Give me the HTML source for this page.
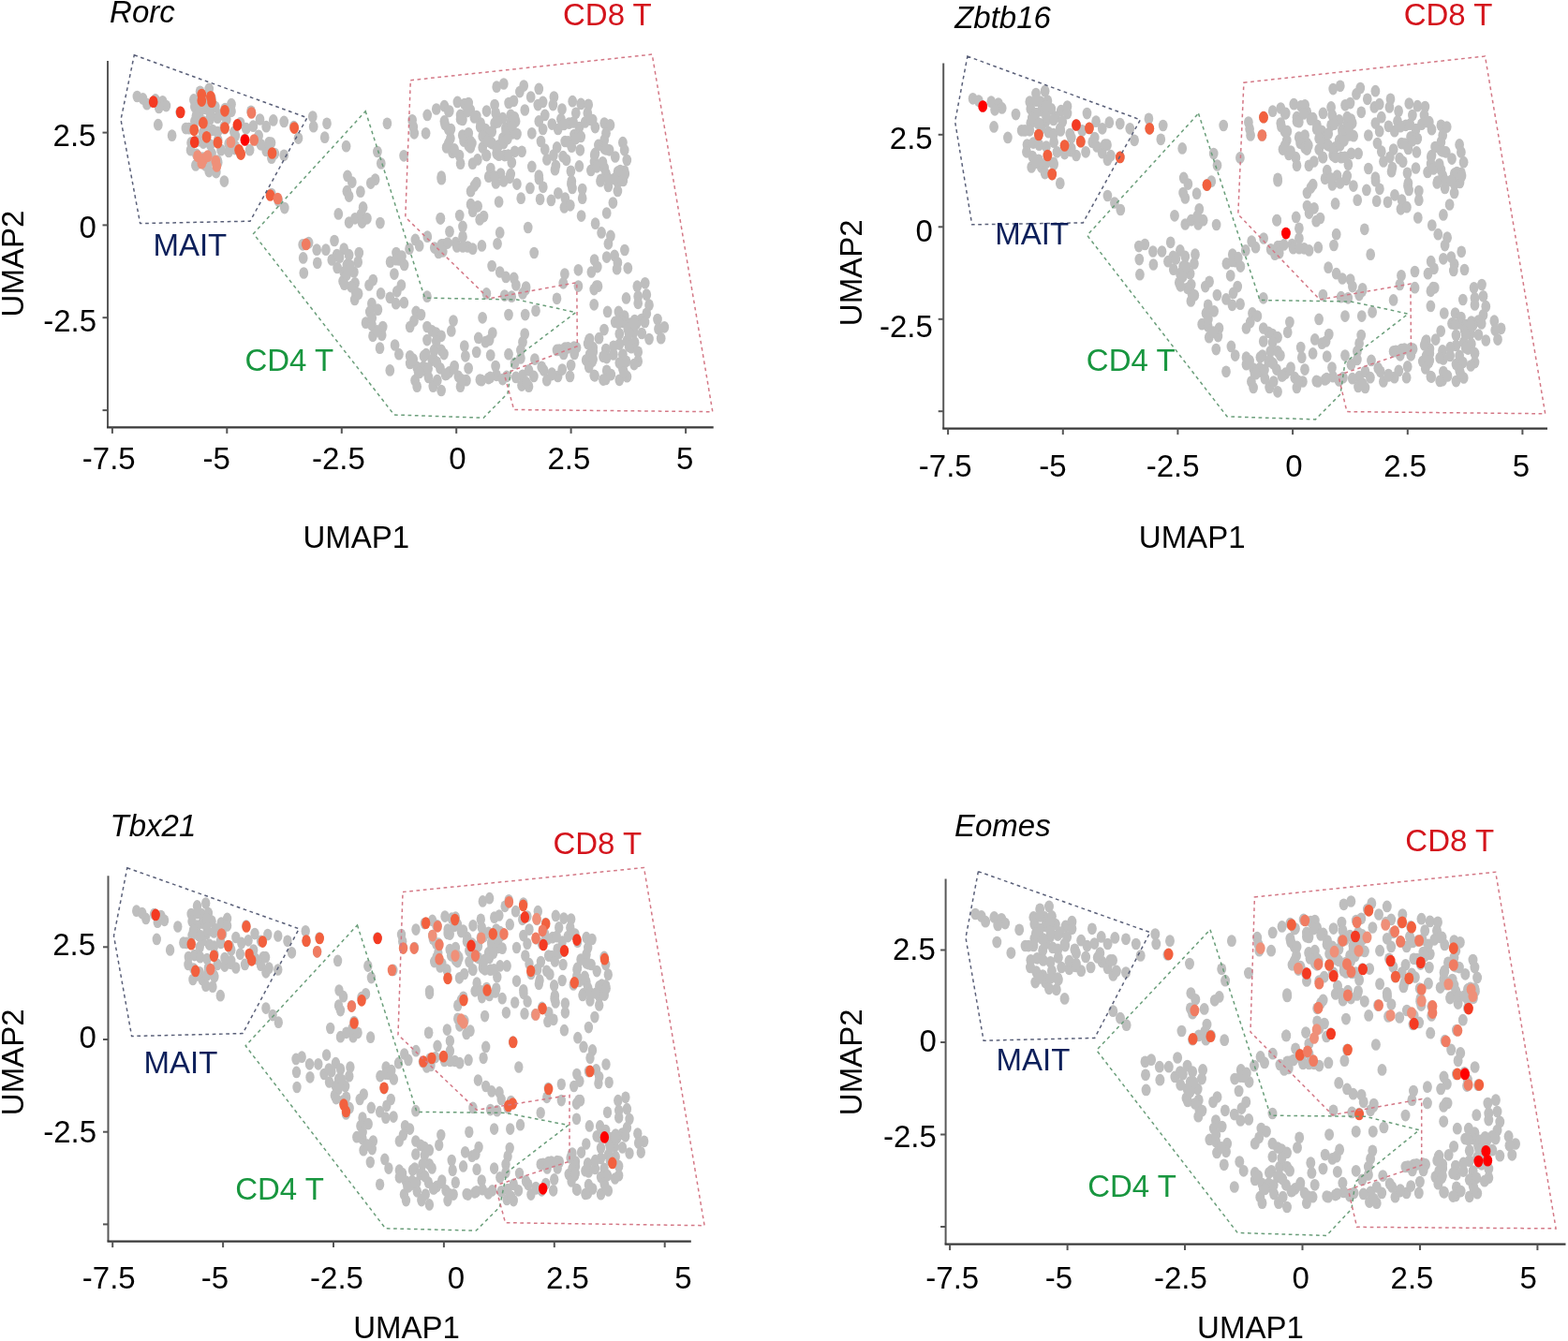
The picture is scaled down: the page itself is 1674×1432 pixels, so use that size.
<!DOCTYPE html><html><head><meta charset="utf-8"><style>
html,body{margin:0;padding:0;background:#fff}
svg{display:block}
text{font-family:"Liberation Sans",Arial,Helvetica,sans-serif}
</style></head><body>
<svg width="1674" height="1432" viewBox="0 0 1674 1432">
<g fill="#bebebe"><ellipse cx="146.4" cy="103.0" rx="4.85" ry="6.35"/><ellipse cx="165.9" cy="106.4" rx="4.85" ry="6.35"/><ellipse cx="173.6" cy="108.3" rx="4.85" ry="6.35"/><ellipse cx="177.4" cy="113.1" rx="4.85" ry="6.35"/><ellipse cx="169.7" cy="115.0" rx="4.85" ry="6.35"/><ellipse cx="192.2" cy="119.8" rx="4.85" ry="6.35"/><ellipse cx="168.8" cy="133.2" rx="4.85" ry="6.35"/><ellipse cx="183.6" cy="144.7" rx="4.85" ry="6.35"/><ellipse cx="223.2" cy="94.9" rx="4.85" ry="6.35"/><ellipse cx="213.6" cy="97.8" rx="4.85" ry="6.35"/><ellipse cx="206.9" cy="106.4" rx="4.85" ry="6.35"/><ellipse cx="218.4" cy="106.4" rx="4.85" ry="6.35"/><ellipse cx="226.0" cy="105.4" rx="4.85" ry="6.35"/><ellipse cx="207.9" cy="114.1" rx="4.85" ry="6.35"/><ellipse cx="219.3" cy="116.0" rx="4.85" ry="6.35"/><ellipse cx="229.8" cy="114.1" rx="4.85" ry="6.35"/><ellipse cx="240.3" cy="116.0" rx="4.85" ry="6.35"/><ellipse cx="247.0" cy="111.2" rx="4.85" ry="6.35"/><ellipse cx="247.0" cy="118.8" rx="4.85" ry="6.35"/><ellipse cx="207.9" cy="129.4" rx="4.85" ry="6.35"/><ellipse cx="215.5" cy="129.4" rx="4.85" ry="6.35"/><ellipse cx="224.1" cy="127.5" rx="4.85" ry="6.35"/><ellipse cx="198.4" cy="137.1" rx="4.85" ry="6.35"/><ellipse cx="206.9" cy="137.1" rx="4.85" ry="6.35"/><ellipse cx="227.0" cy="139.0" rx="4.85" ry="6.35"/><ellipse cx="204.1" cy="152.4" rx="4.85" ry="6.35"/><ellipse cx="210.8" cy="150.5" rx="4.85" ry="6.35"/><ellipse cx="232.7" cy="149.5" rx="4.85" ry="6.35"/><ellipse cx="239.4" cy="135.2" rx="4.85" ry="6.35"/><ellipse cx="268.0" cy="118.8" rx="4.85" ry="6.35"/><ellipse cx="277.5" cy="127.5" rx="4.85" ry="6.35"/><ellipse cx="284.2" cy="135.2" rx="4.85" ry="6.35"/><ellipse cx="256.6" cy="163.9" rx="4.85" ry="6.35"/><ellipse cx="244.2" cy="162.0" rx="4.85" ry="6.35"/><ellipse cx="209.8" cy="164.9" rx="4.85" ry="6.35"/><ellipse cx="208.9" cy="176.4" rx="4.85" ry="6.35"/><ellipse cx="219.3" cy="176.4" rx="4.85" ry="6.35"/><ellipse cx="232.7" cy="173.5" rx="4.85" ry="6.35"/><ellipse cx="239.4" cy="193.6" rx="4.85" ry="6.35"/><ellipse cx="278.5" cy="154.3" rx="4.85" ry="6.35"/><ellipse cx="284.2" cy="161.0" rx="4.85" ry="6.35"/><ellipse cx="249.9" cy="140.9" rx="4.85" ry="6.35"/><ellipse cx="156.9" cy="111.2" rx="4.85" ry="6.35"/><ellipse cx="216.5" cy="141.9" rx="4.85" ry="6.35"/><ellipse cx="226.0" cy="163.9" rx="4.85" ry="6.35"/><ellipse cx="244.2" cy="153.4" rx="4.85" ry="6.35"/><ellipse cx="256.6" cy="131.3" rx="4.85" ry="6.35"/><ellipse cx="261.3" cy="149.1" rx="4.85" ry="6.35"/><ellipse cx="270.4" cy="134.7" rx="4.85" ry="6.35"/><ellipse cx="230.8" cy="184.1" rx="4.85" ry="6.35"/><ellipse cx="291.8" cy="128.4" rx="4.85" ry="6.35"/><ellipse cx="287.0" cy="152.4" rx="4.85" ry="6.35"/><ellipse cx="289.9" cy="168.7" rx="4.85" ry="6.35"/><ellipse cx="303.2" cy="129.9" rx="4.85" ry="6.35"/><ellipse cx="313.7" cy="135.2" rx="4.85" ry="6.35"/><ellipse cx="318.5" cy="147.6" rx="4.85" ry="6.35"/><ellipse cx="333.8" cy="124.6" rx="4.85" ry="6.35"/><ellipse cx="349.0" cy="131.8" rx="4.85" ry="6.35"/><ellipse cx="346.7" cy="146.7" rx="4.85" ry="6.35"/><ellipse cx="369.6" cy="156.2" rx="4.85" ry="6.35"/><ellipse cx="413.4" cy="131.8" rx="4.85" ry="6.35"/><ellipse cx="402.9" cy="162.0" rx="4.85" ry="6.35"/><ellipse cx="406.8" cy="174.5" rx="4.85" ry="6.35"/><ellipse cx="431.1" cy="166.3" rx="4.85" ry="6.35"/><ellipse cx="371.0" cy="187.9" rx="4.85" ry="6.35"/><ellipse cx="375.8" cy="194.6" rx="4.85" ry="6.35"/><ellipse cx="400.6" cy="191.7" rx="4.85" ry="6.35"/><ellipse cx="334.7" cy="135.2" rx="4.85" ry="6.35"/><ellipse cx="303.2" cy="165.8" rx="4.85" ry="6.35"/><ellipse cx="395.8" cy="195.6" rx="4.85" ry="6.35"/><ellipse cx="440.1" cy="128.3" rx="4.85" ry="6.35"/><ellipse cx="442.2" cy="142.3" rx="4.85" ry="6.35"/><ellipse cx="465.8" cy="116.5" rx="4.85" ry="6.35"/><ellipse cx="474.4" cy="113.2" rx="4.85" ry="6.35"/><ellipse cx="479.8" cy="118.6" rx="4.85" ry="6.35"/><ellipse cx="474.4" cy="129.4" rx="4.85" ry="6.35"/><ellipse cx="478.7" cy="138.0" rx="4.85" ry="6.35"/><ellipse cx="480.9" cy="147.7" rx="4.85" ry="6.35"/><ellipse cx="476.6" cy="157.4" rx="4.85" ry="6.35"/><ellipse cx="483.0" cy="162.8" rx="4.85" ry="6.35"/><ellipse cx="490.5" cy="166.1" rx="4.85" ry="6.35"/><ellipse cx="491.6" cy="174.7" rx="4.85" ry="6.35"/><ellipse cx="488.4" cy="108.9" rx="4.85" ry="6.35"/><ellipse cx="495.9" cy="111.1" rx="4.85" ry="6.35"/><ellipse cx="500.2" cy="110.0" rx="4.85" ry="6.35"/><ellipse cx="491.6" cy="122.9" rx="4.85" ry="6.35"/><ellipse cx="491.6" cy="127.2" rx="4.85" ry="6.35"/><ellipse cx="502.3" cy="117.5" rx="4.85" ry="6.35"/><ellipse cx="508.8" cy="124.0" rx="4.85" ry="6.35"/><ellipse cx="513.1" cy="131.6" rx="4.85" ry="6.35"/><ellipse cx="518.4" cy="138.0" rx="4.85" ry="6.35"/><ellipse cx="521.7" cy="144.5" rx="4.85" ry="6.35"/><ellipse cx="523.8" cy="152.1" rx="4.85" ry="6.35"/><ellipse cx="493.8" cy="144.5" rx="4.85" ry="6.35"/><ellipse cx="500.2" cy="142.3" rx="4.85" ry="6.35"/><ellipse cx="502.3" cy="151.0" rx="4.85" ry="6.35"/><ellipse cx="502.3" cy="157.4" rx="4.85" ry="6.35"/><ellipse cx="515.2" cy="157.4" rx="4.85" ry="6.35"/><ellipse cx="519.5" cy="166.1" rx="4.85" ry="6.35"/><ellipse cx="504.5" cy="174.7" rx="4.85" ry="6.35"/><ellipse cx="509.9" cy="170.4" rx="4.85" ry="6.35"/><ellipse cx="530.2" cy="92.7" rx="4.85" ry="6.35"/><ellipse cx="537.8" cy="89.5" rx="4.85" ry="6.35"/><ellipse cx="519.5" cy="118.6" rx="4.85" ry="6.35"/><ellipse cx="528.1" cy="112.1" rx="4.85" ry="6.35"/><ellipse cx="529.2" cy="120.8" rx="4.85" ry="6.35"/><ellipse cx="528.1" cy="131.6" rx="4.85" ry="6.35"/><ellipse cx="536.7" cy="126.2" rx="4.85" ry="6.35"/><ellipse cx="539.9" cy="136.9" rx="4.85" ry="6.35"/><ellipse cx="536.7" cy="147.7" rx="4.85" ry="6.35"/><ellipse cx="532.4" cy="155.3" rx="4.85" ry="6.35"/><ellipse cx="530.2" cy="163.9" rx="4.85" ry="6.35"/><ellipse cx="538.8" cy="166.1" rx="4.85" ry="6.35"/><ellipse cx="543.1" cy="110.0" rx="4.85" ry="6.35"/><ellipse cx="548.5" cy="107.8" rx="4.85" ry="6.35"/><ellipse cx="554.9" cy="98.1" rx="4.85" ry="6.35"/><ellipse cx="559.2" cy="91.6" rx="4.85" ry="6.35"/><ellipse cx="545.3" cy="122.9" rx="4.85" ry="6.35"/><ellipse cx="550.6" cy="129.4" rx="4.85" ry="6.35"/><ellipse cx="547.4" cy="142.3" rx="4.85" ry="6.35"/><ellipse cx="549.6" cy="161.8" rx="4.85" ry="6.35"/><ellipse cx="557.1" cy="161.8" rx="4.85" ry="6.35"/><ellipse cx="546.3" cy="173.6" rx="4.85" ry="6.35"/><ellipse cx="560.3" cy="117.5" rx="4.85" ry="6.35"/><ellipse cx="567.8" cy="142.3" rx="4.85" ry="6.35"/><ellipse cx="567.8" cy="177.9" rx="4.85" ry="6.35"/><ellipse cx="566.7" cy="103.5" rx="4.85" ry="6.35"/><ellipse cx="575.3" cy="94.9" rx="4.85" ry="6.35"/><ellipse cx="574.3" cy="112.1" rx="4.85" ry="6.35"/><ellipse cx="579.6" cy="108.9" rx="4.85" ry="6.35"/><ellipse cx="581.8" cy="122.9" rx="4.85" ry="6.35"/><ellipse cx="575.3" cy="129.4" rx="4.85" ry="6.35"/><ellipse cx="579.6" cy="138.0" rx="4.85" ry="6.35"/><ellipse cx="577.5" cy="151.0" rx="4.85" ry="6.35"/><ellipse cx="581.8" cy="159.6" rx="4.85" ry="6.35"/><ellipse cx="583.9" cy="170.4" rx="4.85" ry="6.35"/><ellipse cx="591.4" cy="103.5" rx="4.85" ry="6.35"/><ellipse cx="590.4" cy="112.1" rx="4.85" ry="6.35"/><ellipse cx="600.0" cy="116.5" rx="4.85" ry="6.35"/><ellipse cx="598.9" cy="127.2" rx="4.85" ry="6.35"/><ellipse cx="595.7" cy="138.0" rx="4.85" ry="6.35"/><ellipse cx="589.3" cy="132.6" rx="4.85" ry="6.35"/><ellipse cx="594.6" cy="157.4" rx="4.85" ry="6.35"/><ellipse cx="603.2" cy="151.0" rx="4.85" ry="6.35"/><ellipse cx="601.1" cy="167.2" rx="4.85" ry="6.35"/><ellipse cx="592.5" cy="181.2" rx="4.85" ry="6.35"/><ellipse cx="471.2" cy="188.7" rx="4.85" ry="6.35"/><ellipse cx="523.8" cy="180.1" rx="4.85" ry="6.35"/><ellipse cx="521.7" cy="188.7" rx="4.85" ry="6.35"/><ellipse cx="534.5" cy="185.5" rx="4.85" ry="6.35"/><ellipse cx="544.2" cy="189.8" rx="4.85" ry="6.35"/><ellipse cx="575.3" cy="187.7" rx="4.85" ry="6.35"/><ellipse cx="508.8" cy="195.2" rx="4.85" ry="6.35"/><ellipse cx="456.2" cy="122.9" rx="4.85" ry="6.35"/><ellipse cx="454.6" cy="142.3" rx="4.85" ry="6.35"/><ellipse cx="611.2" cy="108.2" rx="4.85" ry="6.35"/><ellipse cx="620.2" cy="110.9" rx="4.85" ry="6.35"/><ellipse cx="628.2" cy="111.8" rx="4.85" ry="6.35"/><ellipse cx="614.8" cy="120.8" rx="4.85" ry="6.35"/><ellipse cx="627.3" cy="120.8" rx="4.85" ry="6.35"/><ellipse cx="632.7" cy="128.0" rx="4.85" ry="6.35"/><ellipse cx="635.4" cy="136.1" rx="4.85" ry="6.35"/><ellipse cx="645.2" cy="131.6" rx="4.85" ry="6.35"/><ellipse cx="651.5" cy="133.4" rx="4.85" ry="6.35"/><ellipse cx="647.0" cy="142.3" rx="4.85" ry="6.35"/><ellipse cx="645.2" cy="149.5" rx="4.85" ry="6.35"/><ellipse cx="607.6" cy="131.6" rx="4.85" ry="6.35"/><ellipse cx="618.4" cy="136.1" rx="4.85" ry="6.35"/><ellipse cx="613.0" cy="144.1" rx="4.85" ry="6.35"/><ellipse cx="620.2" cy="145.9" rx="4.85" ry="6.35"/><ellipse cx="606.7" cy="151.3" rx="4.85" ry="6.35"/><ellipse cx="610.3" cy="156.7" rx="4.85" ry="6.35"/><ellipse cx="619.3" cy="160.3" rx="4.85" ry="6.35"/><ellipse cx="638.9" cy="154.9" rx="4.85" ry="6.35"/><ellipse cx="635.4" cy="163.9" rx="4.85" ry="6.35"/><ellipse cx="634.5" cy="172.9" rx="4.85" ry="6.35"/><ellipse cx="645.2" cy="158.5" rx="4.85" ry="6.35"/><ellipse cx="650.6" cy="160.3" rx="4.85" ry="6.35"/><ellipse cx="656.8" cy="167.5" rx="4.85" ry="6.35"/><ellipse cx="664.9" cy="152.2" rx="4.85" ry="6.35"/><ellipse cx="666.7" cy="160.3" rx="4.85" ry="6.35"/><ellipse cx="669.3" cy="171.1" rx="4.85" ry="6.35"/><ellipse cx="630.9" cy="181.9" rx="4.85" ry="6.35"/><ellipse cx="645.2" cy="179.2" rx="4.85" ry="6.35"/><ellipse cx="618.4" cy="177.4" rx="4.85" ry="6.35"/><ellipse cx="609.4" cy="182.8" rx="4.85" ry="6.35"/><ellipse cx="610.3" cy="193.6" rx="4.85" ry="6.35"/><ellipse cx="641.6" cy="191.8" rx="4.85" ry="6.35"/><ellipse cx="647.0" cy="185.5" rx="4.85" ry="6.35"/><ellipse cx="659.5" cy="183.7" rx="4.85" ry="6.35"/><ellipse cx="666.7" cy="182.8" rx="4.85" ry="6.35"/><ellipse cx="659.5" cy="194.5" rx="4.85" ry="6.35"/><ellipse cx="289.8" cy="207.0" rx="4.85" ry="6.35"/><ellipse cx="297.3" cy="214.6" rx="4.85" ry="6.35"/><ellipse cx="303.8" cy="222.1" rx="4.85" ry="6.35"/><ellipse cx="370.4" cy="204.2" rx="4.85" ry="6.35"/><ellipse cx="372.6" cy="209.6" rx="4.85" ry="6.35"/><ellipse cx="384.9" cy="204.7" rx="4.85" ry="6.35"/><ellipse cx="361.3" cy="228.4" rx="4.85" ry="6.35"/><ellipse cx="372.6" cy="237.6" rx="4.85" ry="6.35"/><ellipse cx="379.0" cy="233.3" rx="4.85" ry="6.35"/><ellipse cx="386.5" cy="237.6" rx="4.85" ry="6.35"/><ellipse cx="387.6" cy="221.4" rx="4.85" ry="6.35"/><ellipse cx="385.5" cy="229.0" rx="4.85" ry="6.35"/><ellipse cx="391.9" cy="233.3" rx="4.85" ry="6.35"/><ellipse cx="405.9" cy="238.1" rx="4.85" ry="6.35"/><ellipse cx="470.2" cy="233.3" rx="4.85" ry="6.35"/><ellipse cx="471.3" cy="191.2" rx="4.85" ry="6.35"/><ellipse cx="329.6" cy="259.2" rx="4.85" ry="6.35"/><ellipse cx="323.2" cy="261.3" rx="4.85" ry="6.35"/><ellipse cx="338.2" cy="266.7" rx="4.85" ry="6.35"/><ellipse cx="347.9" cy="266.7" rx="4.85" ry="6.35"/><ellipse cx="357.0" cy="257.0" rx="4.85" ry="6.35"/><ellipse cx="323.7" cy="275.4" rx="4.85" ry="6.35"/><ellipse cx="338.8" cy="280.8" rx="4.85" ry="6.35"/><ellipse cx="324.3" cy="291.5" rx="4.85" ry="6.35"/><ellipse cx="354.3" cy="277.5" rx="4.85" ry="6.35"/><ellipse cx="359.7" cy="272.1" rx="4.85" ry="6.35"/><ellipse cx="367.2" cy="265.7" rx="4.85" ry="6.35"/><ellipse cx="383.3" cy="270.0" rx="4.85" ry="6.35"/><ellipse cx="370.4" cy="282.9" rx="4.85" ry="6.35"/><ellipse cx="382.2" cy="279.7" rx="4.85" ry="6.35"/><ellipse cx="367.2" cy="290.5" rx="4.85" ry="6.35"/><ellipse cx="377.9" cy="290.5" rx="4.85" ry="6.35"/><ellipse cx="366.1" cy="300.2" rx="4.85" ry="6.35"/><ellipse cx="379.0" cy="302.3" rx="4.85" ry="6.35"/><ellipse cx="398.3" cy="299.1" rx="4.85" ry="6.35"/><ellipse cx="394.0" cy="304.5" rx="4.85" ry="6.35"/><ellipse cx="423.0" cy="270.0" rx="4.85" ry="6.35"/><ellipse cx="416.6" cy="279.7" rx="4.85" ry="6.35"/><ellipse cx="426.2" cy="277.5" rx="4.85" ry="6.35"/><ellipse cx="431.6" cy="282.9" rx="4.85" ry="6.35"/><ellipse cx="420.9" cy="292.6" rx="4.85" ry="6.35"/><ellipse cx="428.4" cy="304.5" rx="4.85" ry="6.35"/><ellipse cx="437.0" cy="265.7" rx="4.85" ry="6.35"/><ellipse cx="443.4" cy="255.9" rx="4.85" ry="6.35"/><ellipse cx="447.7" cy="262.4" rx="4.85" ry="6.35"/><ellipse cx="456.3" cy="252.7" rx="4.85" ry="6.35"/><ellipse cx="463.8" cy="264.6" rx="4.85" ry="6.35"/><ellipse cx="471.3" cy="261.3" rx="4.85" ry="6.35"/><ellipse cx="502.6" cy="204.2" rx="4.85" ry="6.35"/><ellipse cx="529.4" cy="195.5" rx="4.85" ry="6.35"/><ellipse cx="551.9" cy="196.6" rx="4.85" ry="6.35"/><ellipse cx="565.9" cy="200.9" rx="4.85" ry="6.35"/><ellipse cx="556.2" cy="211.7" rx="4.85" ry="6.35"/><ellipse cx="532.6" cy="215.5" rx="4.85" ry="6.35"/><ellipse cx="575.5" cy="191.2" rx="4.85" ry="6.35"/><ellipse cx="579.8" cy="199.8" rx="4.85" ry="6.35"/><ellipse cx="576.6" cy="212.8" rx="4.85" ry="6.35"/><ellipse cx="588.4" cy="213.9" rx="4.85" ry="6.35"/><ellipse cx="595.9" cy="206.3" rx="4.85" ry="6.35"/><ellipse cx="603.4" cy="211.7" rx="4.85" ry="6.35"/><ellipse cx="602.4" cy="221.4" rx="4.85" ry="6.35"/><ellipse cx="608.8" cy="219.3" rx="4.85" ry="6.35"/><ellipse cx="609.9" cy="196.6" rx="4.85" ry="6.35"/><ellipse cx="611.0" cy="200.9" rx="4.85" ry="6.35"/><ellipse cx="621.7" cy="202.0" rx="4.85" ry="6.35"/><ellipse cx="621.7" cy="211.7" rx="4.85" ry="6.35"/><ellipse cx="641.0" cy="193.4" rx="4.85" ry="6.35"/><ellipse cx="620.6" cy="230.6" rx="4.85" ry="6.35"/><ellipse cx="635.6" cy="238.7" rx="4.85" ry="6.35"/><ellipse cx="642.1" cy="248.4" rx="4.85" ry="6.35"/><ellipse cx="470.4" cy="233.3" rx="4.85" ry="6.35"/><ellipse cx="490.7" cy="230.1" rx="4.85" ry="6.35"/><ellipse cx="502.6" cy="218.2" rx="4.85" ry="6.35"/><ellipse cx="510.1" cy="220.3" rx="4.85" ry="6.35"/><ellipse cx="504.7" cy="225.7" rx="4.85" ry="6.35"/><ellipse cx="516.5" cy="231.1" rx="4.85" ry="6.35"/><ellipse cx="512.2" cy="234.4" rx="4.85" ry="6.35"/><ellipse cx="494.0" cy="241.9" rx="4.85" ry="6.35"/><ellipse cx="494.0" cy="252.7" rx="4.85" ry="6.35"/><ellipse cx="486.5" cy="259.2" rx="4.85" ry="6.35"/><ellipse cx="473.6" cy="261.3" rx="4.85" ry="6.35"/><ellipse cx="468.2" cy="270.0" rx="4.85" ry="6.35"/><ellipse cx="499.3" cy="263.5" rx="4.85" ry="6.35"/><ellipse cx="504.7" cy="265.7" rx="4.85" ry="6.35"/><ellipse cx="514.4" cy="262.4" rx="4.85" ry="6.35"/><ellipse cx="533.7" cy="248.4" rx="4.85" ry="6.35"/><ellipse cx="531.0" cy="260.3" rx="4.85" ry="6.35"/><ellipse cx="563.7" cy="243.0" rx="4.85" ry="6.35"/><ellipse cx="570.2" cy="270.0" rx="4.85" ry="6.35"/><ellipse cx="525.1" cy="284.0" rx="4.85" ry="6.35"/><ellipse cx="533.7" cy="290.5" rx="4.85" ry="6.35"/><ellipse cx="540.1" cy="295.9" rx="4.85" ry="6.35"/><ellipse cx="548.7" cy="296.9" rx="4.85" ry="6.35"/><ellipse cx="550.9" cy="304.5" rx="4.85" ry="6.35"/><ellipse cx="561.6" cy="306.6" rx="4.85" ry="6.35"/><ellipse cx="602.9" cy="292.6" rx="4.85" ry="6.35"/><ellipse cx="601.3" cy="302.3" rx="4.85" ry="6.35"/><ellipse cx="617.4" cy="288.3" rx="4.85" ry="6.35"/><ellipse cx="634.6" cy="277.5" rx="4.85" ry="6.35"/><ellipse cx="637.8" cy="285.1" rx="4.85" ry="6.35"/><ellipse cx="631.4" cy="290.5" rx="4.85" ry="6.35"/><ellipse cx="636.7" cy="305.6" rx="4.85" ry="6.35"/><ellipse cx="617.4" cy="305.6" rx="4.85" ry="6.35"/><ellipse cx="480.0" cy="247.3" rx="4.85" ry="6.35"/><ellipse cx="649.4" cy="198.9" rx="4.85" ry="6.35"/><ellipse cx="665.3" cy="193.0" rx="4.85" ry="6.35"/><ellipse cx="659.4" cy="204.0" rx="4.85" ry="6.35"/><ellipse cx="654.4" cy="216.6" rx="4.85" ry="6.35"/><ellipse cx="647.7" cy="227.5" rx="4.85" ry="6.35"/><ellipse cx="651.9" cy="251.9" rx="4.85" ry="6.35"/><ellipse cx="649.4" cy="260.3" rx="4.85" ry="6.35"/><ellipse cx="666.9" cy="267.0" rx="4.85" ry="6.35"/><ellipse cx="647.7" cy="274.6" rx="4.85" ry="6.35"/><ellipse cx="656.1" cy="272.9" rx="4.85" ry="6.35"/><ellipse cx="659.4" cy="280.5" rx="4.85" ry="6.35"/><ellipse cx="658.6" cy="287.2" rx="4.85" ry="6.35"/><ellipse cx="670.3" cy="286.3" rx="4.85" ry="6.35"/><ellipse cx="688.7" cy="302.3" rx="4.85" ry="6.35"/><ellipse cx="680.3" cy="305.7" rx="4.85" ry="6.35"/><ellipse cx="638.5" cy="305.7" rx="4.85" ry="6.35"/><ellipse cx="379.8" cy="312.4" rx="4.85" ry="6.35"/><ellipse cx="378.7" cy="319.9" rx="4.85" ry="6.35"/><ellipse cx="406.6" cy="313.4" rx="4.85" ry="6.35"/><ellipse cx="416.3" cy="317.8" rx="4.85" ry="6.35"/><ellipse cx="422.7" cy="324.2" rx="4.85" ry="6.35"/><ellipse cx="431.3" cy="323.2" rx="4.85" ry="6.35"/><ellipse cx="423.8" cy="311.3" rx="4.85" ry="6.35"/><ellipse cx="396.9" cy="324.2" rx="4.85" ry="6.35"/><ellipse cx="394.8" cy="332.9" rx="4.85" ry="6.35"/><ellipse cx="403.4" cy="330.7" rx="4.85" ry="6.35"/><ellipse cx="390.5" cy="344.7" rx="4.85" ry="6.35"/><ellipse cx="396.9" cy="346.9" rx="4.85" ry="6.35"/><ellipse cx="398.0" cy="358.8" rx="4.85" ry="6.35"/><ellipse cx="408.7" cy="349.0" rx="4.85" ry="6.35"/><ellipse cx="407.7" cy="357.7" rx="4.85" ry="6.35"/><ellipse cx="405.5" cy="371.7" rx="4.85" ry="6.35"/><ellipse cx="421.6" cy="368.5" rx="4.85" ry="6.35"/><ellipse cx="425.9" cy="378.2" rx="4.85" ry="6.35"/><ellipse cx="416.3" cy="395.4" rx="4.85" ry="6.35"/><ellipse cx="444.2" cy="332.9" rx="4.85" ry="6.35"/><ellipse cx="449.5" cy="336.1" rx="4.85" ry="6.35"/><ellipse cx="442.0" cy="342.6" rx="4.85" ry="6.35"/><ellipse cx="437.7" cy="349.0" rx="4.85" ry="6.35"/><ellipse cx="456.0" cy="316.7" rx="4.85" ry="6.35"/><ellipse cx="456.0" cy="349.0" rx="4.85" ry="6.35"/><ellipse cx="461.3" cy="353.4" rx="4.85" ry="6.35"/><ellipse cx="456.0" cy="363.1" rx="4.85" ry="6.35"/><ellipse cx="465.6" cy="355.5" rx="4.85" ry="6.35"/><ellipse cx="437.7" cy="380.3" rx="4.85" ry="6.35"/><ellipse cx="437.7" cy="387.9" rx="4.85" ry="6.35"/><ellipse cx="445.2" cy="392.2" rx="4.85" ry="6.35"/><ellipse cx="453.8" cy="395.4" rx="4.85" ry="6.35"/><ellipse cx="454.9" cy="378.2" rx="4.85" ry="6.35"/><ellipse cx="463.5" cy="373.9" rx="4.85" ry="6.35"/><ellipse cx="461.3" cy="384.6" rx="4.85" ry="6.35"/><ellipse cx="443.1" cy="406.2" rx="4.85" ry="6.35"/><ellipse cx="445.2" cy="412.7" rx="4.85" ry="6.35"/><ellipse cx="462.4" cy="412.7" rx="4.85" ry="6.35"/><ellipse cx="519.4" cy="313.4" rx="4.85" ry="6.35"/><ellipse cx="538.7" cy="315.6" rx="4.85" ry="6.35"/><ellipse cx="546.2" cy="316.7" rx="4.85" ry="6.35"/><ellipse cx="561.3" cy="309.1" rx="4.85" ry="6.35"/><ellipse cx="558.0" cy="313.4" rx="4.85" ry="6.35"/><ellipse cx="594.5" cy="318.8" rx="4.85" ry="6.35"/><ellipse cx="634.2" cy="309.1" rx="4.85" ry="6.35"/><ellipse cx="634.2" cy="325.3" rx="4.85" ry="6.35"/><ellipse cx="515.1" cy="339.3" rx="4.85" ry="6.35"/><ellipse cx="543.0" cy="336.1" rx="4.85" ry="6.35"/><ellipse cx="560.7" cy="336.1" rx="4.85" ry="6.35"/><ellipse cx="572.0" cy="331.8" rx="4.85" ry="6.35"/><ellipse cx="484.0" cy="342.6" rx="4.85" ry="6.35"/><ellipse cx="481.8" cy="353.4" rx="4.85" ry="6.35"/><ellipse cx="471.1" cy="358.8" rx="4.85" ry="6.35"/><ellipse cx="471.1" cy="373.9" rx="4.85" ry="6.35"/><ellipse cx="510.8" cy="360.9" rx="4.85" ry="6.35"/><ellipse cx="518.3" cy="365.2" rx="4.85" ry="6.35"/><ellipse cx="525.8" cy="355.5" rx="4.85" ry="6.35"/><ellipse cx="522.6" cy="363.1" rx="4.85" ry="6.35"/><ellipse cx="495.8" cy="369.5" rx="4.85" ry="6.35"/><ellipse cx="496.9" cy="380.3" rx="4.85" ry="6.35"/><ellipse cx="508.7" cy="376.0" rx="4.85" ry="6.35"/><ellipse cx="523.7" cy="379.3" rx="4.85" ry="6.35"/><ellipse cx="560.2" cy="356.6" rx="4.85" ry="6.35"/><ellipse cx="558.0" cy="365.2" rx="4.85" ry="6.35"/><ellipse cx="555.9" cy="373.9" rx="4.85" ry="6.35"/><ellipse cx="543.0" cy="378.2" rx="4.85" ry="6.35"/><ellipse cx="555.9" cy="382.5" rx="4.85" ry="6.35"/><ellipse cx="549.5" cy="387.9" rx="4.85" ry="6.35"/><ellipse cx="570.9" cy="383.6" rx="4.85" ry="6.35"/><ellipse cx="529.1" cy="391.1" rx="4.85" ry="6.35"/><ellipse cx="530.1" cy="400.8" rx="4.85" ry="6.35"/><ellipse cx="514.0" cy="406.2" rx="4.85" ry="6.35"/><ellipse cx="521.6" cy="404.1" rx="4.85" ry="6.35"/><ellipse cx="485.1" cy="391.1" rx="4.85" ry="6.35"/><ellipse cx="500.1" cy="393.3" rx="4.85" ry="6.35"/><ellipse cx="489.4" cy="401.9" rx="4.85" ry="6.35"/><ellipse cx="497.9" cy="406.2" rx="4.85" ry="6.35"/><ellipse cx="491.5" cy="412.7" rx="4.85" ry="6.35"/><ellipse cx="476.5" cy="399.7" rx="4.85" ry="6.35"/><ellipse cx="470.0" cy="393.3" rx="4.85" ry="6.35"/><ellipse cx="462.5" cy="411.6" rx="4.85" ry="6.35"/><ellipse cx="471.1" cy="417.0" rx="4.85" ry="6.35"/><ellipse cx="466.8" cy="406.2" rx="4.85" ry="6.35"/><ellipse cx="540.9" cy="401.9" rx="4.85" ry="6.35"/><ellipse cx="536.6" cy="405.1" rx="4.85" ry="6.35"/><ellipse cx="558.0" cy="400.8" rx="4.85" ry="6.35"/><ellipse cx="564.5" cy="395.4" rx="4.85" ry="6.35"/><ellipse cx="569.9" cy="401.9" rx="4.85" ry="6.35"/><ellipse cx="557.0" cy="411.6" rx="4.85" ry="6.35"/><ellipse cx="564.5" cy="412.7" rx="4.85" ry="6.35"/><ellipse cx="580.6" cy="395.4" rx="4.85" ry="6.35"/><ellipse cx="583.8" cy="406.2" rx="4.85" ry="6.35"/><ellipse cx="589.2" cy="398.7" rx="4.85" ry="6.35"/><ellipse cx="595.6" cy="401.9" rx="4.85" ry="6.35"/><ellipse cx="594.5" cy="373.9" rx="4.85" ry="6.35"/><ellipse cx="603.1" cy="371.7" rx="4.85" ry="6.35"/><ellipse cx="612.8" cy="370.6" rx="4.85" ry="6.35"/><ellipse cx="609.6" cy="390.0" rx="4.85" ry="6.35"/><ellipse cx="608.5" cy="401.9" rx="4.85" ry="6.35"/><ellipse cx="628.9" cy="363.1" rx="4.85" ry="6.35"/><ellipse cx="625.7" cy="384.6" rx="4.85" ry="6.35"/><ellipse cx="633.2" cy="376.0" rx="4.85" ry="6.35"/><ellipse cx="634.2" cy="400.8" rx="4.85" ry="6.35"/><ellipse cx="668.5" cy="318.4" rx="4.85" ry="6.35"/><ellipse cx="681.2" cy="316.6" rx="4.85" ry="6.35"/><ellipse cx="681.2" cy="323.8" rx="4.85" ry="6.35"/><ellipse cx="690.3" cy="314.7" rx="4.85" ry="6.35"/><ellipse cx="693.0" cy="325.7" rx="4.85" ry="6.35"/><ellipse cx="690.3" cy="334.8" rx="4.85" ry="6.35"/><ellipse cx="684.8" cy="341.1" rx="4.85" ry="6.35"/><ellipse cx="677.6" cy="342.1" rx="4.85" ry="6.35"/><ellipse cx="648.6" cy="332.9" rx="4.85" ry="6.35"/><ellipse cx="660.4" cy="332.9" rx="4.85" ry="6.35"/><ellipse cx="666.7" cy="337.5" rx="4.85" ry="6.35"/><ellipse cx="656.7" cy="343.9" rx="4.85" ry="6.35"/><ellipse cx="664.9" cy="343.9" rx="4.85" ry="6.35"/><ellipse cx="672.1" cy="345.7" rx="4.85" ry="6.35"/><ellipse cx="679.4" cy="345.7" rx="4.85" ry="6.35"/><ellipse cx="688.5" cy="343.9" rx="4.85" ry="6.35"/><ellipse cx="670.3" cy="351.2" rx="4.85" ry="6.35"/><ellipse cx="661.3" cy="356.6" rx="4.85" ry="6.35"/><ellipse cx="676.7" cy="354.8" rx="4.85" ry="6.35"/><ellipse cx="702.0" cy="341.1" rx="4.85" ry="6.35"/><ellipse cx="709.3" cy="349.3" rx="4.85" ry="6.35"/><ellipse cx="703.0" cy="351.2" rx="4.85" ry="6.35"/><ellipse cx="705.7" cy="361.2" rx="4.85" ry="6.35"/><ellipse cx="693.0" cy="362.1" rx="4.85" ry="6.35"/><ellipse cx="645.0" cy="352.1" rx="4.85" ry="6.35"/><ellipse cx="639.5" cy="361.2" rx="4.85" ry="6.35"/><ellipse cx="629.6" cy="362.1" rx="4.85" ry="6.35"/><ellipse cx="633.2" cy="371.2" rx="4.85" ry="6.35"/><ellipse cx="629.6" cy="378.5" rx="4.85" ry="6.35"/><ellipse cx="632.3" cy="385.8" rx="4.85" ry="6.35"/><ellipse cx="628.7" cy="392.1" rx="4.85" ry="6.35"/><ellipse cx="646.8" cy="373.0" rx="4.85" ry="6.35"/><ellipse cx="647.7" cy="382.1" rx="4.85" ry="6.35"/><ellipse cx="654.9" cy="378.5" rx="4.85" ry="6.35"/><ellipse cx="661.3" cy="367.6" rx="4.85" ry="6.35"/><ellipse cx="669.4" cy="363.9" rx="4.85" ry="6.35"/><ellipse cx="677.6" cy="365.7" rx="4.85" ry="6.35"/><ellipse cx="674.0" cy="371.2" rx="4.85" ry="6.35"/><ellipse cx="681.2" cy="375.8" rx="4.85" ry="6.35"/><ellipse cx="664.9" cy="378.5" rx="4.85" ry="6.35"/><ellipse cx="681.2" cy="385.8" rx="4.85" ry="6.35"/><ellipse cx="661.3" cy="387.6" rx="4.85" ry="6.35"/><ellipse cx="668.5" cy="385.8" rx="4.85" ry="6.35"/><ellipse cx="664.9" cy="394.0" rx="4.85" ry="6.35"/><ellipse cx="647.7" cy="395.8" rx="4.85" ry="6.35"/><ellipse cx="646.8" cy="404.9" rx="4.85" ry="6.35"/><ellipse cx="661.3" cy="405.8" rx="4.85" ry="6.35"/><ellipse cx="669.4" cy="402.2" rx="4.85" ry="6.35"/><ellipse cx="635.0" cy="401.3" rx="4.85" ry="6.35"/><ellipse cx="152.6" cy="105.4" rx="4.85" ry="6.35"/><ellipse cx="213.6" cy="105.4" rx="4.85" ry="6.35"/><ellipse cx="224.1" cy="111.2" rx="4.85" ry="6.35"/><ellipse cx="213.6" cy="118.8" rx="4.85" ry="6.35"/><ellipse cx="234.6" cy="122.7" rx="4.85" ry="6.35"/><ellipse cx="219.3" cy="135.2" rx="4.85" ry="6.35"/><ellipse cx="216.5" cy="168.7" rx="4.85" ry="6.35"/><ellipse cx="223.2" cy="183.1" rx="4.85" ry="6.35"/><ellipse cx="250.8" cy="159.1" rx="4.85" ry="6.35"/><ellipse cx="273.7" cy="149.5" rx="4.85" ry="6.35"/><ellipse cx="478.9" cy="119.1" rx="4.85" ry="6.35"/><ellipse cx="475.1" cy="133.0" rx="4.85" ry="6.35"/><ellipse cx="481.4" cy="138.0" rx="4.85" ry="6.35"/><ellipse cx="478.9" cy="153.1" rx="4.85" ry="6.35"/><ellipse cx="485.1" cy="159.4" rx="4.85" ry="6.35"/><ellipse cx="495.1" cy="150.6" rx="4.85" ry="6.35"/><ellipse cx="500.2" cy="155.6" rx="4.85" ry="6.35"/><ellipse cx="503.9" cy="153.1" rx="4.85" ry="6.35"/><ellipse cx="493.9" cy="128.0" rx="4.85" ry="6.35"/><ellipse cx="498.9" cy="119.1" rx="4.85" ry="6.35"/><ellipse cx="506.4" cy="125.4" rx="4.85" ry="6.35"/><ellipse cx="512.7" cy="135.5" rx="4.85" ry="6.35"/><ellipse cx="515.2" cy="145.6" rx="4.85" ry="6.35"/><ellipse cx="520.2" cy="150.6" rx="4.85" ry="6.35"/><ellipse cx="525.2" cy="153.1" rx="4.85" ry="6.35"/><ellipse cx="530.2" cy="158.2" rx="4.85" ry="6.35"/><ellipse cx="537.7" cy="153.1" rx="4.85" ry="6.35"/><ellipse cx="540.2" cy="140.5" rx="4.85" ry="6.35"/><ellipse cx="531.5" cy="130.5" rx="4.85" ry="6.35"/><ellipse cx="545.2" cy="130.5" rx="4.85" ry="6.35"/><ellipse cx="525.2" cy="140.5" rx="4.85" ry="6.35"/><ellipse cx="518.9" cy="165.7" rx="4.85" ry="6.35"/><ellipse cx="532.7" cy="165.7" rx="4.85" ry="6.35"/><ellipse cx="542.7" cy="165.7" rx="4.85" ry="6.35"/><ellipse cx="527.7" cy="188.4" rx="4.85" ry="6.35"/><ellipse cx="537.7" cy="193.4" rx="4.85" ry="6.35"/><ellipse cx="545.2" cy="185.9" rx="4.85" ry="6.35"/><ellipse cx="506.4" cy="198.4" rx="4.85" ry="6.35"/><ellipse cx="441.3" cy="135.5" rx="4.85" ry="6.35"/><ellipse cx="549.5" cy="125.4" rx="4.85" ry="6.35"/><ellipse cx="547.0" cy="135.5" rx="4.85" ry="6.35"/><ellipse cx="542.0" cy="148.1" rx="4.85" ry="6.35"/><ellipse cx="552.0" cy="143.1" rx="4.85" ry="6.35"/><ellipse cx="602.1" cy="133.0" rx="4.85" ry="6.35"/><ellipse cx="612.1" cy="130.5" rx="4.85" ry="6.35"/><ellipse cx="624.7" cy="130.5" rx="4.85" ry="6.35"/><ellipse cx="630.9" cy="128.0" rx="4.85" ry="6.35"/><ellipse cx="614.6" cy="148.1" rx="4.85" ry="6.35"/><ellipse cx="634.7" cy="165.7" rx="4.85" ry="6.35"/><ellipse cx="637.2" cy="178.3" rx="4.85" ry="6.35"/><ellipse cx="643.4" cy="173.3" rx="4.85" ry="6.35"/><ellipse cx="647.2" cy="159.4" rx="4.85" ry="6.35"/><ellipse cx="649.7" cy="190.9" rx="4.85" ry="6.35"/><ellipse cx="656.0" cy="190.9" rx="4.85" ry="6.35"/><ellipse cx="662.2" cy="182.1" rx="4.85" ry="6.35"/><ellipse cx="667.2" cy="185.9" rx="4.85" ry="6.35"/><ellipse cx="590.9" cy="165.7" rx="4.85" ry="6.35"/><ellipse cx="604.6" cy="170.8" rx="4.85" ry="6.35"/><ellipse cx="593.4" cy="177.0" rx="4.85" ry="6.35"/><ellipse cx="362.6" cy="274.7" rx="4.85" ry="6.35"/><ellipse cx="372.6" cy="272.2" rx="4.85" ry="6.35"/><ellipse cx="373.9" cy="283.5" rx="4.85" ry="6.35"/><ellipse cx="370.1" cy="293.6" rx="4.85" ry="6.35"/><ellipse cx="375.1" cy="306.2" rx="4.85" ry="6.35"/><ellipse cx="382.6" cy="313.7" rx="4.85" ry="6.35"/><ellipse cx="367.6" cy="303.7" rx="4.85" ry="6.35"/><ellipse cx="360.1" cy="286.0" rx="4.85" ry="6.35"/><ellipse cx="422.7" cy="277.2" rx="4.85" ry="6.35"/><ellipse cx="429.0" cy="273.5" rx="4.85" ry="6.35"/><ellipse cx="477.8" cy="259.6" rx="4.85" ry="6.35"/><ellipse cx="487.8" cy="263.4" rx="4.85" ry="6.35"/><ellipse cx="472.8" cy="268.4" rx="4.85" ry="6.35"/><ellipse cx="494.1" cy="263.4" rx="4.85" ry="6.35"/><ellipse cx="441.1" cy="383.6" rx="4.85" ry="6.35"/><ellipse cx="452.0" cy="391.8" rx="4.85" ry="6.35"/><ellipse cx="463.0" cy="383.6" rx="4.85" ry="6.35"/><ellipse cx="446.6" cy="397.4" rx="4.85" ry="6.35"/><ellipse cx="457.5" cy="402.9" rx="4.85" ry="6.35"/><ellipse cx="474.0" cy="378.1" rx="4.85" ry="6.35"/><ellipse cx="465.8" cy="364.3" rx="4.85" ry="6.35"/><ellipse cx="479.5" cy="397.4" rx="4.85" ry="6.35"/><ellipse cx="493.2" cy="405.6" rx="4.85" ry="6.35"/><ellipse cx="550.8" cy="402.9" rx="4.85" ry="6.35"/><ellipse cx="561.8" cy="408.4" rx="4.85" ry="6.35"/><ellipse cx="578.2" cy="391.8" rx="4.85" ry="6.35"/><ellipse cx="589.2" cy="400.1" rx="4.85" ry="6.35"/><ellipse cx="600.2" cy="394.6" rx="4.85" ry="6.35"/><ellipse cx="602.9" cy="372.6" rx="4.85" ry="6.35"/><ellipse cx="627.6" cy="367.0" rx="4.85" ry="6.35"/><ellipse cx="633.1" cy="383.6" rx="4.85" ry="6.35"/><ellipse cx="644.0" cy="380.8" rx="4.85" ry="6.35"/><ellipse cx="655.0" cy="369.8" rx="4.85" ry="6.35"/><ellipse cx="671.5" cy="369.8" rx="4.85" ry="6.35"/><ellipse cx="677.0" cy="389.1" rx="4.85" ry="6.35"/><ellipse cx="666.0" cy="397.4" rx="4.85" ry="6.35"/><ellipse cx="652.3" cy="400.1" rx="4.85" ry="6.35"/><ellipse cx="644.0" cy="405.6" rx="4.85" ry="6.35"/><ellipse cx="660.5" cy="345.0" rx="4.85" ry="6.35"/><ellipse cx="677.0" cy="345.0" rx="4.85" ry="6.35"/><ellipse cx="685.2" cy="356.0" rx="4.85" ry="6.35"/><ellipse cx="671.5" cy="356.0" rx="4.85" ry="6.35"/><ellipse cx="397.2" cy="339.5" rx="4.85" ry="6.35"/><ellipse cx="402.7" cy="353.3" rx="4.85" ry="6.35"/><ellipse cx="512.4" cy="405.6" rx="4.85" ry="6.35"/><ellipse cx="523.4" cy="402.9" rx="4.85" ry="6.35"/><ellipse cx="232.3" cy="125.7" rx="4.85" ry="6.35"/><ellipse cx="241.8" cy="127.6" rx="4.85" ry="6.35"/><ellipse cx="224.6" cy="121.9" rx="4.85" ry="6.35"/><ellipse cx="209.4" cy="123.8" rx="4.85" ry="6.35"/><ellipse cx="201.7" cy="137.2" rx="4.85" ry="6.35"/><ellipse cx="232.3" cy="141.0" rx="4.85" ry="6.35"/><ellipse cx="217.0" cy="152.6" rx="4.85" ry="6.35"/><ellipse cx="224.6" cy="154.5" rx="4.85" ry="6.35"/><ellipse cx="203.6" cy="160.2" rx="4.85" ry="6.35"/><ellipse cx="213.2" cy="171.7" rx="4.85" ry="6.35"/><ellipse cx="224.6" cy="171.7" rx="4.85" ry="6.35"/><ellipse cx="236.1" cy="160.2" rx="4.85" ry="6.35"/><ellipse cx="251.3" cy="144.9" rx="4.85" ry="6.35"/><ellipse cx="262.8" cy="137.2" rx="4.85" ry="6.35"/><ellipse cx="276.1" cy="144.9" rx="4.85" ry="6.35"/><ellipse cx="289.5" cy="152.6" rx="4.85" ry="6.35"/><ellipse cx="293.3" cy="164.1" rx="4.85" ry="6.35"/><ellipse cx="266.6" cy="160.2" rx="4.85" ry="6.35"/><ellipse cx="232.3" cy="171.7" rx="4.85" ry="6.35"/><ellipse cx="251.3" cy="156.4" rx="4.85" ry="6.35"/><ellipse cx="217.0" cy="129.5" rx="4.85" ry="6.35"/><ellipse cx="239.9" cy="137.2" rx="4.85" ry="6.35"/><ellipse cx="597.1" cy="373.5" rx="4.85" ry="6.35"/><ellipse cx="606.3" cy="371.3" rx="4.85" ry="6.35"/><ellipse cx="615.5" cy="371.3" rx="4.85" ry="6.35"/><ellipse cx="601.7" cy="377.9" rx="4.85" ry="6.35"/><ellipse cx="613.2" cy="377.9" rx="4.85" ry="6.35"/><ellipse cx="441.0" cy="384.6" rx="4.85" ry="6.35"/><ellipse cx="452.5" cy="380.2" rx="4.85" ry="6.35"/><ellipse cx="457.1" cy="393.4" rx="4.85" ry="6.35"/><ellipse cx="447.9" cy="397.9" rx="4.85" ry="6.35"/><ellipse cx="466.3" cy="386.8" rx="4.85" ry="6.35"/><ellipse cx="475.5" cy="400.1" rx="4.85" ry="6.35"/><ellipse cx="484.7" cy="393.4" rx="4.85" ry="6.35"/></g><ellipse cx="163.7" cy="108.7" rx="4.85" ry="6.35" fill="#f43a22"/><ellipse cx="192.7" cy="119.9" rx="4.85" ry="6.35" fill="#f43a22"/><ellipse cx="215.3" cy="101.1" rx="4.85" ry="6.35" fill="#f2603e"/><ellipse cx="215.3" cy="107.6" rx="4.85" ry="6.35" fill="#f2603e"/><ellipse cx="224.9" cy="103.3" rx="4.85" ry="6.35" fill="#f2603e"/><ellipse cx="226.0" cy="108.7" rx="4.85" ry="6.35" fill="#f2603e"/><ellipse cx="240.0" cy="118.3" rx="4.85" ry="6.35" fill="#f2603e"/><ellipse cx="268.5" cy="120.5" rx="4.85" ry="6.35" fill="#f07c62"/><ellipse cx="216.9" cy="131.2" rx="4.85" ry="6.35" fill="#f2603e"/><ellipse cx="207.2" cy="138.8" rx="4.85" ry="6.35" fill="#f2603e"/><ellipse cx="240.0" cy="136.6" rx="4.85" ry="6.35" fill="#f2603e"/><ellipse cx="253.4" cy="133.4" rx="4.85" ry="6.35" fill="#f43a22"/><ellipse cx="220.6" cy="146.3" rx="4.85" ry="6.35" fill="#f2603e"/><ellipse cx="207.7" cy="151.7" rx="4.85" ry="6.35" fill="#f43a22"/><ellipse cx="232.5" cy="152.2" rx="4.85" ry="6.35" fill="#f2603e"/><ellipse cx="246.5" cy="151.7" rx="4.85" ry="6.35" fill="#ef9079"/><ellipse cx="271.2" cy="149.5" rx="4.85" ry="6.35" fill="#f07c62"/><ellipse cx="255.1" cy="160.3" rx="4.85" ry="6.35" fill="#f2603e"/><ellipse cx="257.2" cy="164.6" rx="4.85" ry="6.35" fill="#f2603e"/><ellipse cx="290.5" cy="163.5" rx="4.85" ry="6.35" fill="#f2603e"/><ellipse cx="314.2" cy="136.6" rx="4.85" ry="6.35" fill="#f2603e"/><ellipse cx="211.0" cy="166.7" rx="4.85" ry="6.35" fill="#ef9079"/><ellipse cx="217.4" cy="169.9" rx="4.85" ry="6.35" fill="#ef9079"/><ellipse cx="221.7" cy="166.7" rx="4.85" ry="6.35" fill="#ef9079"/><ellipse cx="230.3" cy="172.1" rx="4.85" ry="6.35" fill="#ef9079"/><ellipse cx="231.4" cy="177.5" rx="4.85" ry="6.35" fill="#ef9079"/><ellipse cx="215.3" cy="174.2" rx="4.85" ry="6.35" fill="#ef9079"/><ellipse cx="261.5" cy="149.5" rx="4.85" ry="6.35" fill="#ff0000"/><ellipse cx="288.5" cy="208.5" rx="4.85" ry="6.35" fill="#f2603e"/><ellipse cx="296.5" cy="212.0" rx="4.85" ry="6.35" fill="#f07c62"/><ellipse cx="326.8" cy="260.9" rx="4.85" ry="6.35" fill="#f07c62"/><path d="M115.0,65.1 V456.4" fill="none" stroke="#585858" stroke-width="2"/><path d="M114.0,456.4 H761.7" fill="none" stroke="#3a3a3a" stroke-width="2.2"/><path d="M109.5,141.6 H115.0" stroke="#555" stroke-width="2"/><path d="M109.5,240.4 H115.0" stroke="#555" stroke-width="2"/><path d="M109.5,339.2 H115.0" stroke="#555" stroke-width="2"/><path d="M109.5,438.1 H115.0" stroke="#555" stroke-width="2"/><path d="M119.9,456.4 V462.9" stroke="#555" stroke-width="2"/><path d="M242.3,456.4 V462.9" stroke="#555" stroke-width="2"/><path d="M364.8,456.4 V462.9" stroke="#555" stroke-width="2"/><path d="M487.2,456.4 V462.9" stroke="#555" stroke-width="2"/><path d="M609.6,456.4 V462.9" stroke="#555" stroke-width="2"/><path d="M732.1,456.4 V462.9" stroke="#555" stroke-width="2"/><path d="M143.3,58.8 L327.9,125.7 L267.0,236.2 L149.6,238.6 L129.0,127.8 Z" fill="none" stroke="#5a6079" stroke-width="1.5" stroke-dasharray="3.7 3.6"/><path d="M390.2,118.8 L453.5,318.1 L552.0,320.0 L614.7,333.6 L547.0,385.0 L542.0,420.0 L516.2,446.2 L420.8,443.0 L270.6,249.5 Z" fill="none" stroke="#6a9e7a" stroke-width="1.5" stroke-dasharray="3.7 3.6"/><path d="M438.3,85.7 L696.2,58.1 L760.8,439.7 L548.7,437.5 L538.2,399.1 L616.3,369.7 L615.8,301.7 L521.9,318.8 L432.8,231.9 Z" fill="none" stroke="#d47886" stroke-width="1.5" stroke-dasharray="3.7 3.6"/><g fill="#bebebe"><ellipse cx="1038.6" cy="105.3" rx="4.86" ry="6.35"/><ellipse cx="1058.2" cy="108.7" rx="4.86" ry="6.35"/><ellipse cx="1065.9" cy="110.6" rx="4.86" ry="6.35"/><ellipse cx="1069.7" cy="115.4" rx="4.86" ry="6.35"/><ellipse cx="1062.1" cy="117.3" rx="4.86" ry="6.35"/><ellipse cx="1084.5" cy="122.1" rx="4.86" ry="6.35"/><ellipse cx="1061.1" cy="135.4" rx="4.86" ry="6.35"/><ellipse cx="1075.9" cy="146.9" rx="4.86" ry="6.35"/><ellipse cx="1115.6" cy="97.2" rx="4.86" ry="6.35"/><ellipse cx="1106.0" cy="100.1" rx="4.86" ry="6.35"/><ellipse cx="1099.3" cy="108.7" rx="4.86" ry="6.35"/><ellipse cx="1110.8" cy="108.7" rx="4.86" ry="6.35"/><ellipse cx="1118.4" cy="107.7" rx="4.86" ry="6.35"/><ellipse cx="1100.3" cy="116.3" rx="4.86" ry="6.35"/><ellipse cx="1111.8" cy="118.2" rx="4.86" ry="6.35"/><ellipse cx="1122.3" cy="116.3" rx="4.86" ry="6.35"/><ellipse cx="1132.8" cy="118.2" rx="4.86" ry="6.35"/><ellipse cx="1139.5" cy="113.5" rx="4.86" ry="6.35"/><ellipse cx="1139.5" cy="121.1" rx="4.86" ry="6.35"/><ellipse cx="1100.3" cy="131.6" rx="4.86" ry="6.35"/><ellipse cx="1107.9" cy="131.6" rx="4.86" ry="6.35"/><ellipse cx="1116.5" cy="129.7" rx="4.86" ry="6.35"/><ellipse cx="1090.7" cy="139.3" rx="4.86" ry="6.35"/><ellipse cx="1099.3" cy="139.3" rx="4.86" ry="6.35"/><ellipse cx="1119.4" cy="141.2" rx="4.86" ry="6.35"/><ellipse cx="1096.5" cy="154.6" rx="4.86" ry="6.35"/><ellipse cx="1103.2" cy="152.6" rx="4.86" ry="6.35"/><ellipse cx="1125.1" cy="151.7" rx="4.86" ry="6.35"/><ellipse cx="1131.8" cy="137.3" rx="4.86" ry="6.35"/><ellipse cx="1160.5" cy="121.1" rx="4.86" ry="6.35"/><ellipse cx="1170.1" cy="129.7" rx="4.86" ry="6.35"/><ellipse cx="1176.8" cy="137.3" rx="4.86" ry="6.35"/><ellipse cx="1149.0" cy="166.0" rx="4.86" ry="6.35"/><ellipse cx="1136.6" cy="164.1" rx="4.86" ry="6.35"/><ellipse cx="1102.2" cy="167.0" rx="4.86" ry="6.35"/><ellipse cx="1101.2" cy="178.4" rx="4.86" ry="6.35"/><ellipse cx="1111.8" cy="178.4" rx="4.86" ry="6.35"/><ellipse cx="1125.1" cy="175.6" rx="4.86" ry="6.35"/><ellipse cx="1131.8" cy="195.7" rx="4.86" ry="6.35"/><ellipse cx="1171.0" cy="156.5" rx="4.86" ry="6.35"/><ellipse cx="1176.8" cy="163.2" rx="4.86" ry="6.35"/><ellipse cx="1142.3" cy="143.1" rx="4.86" ry="6.35"/><ellipse cx="1049.2" cy="113.5" rx="4.86" ry="6.35"/><ellipse cx="1108.9" cy="144.0" rx="4.86" ry="6.35"/><ellipse cx="1118.4" cy="166.0" rx="4.86" ry="6.35"/><ellipse cx="1136.6" cy="155.5" rx="4.86" ry="6.35"/><ellipse cx="1149.0" cy="133.5" rx="4.86" ry="6.35"/><ellipse cx="1153.8" cy="151.2" rx="4.86" ry="6.35"/><ellipse cx="1162.9" cy="136.9" rx="4.86" ry="6.35"/><ellipse cx="1123.2" cy="186.1" rx="4.86" ry="6.35"/><ellipse cx="1184.3" cy="130.7" rx="4.86" ry="6.35"/><ellipse cx="1179.6" cy="154.6" rx="4.86" ry="6.35"/><ellipse cx="1182.4" cy="170.8" rx="4.86" ry="6.35"/><ellipse cx="1195.8" cy="132.1" rx="4.86" ry="6.35"/><ellipse cx="1206.3" cy="137.3" rx="4.86" ry="6.35"/><ellipse cx="1211.1" cy="149.8" rx="4.86" ry="6.35"/><ellipse cx="1226.4" cy="126.8" rx="4.86" ry="6.35"/><ellipse cx="1241.7" cy="134.0" rx="4.86" ry="6.35"/><ellipse cx="1239.3" cy="148.8" rx="4.86" ry="6.35"/><ellipse cx="1262.2" cy="158.4" rx="4.86" ry="6.35"/><ellipse cx="1306.2" cy="134.0" rx="4.86" ry="6.35"/><ellipse cx="1295.7" cy="164.1" rx="4.86" ry="6.35"/><ellipse cx="1299.5" cy="176.5" rx="4.86" ry="6.35"/><ellipse cx="1323.9" cy="168.4" rx="4.86" ry="6.35"/><ellipse cx="1263.7" cy="189.9" rx="4.86" ry="6.35"/><ellipse cx="1268.4" cy="196.6" rx="4.86" ry="6.35"/><ellipse cx="1293.3" cy="193.7" rx="4.86" ry="6.35"/><ellipse cx="1227.3" cy="137.3" rx="4.86" ry="6.35"/><ellipse cx="1195.8" cy="167.9" rx="4.86" ry="6.35"/><ellipse cx="1288.5" cy="197.6" rx="4.86" ry="6.35"/><ellipse cx="1332.9" cy="130.5" rx="4.86" ry="6.35"/><ellipse cx="1335.1" cy="144.5" rx="4.86" ry="6.35"/><ellipse cx="1358.7" cy="118.7" rx="4.86" ry="6.35"/><ellipse cx="1367.3" cy="115.5" rx="4.86" ry="6.35"/><ellipse cx="1372.7" cy="120.9" rx="4.86" ry="6.35"/><ellipse cx="1367.3" cy="131.6" rx="4.86" ry="6.35"/><ellipse cx="1371.6" cy="140.2" rx="4.86" ry="6.35"/><ellipse cx="1373.8" cy="149.9" rx="4.86" ry="6.35"/><ellipse cx="1369.5" cy="159.6" rx="4.86" ry="6.35"/><ellipse cx="1375.9" cy="164.9" rx="4.86" ry="6.35"/><ellipse cx="1383.4" cy="168.2" rx="4.86" ry="6.35"/><ellipse cx="1384.5" cy="176.8" rx="4.86" ry="6.35"/><ellipse cx="1381.3" cy="111.2" rx="4.86" ry="6.35"/><ellipse cx="1388.8" cy="113.3" rx="4.86" ry="6.35"/><ellipse cx="1393.1" cy="112.3" rx="4.86" ry="6.35"/><ellipse cx="1384.5" cy="125.2" rx="4.86" ry="6.35"/><ellipse cx="1384.5" cy="129.5" rx="4.86" ry="6.35"/><ellipse cx="1395.3" cy="119.8" rx="4.86" ry="6.35"/><ellipse cx="1401.7" cy="126.2" rx="4.86" ry="6.35"/><ellipse cx="1406.0" cy="133.8" rx="4.86" ry="6.35"/><ellipse cx="1411.4" cy="140.2" rx="4.86" ry="6.35"/><ellipse cx="1414.6" cy="146.7" rx="4.86" ry="6.35"/><ellipse cx="1416.8" cy="154.2" rx="4.86" ry="6.35"/><ellipse cx="1386.7" cy="146.7" rx="4.86" ry="6.35"/><ellipse cx="1393.1" cy="144.5" rx="4.86" ry="6.35"/><ellipse cx="1395.3" cy="153.1" rx="4.86" ry="6.35"/><ellipse cx="1395.3" cy="159.6" rx="4.86" ry="6.35"/><ellipse cx="1408.2" cy="159.6" rx="4.86" ry="6.35"/><ellipse cx="1412.5" cy="168.2" rx="4.86" ry="6.35"/><ellipse cx="1397.4" cy="176.8" rx="4.86" ry="6.35"/><ellipse cx="1402.8" cy="172.5" rx="4.86" ry="6.35"/><ellipse cx="1423.2" cy="95.1" rx="4.86" ry="6.35"/><ellipse cx="1430.8" cy="91.8" rx="4.86" ry="6.35"/><ellipse cx="1412.5" cy="120.9" rx="4.86" ry="6.35"/><ellipse cx="1421.1" cy="114.4" rx="4.86" ry="6.35"/><ellipse cx="1422.2" cy="123.0" rx="4.86" ry="6.35"/><ellipse cx="1421.1" cy="133.8" rx="4.86" ry="6.35"/><ellipse cx="1429.7" cy="128.4" rx="4.86" ry="6.35"/><ellipse cx="1432.9" cy="139.1" rx="4.86" ry="6.35"/><ellipse cx="1429.7" cy="149.9" rx="4.86" ry="6.35"/><ellipse cx="1425.4" cy="157.4" rx="4.86" ry="6.35"/><ellipse cx="1423.2" cy="166.0" rx="4.86" ry="6.35"/><ellipse cx="1431.8" cy="168.2" rx="4.86" ry="6.35"/><ellipse cx="1436.1" cy="112.3" rx="4.86" ry="6.35"/><ellipse cx="1441.5" cy="110.1" rx="4.86" ry="6.35"/><ellipse cx="1448.0" cy="100.4" rx="4.86" ry="6.35"/><ellipse cx="1452.3" cy="94.0" rx="4.86" ry="6.35"/><ellipse cx="1438.3" cy="125.2" rx="4.86" ry="6.35"/><ellipse cx="1443.7" cy="131.6" rx="4.86" ry="6.35"/><ellipse cx="1440.4" cy="144.5" rx="4.86" ry="6.35"/><ellipse cx="1442.6" cy="163.9" rx="4.86" ry="6.35"/><ellipse cx="1450.1" cy="163.9" rx="4.86" ry="6.35"/><ellipse cx="1439.4" cy="175.7" rx="4.86" ry="6.35"/><ellipse cx="1453.3" cy="119.8" rx="4.86" ry="6.35"/><ellipse cx="1460.9" cy="144.5" rx="4.86" ry="6.35"/><ellipse cx="1460.9" cy="180.0" rx="4.86" ry="6.35"/><ellipse cx="1459.8" cy="105.8" rx="4.86" ry="6.35"/><ellipse cx="1468.4" cy="97.2" rx="4.86" ry="6.35"/><ellipse cx="1467.3" cy="114.4" rx="4.86" ry="6.35"/><ellipse cx="1472.7" cy="111.2" rx="4.86" ry="6.35"/><ellipse cx="1474.8" cy="125.2" rx="4.86" ry="6.35"/><ellipse cx="1468.4" cy="131.6" rx="4.86" ry="6.35"/><ellipse cx="1472.7" cy="140.2" rx="4.86" ry="6.35"/><ellipse cx="1470.5" cy="153.1" rx="4.86" ry="6.35"/><ellipse cx="1474.8" cy="161.7" rx="4.86" ry="6.35"/><ellipse cx="1477.0" cy="172.5" rx="4.86" ry="6.35"/><ellipse cx="1484.5" cy="105.8" rx="4.86" ry="6.35"/><ellipse cx="1483.4" cy="114.4" rx="4.86" ry="6.35"/><ellipse cx="1493.1" cy="118.7" rx="4.86" ry="6.35"/><ellipse cx="1492.0" cy="129.5" rx="4.86" ry="6.35"/><ellipse cx="1488.8" cy="140.2" rx="4.86" ry="6.35"/><ellipse cx="1482.4" cy="134.8" rx="4.86" ry="6.35"/><ellipse cx="1487.7" cy="159.6" rx="4.86" ry="6.35"/><ellipse cx="1496.3" cy="153.1" rx="4.86" ry="6.35"/><ellipse cx="1494.2" cy="169.2" rx="4.86" ry="6.35"/><ellipse cx="1485.6" cy="183.2" rx="4.86" ry="6.35"/><ellipse cx="1364.1" cy="190.8" rx="4.86" ry="6.35"/><ellipse cx="1416.8" cy="182.2" rx="4.86" ry="6.35"/><ellipse cx="1414.6" cy="190.8" rx="4.86" ry="6.35"/><ellipse cx="1427.5" cy="187.5" rx="4.86" ry="6.35"/><ellipse cx="1437.2" cy="191.8" rx="4.86" ry="6.35"/><ellipse cx="1468.4" cy="189.7" rx="4.86" ry="6.35"/><ellipse cx="1401.7" cy="197.2" rx="4.86" ry="6.35"/><ellipse cx="1349.0" cy="125.2" rx="4.86" ry="6.35"/><ellipse cx="1347.4" cy="144.5" rx="4.86" ry="6.35"/><ellipse cx="1504.3" cy="110.5" rx="4.86" ry="6.35"/><ellipse cx="1513.3" cy="113.2" rx="4.86" ry="6.35"/><ellipse cx="1521.4" cy="114.1" rx="4.86" ry="6.35"/><ellipse cx="1507.9" cy="123.0" rx="4.86" ry="6.35"/><ellipse cx="1520.5" cy="123.0" rx="4.86" ry="6.35"/><ellipse cx="1525.8" cy="130.2" rx="4.86" ry="6.35"/><ellipse cx="1528.5" cy="138.2" rx="4.86" ry="6.35"/><ellipse cx="1538.4" cy="133.8" rx="4.86" ry="6.35"/><ellipse cx="1544.7" cy="135.6" rx="4.86" ry="6.35"/><ellipse cx="1540.2" cy="144.5" rx="4.86" ry="6.35"/><ellipse cx="1538.4" cy="151.7" rx="4.86" ry="6.35"/><ellipse cx="1500.8" cy="133.8" rx="4.86" ry="6.35"/><ellipse cx="1511.5" cy="138.2" rx="4.86" ry="6.35"/><ellipse cx="1506.1" cy="146.3" rx="4.86" ry="6.35"/><ellipse cx="1513.3" cy="148.1" rx="4.86" ry="6.35"/><ellipse cx="1499.9" cy="153.5" rx="4.86" ry="6.35"/><ellipse cx="1503.4" cy="158.9" rx="4.86" ry="6.35"/><ellipse cx="1512.4" cy="162.4" rx="4.86" ry="6.35"/><ellipse cx="1532.1" cy="157.1" rx="4.86" ry="6.35"/><ellipse cx="1528.5" cy="166.0" rx="4.86" ry="6.35"/><ellipse cx="1527.6" cy="175.0" rx="4.86" ry="6.35"/><ellipse cx="1538.4" cy="160.6" rx="4.86" ry="6.35"/><ellipse cx="1543.8" cy="162.4" rx="4.86" ry="6.35"/><ellipse cx="1550.0" cy="169.6" rx="4.86" ry="6.35"/><ellipse cx="1558.1" cy="154.4" rx="4.86" ry="6.35"/><ellipse cx="1559.9" cy="162.4" rx="4.86" ry="6.35"/><ellipse cx="1562.6" cy="173.2" rx="4.86" ry="6.35"/><ellipse cx="1524.1" cy="183.9" rx="4.86" ry="6.35"/><ellipse cx="1538.4" cy="181.3" rx="4.86" ry="6.35"/><ellipse cx="1511.5" cy="179.5" rx="4.86" ry="6.35"/><ellipse cx="1502.5" cy="184.8" rx="4.86" ry="6.35"/><ellipse cx="1503.4" cy="195.6" rx="4.86" ry="6.35"/><ellipse cx="1534.8" cy="193.8" rx="4.86" ry="6.35"/><ellipse cx="1540.2" cy="187.5" rx="4.86" ry="6.35"/><ellipse cx="1552.7" cy="185.7" rx="4.86" ry="6.35"/><ellipse cx="1559.9" cy="184.8" rx="4.86" ry="6.35"/><ellipse cx="1552.7" cy="196.5" rx="4.86" ry="6.35"/><ellipse cx="1182.4" cy="209.0" rx="4.86" ry="6.35"/><ellipse cx="1189.9" cy="216.5" rx="4.86" ry="6.35"/><ellipse cx="1196.3" cy="224.0" rx="4.86" ry="6.35"/><ellipse cx="1263.1" cy="206.1" rx="4.86" ry="6.35"/><ellipse cx="1265.3" cy="211.5" rx="4.86" ry="6.35"/><ellipse cx="1277.6" cy="206.7" rx="4.86" ry="6.35"/><ellipse cx="1254.0" cy="230.3" rx="4.86" ry="6.35"/><ellipse cx="1265.3" cy="239.5" rx="4.86" ry="6.35"/><ellipse cx="1271.7" cy="235.2" rx="4.86" ry="6.35"/><ellipse cx="1279.2" cy="239.5" rx="4.86" ry="6.35"/><ellipse cx="1280.3" cy="223.3" rx="4.86" ry="6.35"/><ellipse cx="1278.2" cy="230.9" rx="4.86" ry="6.35"/><ellipse cx="1284.6" cy="235.2" rx="4.86" ry="6.35"/><ellipse cx="1298.6" cy="240.0" rx="4.86" ry="6.35"/><ellipse cx="1363.1" cy="235.2" rx="4.86" ry="6.35"/><ellipse cx="1364.2" cy="193.2" rx="4.86" ry="6.35"/><ellipse cx="1222.3" cy="261.0" rx="4.86" ry="6.35"/><ellipse cx="1215.8" cy="263.1" rx="4.86" ry="6.35"/><ellipse cx="1230.9" cy="268.5" rx="4.86" ry="6.35"/><ellipse cx="1240.5" cy="268.5" rx="4.86" ry="6.35"/><ellipse cx="1249.7" cy="258.8" rx="4.86" ry="6.35"/><ellipse cx="1216.3" cy="277.1" rx="4.86" ry="6.35"/><ellipse cx="1231.4" cy="282.5" rx="4.86" ry="6.35"/><ellipse cx="1216.9" cy="293.2" rx="4.86" ry="6.35"/><ellipse cx="1247.0" cy="279.2" rx="4.86" ry="6.35"/><ellipse cx="1252.4" cy="273.9" rx="4.86" ry="6.35"/><ellipse cx="1259.9" cy="267.4" rx="4.86" ry="6.35"/><ellipse cx="1276.0" cy="271.7" rx="4.86" ry="6.35"/><ellipse cx="1263.1" cy="284.6" rx="4.86" ry="6.35"/><ellipse cx="1274.9" cy="281.4" rx="4.86" ry="6.35"/><ellipse cx="1259.9" cy="292.2" rx="4.86" ry="6.35"/><ellipse cx="1270.6" cy="292.2" rx="4.86" ry="6.35"/><ellipse cx="1258.8" cy="301.8" rx="4.86" ry="6.35"/><ellipse cx="1271.7" cy="304.0" rx="4.86" ry="6.35"/><ellipse cx="1291.1" cy="300.8" rx="4.86" ry="6.35"/><ellipse cx="1286.8" cy="306.1" rx="4.86" ry="6.35"/><ellipse cx="1315.8" cy="271.7" rx="4.86" ry="6.35"/><ellipse cx="1309.4" cy="281.4" rx="4.86" ry="6.35"/><ellipse cx="1319.0" cy="279.2" rx="4.86" ry="6.35"/><ellipse cx="1324.4" cy="284.6" rx="4.86" ry="6.35"/><ellipse cx="1313.7" cy="294.3" rx="4.86" ry="6.35"/><ellipse cx="1321.2" cy="306.1" rx="4.86" ry="6.35"/><ellipse cx="1329.8" cy="267.4" rx="4.86" ry="6.35"/><ellipse cx="1336.2" cy="257.7" rx="4.86" ry="6.35"/><ellipse cx="1340.5" cy="264.2" rx="4.86" ry="6.35"/><ellipse cx="1349.1" cy="254.5" rx="4.86" ry="6.35"/><ellipse cx="1356.7" cy="266.3" rx="4.86" ry="6.35"/><ellipse cx="1364.2" cy="263.1" rx="4.86" ry="6.35"/><ellipse cx="1395.5" cy="206.1" rx="4.86" ry="6.35"/><ellipse cx="1422.4" cy="197.5" rx="4.86" ry="6.35"/><ellipse cx="1444.9" cy="198.6" rx="4.86" ry="6.35"/><ellipse cx="1458.9" cy="202.9" rx="4.86" ry="6.35"/><ellipse cx="1449.2" cy="213.7" rx="4.86" ry="6.35"/><ellipse cx="1425.6" cy="217.4" rx="4.86" ry="6.35"/><ellipse cx="1468.6" cy="193.2" rx="4.86" ry="6.35"/><ellipse cx="1472.9" cy="201.8" rx="4.86" ry="6.35"/><ellipse cx="1469.7" cy="214.7" rx="4.86" ry="6.35"/><ellipse cx="1481.5" cy="215.8" rx="4.86" ry="6.35"/><ellipse cx="1489.0" cy="208.3" rx="4.86" ry="6.35"/><ellipse cx="1496.6" cy="213.7" rx="4.86" ry="6.35"/><ellipse cx="1495.5" cy="223.3" rx="4.86" ry="6.35"/><ellipse cx="1501.9" cy="221.2" rx="4.86" ry="6.35"/><ellipse cx="1503.0" cy="198.6" rx="4.86" ry="6.35"/><ellipse cx="1504.1" cy="202.9" rx="4.86" ry="6.35"/><ellipse cx="1514.8" cy="204.0" rx="4.86" ry="6.35"/><ellipse cx="1514.8" cy="213.7" rx="4.86" ry="6.35"/><ellipse cx="1534.2" cy="195.4" rx="4.86" ry="6.35"/><ellipse cx="1513.8" cy="232.5" rx="4.86" ry="6.35"/><ellipse cx="1528.8" cy="240.5" rx="4.86" ry="6.35"/><ellipse cx="1535.3" cy="250.2" rx="4.86" ry="6.35"/><ellipse cx="1363.2" cy="235.2" rx="4.86" ry="6.35"/><ellipse cx="1383.7" cy="231.9" rx="4.86" ry="6.35"/><ellipse cx="1395.5" cy="220.1" rx="4.86" ry="6.35"/><ellipse cx="1403.0" cy="222.3" rx="4.86" ry="6.35"/><ellipse cx="1397.6" cy="227.6" rx="4.86" ry="6.35"/><ellipse cx="1409.5" cy="233.0" rx="4.86" ry="6.35"/><ellipse cx="1405.2" cy="236.2" rx="4.86" ry="6.35"/><ellipse cx="1386.9" cy="243.8" rx="4.86" ry="6.35"/><ellipse cx="1386.9" cy="254.5" rx="4.86" ry="6.35"/><ellipse cx="1379.4" cy="261.0" rx="4.86" ry="6.35"/><ellipse cx="1366.5" cy="263.1" rx="4.86" ry="6.35"/><ellipse cx="1361.1" cy="271.7" rx="4.86" ry="6.35"/><ellipse cx="1392.3" cy="265.3" rx="4.86" ry="6.35"/><ellipse cx="1397.6" cy="267.4" rx="4.86" ry="6.35"/><ellipse cx="1407.3" cy="264.2" rx="4.86" ry="6.35"/><ellipse cx="1426.7" cy="250.2" rx="4.86" ry="6.35"/><ellipse cx="1424.0" cy="262.0" rx="4.86" ry="6.35"/><ellipse cx="1456.8" cy="244.8" rx="4.86" ry="6.35"/><ellipse cx="1463.2" cy="271.7" rx="4.86" ry="6.35"/><ellipse cx="1418.1" cy="285.7" rx="4.86" ry="6.35"/><ellipse cx="1426.7" cy="292.2" rx="4.86" ry="6.35"/><ellipse cx="1433.1" cy="297.5" rx="4.86" ry="6.35"/><ellipse cx="1441.7" cy="298.6" rx="4.86" ry="6.35"/><ellipse cx="1443.9" cy="306.1" rx="4.86" ry="6.35"/><ellipse cx="1454.6" cy="308.3" rx="4.86" ry="6.35"/><ellipse cx="1496.0" cy="294.3" rx="4.86" ry="6.35"/><ellipse cx="1494.4" cy="304.0" rx="4.86" ry="6.35"/><ellipse cx="1510.5" cy="290.0" rx="4.86" ry="6.35"/><ellipse cx="1527.7" cy="279.2" rx="4.86" ry="6.35"/><ellipse cx="1531.0" cy="286.8" rx="4.86" ry="6.35"/><ellipse cx="1524.5" cy="292.2" rx="4.86" ry="6.35"/><ellipse cx="1529.9" cy="307.2" rx="4.86" ry="6.35"/><ellipse cx="1510.5" cy="307.2" rx="4.86" ry="6.35"/><ellipse cx="1372.9" cy="249.1" rx="4.86" ry="6.35"/><ellipse cx="1542.6" cy="200.9" rx="4.86" ry="6.35"/><ellipse cx="1558.5" cy="195.0" rx="4.86" ry="6.35"/><ellipse cx="1552.6" cy="205.9" rx="4.86" ry="6.35"/><ellipse cx="1547.6" cy="218.5" rx="4.86" ry="6.35"/><ellipse cx="1540.9" cy="229.4" rx="4.86" ry="6.35"/><ellipse cx="1545.1" cy="253.7" rx="4.86" ry="6.35"/><ellipse cx="1542.6" cy="262.1" rx="4.86" ry="6.35"/><ellipse cx="1560.2" cy="268.8" rx="4.86" ry="6.35"/><ellipse cx="1540.9" cy="276.3" rx="4.86" ry="6.35"/><ellipse cx="1549.3" cy="274.6" rx="4.86" ry="6.35"/><ellipse cx="1552.6" cy="282.2" rx="4.86" ry="6.35"/><ellipse cx="1551.8" cy="288.9" rx="4.86" ry="6.35"/><ellipse cx="1563.5" cy="288.0" rx="4.86" ry="6.35"/><ellipse cx="1582.0" cy="304.0" rx="4.86" ry="6.35"/><ellipse cx="1573.6" cy="307.3" rx="4.86" ry="6.35"/><ellipse cx="1531.7" cy="307.3" rx="4.86" ry="6.35"/><ellipse cx="1272.5" cy="314.0" rx="4.86" ry="6.35"/><ellipse cx="1271.4" cy="321.5" rx="4.86" ry="6.35"/><ellipse cx="1299.4" cy="315.1" rx="4.86" ry="6.35"/><ellipse cx="1309.0" cy="319.4" rx="4.86" ry="6.35"/><ellipse cx="1315.5" cy="325.8" rx="4.86" ry="6.35"/><ellipse cx="1324.1" cy="324.7" rx="4.86" ry="6.35"/><ellipse cx="1316.6" cy="312.9" rx="4.86" ry="6.35"/><ellipse cx="1289.7" cy="325.8" rx="4.86" ry="6.35"/><ellipse cx="1287.5" cy="334.4" rx="4.86" ry="6.35"/><ellipse cx="1296.1" cy="332.3" rx="4.86" ry="6.35"/><ellipse cx="1283.2" cy="346.2" rx="4.86" ry="6.35"/><ellipse cx="1289.7" cy="348.4" rx="4.86" ry="6.35"/><ellipse cx="1290.8" cy="360.2" rx="4.86" ry="6.35"/><ellipse cx="1301.5" cy="350.5" rx="4.86" ry="6.35"/><ellipse cx="1300.4" cy="359.1" rx="4.86" ry="6.35"/><ellipse cx="1298.3" cy="373.1" rx="4.86" ry="6.35"/><ellipse cx="1314.4" cy="369.9" rx="4.86" ry="6.35"/><ellipse cx="1318.7" cy="379.6" rx="4.86" ry="6.35"/><ellipse cx="1309.0" cy="396.8" rx="4.86" ry="6.35"/><ellipse cx="1337.0" cy="334.4" rx="4.86" ry="6.35"/><ellipse cx="1342.4" cy="337.6" rx="4.86" ry="6.35"/><ellipse cx="1334.8" cy="344.1" rx="4.86" ry="6.35"/><ellipse cx="1330.5" cy="350.5" rx="4.86" ry="6.35"/><ellipse cx="1348.8" cy="318.3" rx="4.86" ry="6.35"/><ellipse cx="1348.8" cy="350.5" rx="4.86" ry="6.35"/><ellipse cx="1354.2" cy="354.8" rx="4.86" ry="6.35"/><ellipse cx="1348.8" cy="364.5" rx="4.86" ry="6.35"/><ellipse cx="1358.5" cy="357.0" rx="4.86" ry="6.35"/><ellipse cx="1330.5" cy="381.7" rx="4.86" ry="6.35"/><ellipse cx="1330.5" cy="389.2" rx="4.86" ry="6.35"/><ellipse cx="1338.1" cy="393.5" rx="4.86" ry="6.35"/><ellipse cx="1346.7" cy="396.8" rx="4.86" ry="6.35"/><ellipse cx="1347.7" cy="379.6" rx="4.86" ry="6.35"/><ellipse cx="1356.3" cy="375.3" rx="4.86" ry="6.35"/><ellipse cx="1354.2" cy="386.0" rx="4.86" ry="6.35"/><ellipse cx="1335.9" cy="407.5" rx="4.86" ry="6.35"/><ellipse cx="1338.1" cy="414.0" rx="4.86" ry="6.35"/><ellipse cx="1355.3" cy="414.0" rx="4.86" ry="6.35"/><ellipse cx="1412.4" cy="315.1" rx="4.86" ry="6.35"/><ellipse cx="1431.7" cy="317.2" rx="4.86" ry="6.35"/><ellipse cx="1439.2" cy="318.3" rx="4.86" ry="6.35"/><ellipse cx="1454.3" cy="310.8" rx="4.86" ry="6.35"/><ellipse cx="1451.1" cy="315.1" rx="4.86" ry="6.35"/><ellipse cx="1487.6" cy="320.4" rx="4.86" ry="6.35"/><ellipse cx="1527.4" cy="310.8" rx="4.86" ry="6.35"/><ellipse cx="1527.4" cy="326.9" rx="4.86" ry="6.35"/><ellipse cx="1408.1" cy="340.9" rx="4.86" ry="6.35"/><ellipse cx="1436.0" cy="337.6" rx="4.86" ry="6.35"/><ellipse cx="1453.8" cy="337.6" rx="4.86" ry="6.35"/><ellipse cx="1465.1" cy="333.3" rx="4.86" ry="6.35"/><ellipse cx="1376.9" cy="344.1" rx="4.86" ry="6.35"/><ellipse cx="1374.7" cy="354.8" rx="4.86" ry="6.35"/><ellipse cx="1364.0" cy="360.2" rx="4.86" ry="6.35"/><ellipse cx="1364.0" cy="375.3" rx="4.86" ry="6.35"/><ellipse cx="1403.8" cy="362.4" rx="4.86" ry="6.35"/><ellipse cx="1411.3" cy="366.7" rx="4.86" ry="6.35"/><ellipse cx="1418.8" cy="357.0" rx="4.86" ry="6.35"/><ellipse cx="1415.6" cy="364.5" rx="4.86" ry="6.35"/><ellipse cx="1388.7" cy="371.0" rx="4.86" ry="6.35"/><ellipse cx="1389.8" cy="381.7" rx="4.86" ry="6.35"/><ellipse cx="1401.6" cy="377.4" rx="4.86" ry="6.35"/><ellipse cx="1416.7" cy="380.6" rx="4.86" ry="6.35"/><ellipse cx="1453.2" cy="358.1" rx="4.86" ry="6.35"/><ellipse cx="1451.1" cy="366.7" rx="4.86" ry="6.35"/><ellipse cx="1448.9" cy="375.3" rx="4.86" ry="6.35"/><ellipse cx="1436.0" cy="379.6" rx="4.86" ry="6.35"/><ellipse cx="1448.9" cy="383.9" rx="4.86" ry="6.35"/><ellipse cx="1442.5" cy="389.2" rx="4.86" ry="6.35"/><ellipse cx="1464.0" cy="384.9" rx="4.86" ry="6.35"/><ellipse cx="1422.0" cy="392.5" rx="4.86" ry="6.35"/><ellipse cx="1423.1" cy="402.2" rx="4.86" ry="6.35"/><ellipse cx="1407.0" cy="407.5" rx="4.86" ry="6.35"/><ellipse cx="1414.5" cy="405.4" rx="4.86" ry="6.35"/><ellipse cx="1378.0" cy="392.5" rx="4.86" ry="6.35"/><ellipse cx="1393.0" cy="394.6" rx="4.86" ry="6.35"/><ellipse cx="1382.3" cy="403.2" rx="4.86" ry="6.35"/><ellipse cx="1390.9" cy="407.5" rx="4.86" ry="6.35"/><ellipse cx="1384.4" cy="414.0" rx="4.86" ry="6.35"/><ellipse cx="1369.4" cy="401.1" rx="4.86" ry="6.35"/><ellipse cx="1362.9" cy="394.6" rx="4.86" ry="6.35"/><ellipse cx="1355.4" cy="412.9" rx="4.86" ry="6.35"/><ellipse cx="1364.0" cy="418.3" rx="4.86" ry="6.35"/><ellipse cx="1359.7" cy="407.5" rx="4.86" ry="6.35"/><ellipse cx="1433.9" cy="403.2" rx="4.86" ry="6.35"/><ellipse cx="1429.6" cy="406.5" rx="4.86" ry="6.35"/><ellipse cx="1451.1" cy="402.2" rx="4.86" ry="6.35"/><ellipse cx="1457.5" cy="396.8" rx="4.86" ry="6.35"/><ellipse cx="1462.9" cy="403.2" rx="4.86" ry="6.35"/><ellipse cx="1450.0" cy="412.9" rx="4.86" ry="6.35"/><ellipse cx="1457.5" cy="414.0" rx="4.86" ry="6.35"/><ellipse cx="1473.7" cy="396.8" rx="4.86" ry="6.35"/><ellipse cx="1476.9" cy="407.5" rx="4.86" ry="6.35"/><ellipse cx="1482.3" cy="400.0" rx="4.86" ry="6.35"/><ellipse cx="1488.7" cy="403.2" rx="4.86" ry="6.35"/><ellipse cx="1487.6" cy="375.3" rx="4.86" ry="6.35"/><ellipse cx="1496.2" cy="373.1" rx="4.86" ry="6.35"/><ellipse cx="1505.9" cy="372.0" rx="4.86" ry="6.35"/><ellipse cx="1502.7" cy="391.4" rx="4.86" ry="6.35"/><ellipse cx="1501.6" cy="403.2" rx="4.86" ry="6.35"/><ellipse cx="1522.0" cy="364.5" rx="4.86" ry="6.35"/><ellipse cx="1518.8" cy="386.0" rx="4.86" ry="6.35"/><ellipse cx="1526.3" cy="377.4" rx="4.86" ry="6.35"/><ellipse cx="1527.4" cy="402.2" rx="4.86" ry="6.35"/><ellipse cx="1561.8" cy="320.0" rx="4.86" ry="6.35"/><ellipse cx="1574.5" cy="318.2" rx="4.86" ry="6.35"/><ellipse cx="1574.5" cy="325.4" rx="4.86" ry="6.35"/><ellipse cx="1583.5" cy="316.3" rx="4.86" ry="6.35"/><ellipse cx="1586.3" cy="327.2" rx="4.86" ry="6.35"/><ellipse cx="1583.5" cy="336.3" rx="4.86" ry="6.35"/><ellipse cx="1578.1" cy="342.7" rx="4.86" ry="6.35"/><ellipse cx="1570.8" cy="343.6" rx="4.86" ry="6.35"/><ellipse cx="1541.8" cy="334.5" rx="4.86" ry="6.35"/><ellipse cx="1553.6" cy="334.5" rx="4.86" ry="6.35"/><ellipse cx="1559.9" cy="339.0" rx="4.86" ry="6.35"/><ellipse cx="1550.0" cy="345.4" rx="4.86" ry="6.35"/><ellipse cx="1558.1" cy="345.4" rx="4.86" ry="6.35"/><ellipse cx="1565.4" cy="347.2" rx="4.86" ry="6.35"/><ellipse cx="1572.6" cy="347.2" rx="4.86" ry="6.35"/><ellipse cx="1581.7" cy="345.4" rx="4.86" ry="6.35"/><ellipse cx="1563.6" cy="352.6" rx="4.86" ry="6.35"/><ellipse cx="1554.5" cy="358.1" rx="4.86" ry="6.35"/><ellipse cx="1569.9" cy="356.3" rx="4.86" ry="6.35"/><ellipse cx="1595.3" cy="342.7" rx="4.86" ry="6.35"/><ellipse cx="1602.6" cy="350.8" rx="4.86" ry="6.35"/><ellipse cx="1596.2" cy="352.6" rx="4.86" ry="6.35"/><ellipse cx="1599.0" cy="362.6" rx="4.86" ry="6.35"/><ellipse cx="1586.3" cy="363.5" rx="4.86" ry="6.35"/><ellipse cx="1538.2" cy="353.6" rx="4.86" ry="6.35"/><ellipse cx="1532.7" cy="362.6" rx="4.86" ry="6.35"/><ellipse cx="1522.7" cy="363.5" rx="4.86" ry="6.35"/><ellipse cx="1526.4" cy="372.6" rx="4.86" ry="6.35"/><ellipse cx="1522.7" cy="379.9" rx="4.86" ry="6.35"/><ellipse cx="1525.4" cy="387.1" rx="4.86" ry="6.35"/><ellipse cx="1521.8" cy="393.5" rx="4.86" ry="6.35"/><ellipse cx="1540.0" cy="374.4" rx="4.86" ry="6.35"/><ellipse cx="1540.9" cy="383.5" rx="4.86" ry="6.35"/><ellipse cx="1548.1" cy="379.9" rx="4.86" ry="6.35"/><ellipse cx="1554.5" cy="369.0" rx="4.86" ry="6.35"/><ellipse cx="1562.7" cy="365.4" rx="4.86" ry="6.35"/><ellipse cx="1570.8" cy="367.2" rx="4.86" ry="6.35"/><ellipse cx="1567.2" cy="372.6" rx="4.86" ry="6.35"/><ellipse cx="1574.5" cy="377.2" rx="4.86" ry="6.35"/><ellipse cx="1558.1" cy="379.9" rx="4.86" ry="6.35"/><ellipse cx="1574.5" cy="387.1" rx="4.86" ry="6.35"/><ellipse cx="1554.5" cy="389.0" rx="4.86" ry="6.35"/><ellipse cx="1561.8" cy="387.1" rx="4.86" ry="6.35"/><ellipse cx="1558.1" cy="395.3" rx="4.86" ry="6.35"/><ellipse cx="1540.9" cy="397.1" rx="4.86" ry="6.35"/><ellipse cx="1540.0" cy="406.2" rx="4.86" ry="6.35"/><ellipse cx="1554.5" cy="407.1" rx="4.86" ry="6.35"/><ellipse cx="1562.7" cy="403.5" rx="4.86" ry="6.35"/><ellipse cx="1528.2" cy="402.6" rx="4.86" ry="6.35"/><ellipse cx="1044.9" cy="107.7" rx="4.86" ry="6.35"/><ellipse cx="1106.0" cy="107.7" rx="4.86" ry="6.35"/><ellipse cx="1116.5" cy="113.5" rx="4.86" ry="6.35"/><ellipse cx="1106.0" cy="121.1" rx="4.86" ry="6.35"/><ellipse cx="1127.0" cy="124.9" rx="4.86" ry="6.35"/><ellipse cx="1111.8" cy="137.3" rx="4.86" ry="6.35"/><ellipse cx="1108.9" cy="170.8" rx="4.86" ry="6.35"/><ellipse cx="1115.6" cy="185.1" rx="4.86" ry="6.35"/><ellipse cx="1143.3" cy="161.2" rx="4.86" ry="6.35"/><ellipse cx="1166.2" cy="151.7" rx="4.86" ry="6.35"/><ellipse cx="1371.8" cy="121.4" rx="4.86" ry="6.35"/><ellipse cx="1368.0" cy="135.2" rx="4.86" ry="6.35"/><ellipse cx="1374.3" cy="140.2" rx="4.86" ry="6.35"/><ellipse cx="1371.8" cy="155.3" rx="4.86" ry="6.35"/><ellipse cx="1378.0" cy="161.5" rx="4.86" ry="6.35"/><ellipse cx="1388.1" cy="152.8" rx="4.86" ry="6.35"/><ellipse cx="1393.1" cy="157.8" rx="4.86" ry="6.35"/><ellipse cx="1396.8" cy="155.3" rx="4.86" ry="6.35"/><ellipse cx="1386.8" cy="130.2" rx="4.86" ry="6.35"/><ellipse cx="1391.8" cy="121.4" rx="4.86" ry="6.35"/><ellipse cx="1399.4" cy="127.7" rx="4.86" ry="6.35"/><ellipse cx="1405.6" cy="137.7" rx="4.86" ry="6.35"/><ellipse cx="1408.1" cy="147.7" rx="4.86" ry="6.35"/><ellipse cx="1413.2" cy="152.8" rx="4.86" ry="6.35"/><ellipse cx="1418.2" cy="155.3" rx="4.86" ry="6.35"/><ellipse cx="1423.2" cy="160.3" rx="4.86" ry="6.35"/><ellipse cx="1430.7" cy="155.3" rx="4.86" ry="6.35"/><ellipse cx="1433.2" cy="142.7" rx="4.86" ry="6.35"/><ellipse cx="1424.4" cy="132.7" rx="4.86" ry="6.35"/><ellipse cx="1438.2" cy="132.7" rx="4.86" ry="6.35"/><ellipse cx="1418.2" cy="142.7" rx="4.86" ry="6.35"/><ellipse cx="1411.9" cy="167.8" rx="4.86" ry="6.35"/><ellipse cx="1425.7" cy="167.8" rx="4.86" ry="6.35"/><ellipse cx="1435.7" cy="167.8" rx="4.86" ry="6.35"/><ellipse cx="1420.7" cy="190.4" rx="4.86" ry="6.35"/><ellipse cx="1430.7" cy="195.4" rx="4.86" ry="6.35"/><ellipse cx="1438.2" cy="187.9" rx="4.86" ry="6.35"/><ellipse cx="1399.4" cy="200.4" rx="4.86" ry="6.35"/><ellipse cx="1334.1" cy="137.7" rx="4.86" ry="6.35"/><ellipse cx="1442.5" cy="127.7" rx="4.86" ry="6.35"/><ellipse cx="1440.0" cy="137.7" rx="4.86" ry="6.35"/><ellipse cx="1435.0" cy="150.3" rx="4.86" ry="6.35"/><ellipse cx="1445.1" cy="145.2" rx="4.86" ry="6.35"/><ellipse cx="1495.2" cy="135.2" rx="4.86" ry="6.35"/><ellipse cx="1505.3" cy="132.7" rx="4.86" ry="6.35"/><ellipse cx="1517.8" cy="132.7" rx="4.86" ry="6.35"/><ellipse cx="1524.1" cy="130.2" rx="4.86" ry="6.35"/><ellipse cx="1507.8" cy="150.3" rx="4.86" ry="6.35"/><ellipse cx="1527.8" cy="167.8" rx="4.86" ry="6.35"/><ellipse cx="1530.4" cy="180.4" rx="4.86" ry="6.35"/><ellipse cx="1536.6" cy="175.3" rx="4.86" ry="6.35"/><ellipse cx="1540.4" cy="161.5" rx="4.86" ry="6.35"/><ellipse cx="1542.9" cy="192.9" rx="4.86" ry="6.35"/><ellipse cx="1549.2" cy="192.9" rx="4.86" ry="6.35"/><ellipse cx="1555.4" cy="184.1" rx="4.86" ry="6.35"/><ellipse cx="1560.5" cy="187.9" rx="4.86" ry="6.35"/><ellipse cx="1483.9" cy="167.8" rx="4.86" ry="6.35"/><ellipse cx="1497.7" cy="172.8" rx="4.86" ry="6.35"/><ellipse cx="1486.5" cy="179.1" rx="4.86" ry="6.35"/><ellipse cx="1255.3" cy="276.5" rx="4.86" ry="6.35"/><ellipse cx="1265.3" cy="273.9" rx="4.86" ry="6.35"/><ellipse cx="1266.6" cy="285.2" rx="4.86" ry="6.35"/><ellipse cx="1262.8" cy="295.3" rx="4.86" ry="6.35"/><ellipse cx="1267.8" cy="307.8" rx="4.86" ry="6.35"/><ellipse cx="1275.3" cy="315.3" rx="4.86" ry="6.35"/><ellipse cx="1260.3" cy="305.3" rx="4.86" ry="6.35"/><ellipse cx="1252.8" cy="287.7" rx="4.86" ry="6.35"/><ellipse cx="1315.5" cy="279.0" rx="4.86" ry="6.35"/><ellipse cx="1321.8" cy="275.2" rx="4.86" ry="6.35"/><ellipse cx="1370.7" cy="261.4" rx="4.86" ry="6.35"/><ellipse cx="1380.7" cy="265.2" rx="4.86" ry="6.35"/><ellipse cx="1365.7" cy="270.2" rx="4.86" ry="6.35"/><ellipse cx="1387.0" cy="265.2" rx="4.86" ry="6.35"/><ellipse cx="1333.9" cy="385.0" rx="4.86" ry="6.35"/><ellipse cx="1344.9" cy="393.2" rx="4.86" ry="6.35"/><ellipse cx="1355.9" cy="385.0" rx="4.86" ry="6.35"/><ellipse cx="1339.4" cy="398.7" rx="4.86" ry="6.35"/><ellipse cx="1350.4" cy="404.2" rx="4.86" ry="6.35"/><ellipse cx="1366.9" cy="379.5" rx="4.86" ry="6.35"/><ellipse cx="1358.6" cy="365.7" rx="4.86" ry="6.35"/><ellipse cx="1372.4" cy="398.7" rx="4.86" ry="6.35"/><ellipse cx="1386.1" cy="406.9" rx="4.86" ry="6.35"/><ellipse cx="1443.8" cy="404.2" rx="4.86" ry="6.35"/><ellipse cx="1454.8" cy="409.7" rx="4.86" ry="6.35"/><ellipse cx="1471.3" cy="393.2" rx="4.86" ry="6.35"/><ellipse cx="1482.3" cy="401.4" rx="4.86" ry="6.35"/><ellipse cx="1493.3" cy="395.9" rx="4.86" ry="6.35"/><ellipse cx="1496.0" cy="374.0" rx="4.86" ry="6.35"/><ellipse cx="1520.7" cy="368.5" rx="4.86" ry="6.35"/><ellipse cx="1526.2" cy="385.0" rx="4.86" ry="6.35"/><ellipse cx="1537.2" cy="382.2" rx="4.86" ry="6.35"/><ellipse cx="1548.2" cy="371.2" rx="4.86" ry="6.35"/><ellipse cx="1564.7" cy="371.2" rx="4.86" ry="6.35"/><ellipse cx="1570.2" cy="390.5" rx="4.86" ry="6.35"/><ellipse cx="1559.2" cy="398.7" rx="4.86" ry="6.35"/><ellipse cx="1545.5" cy="401.4" rx="4.86" ry="6.35"/><ellipse cx="1537.2" cy="406.9" rx="4.86" ry="6.35"/><ellipse cx="1553.7" cy="346.5" rx="4.86" ry="6.35"/><ellipse cx="1570.2" cy="346.5" rx="4.86" ry="6.35"/><ellipse cx="1578.4" cy="357.5" rx="4.86" ry="6.35"/><ellipse cx="1564.7" cy="357.5" rx="4.86" ry="6.35"/><ellipse cx="1289.9" cy="341.0" rx="4.86" ry="6.35"/><ellipse cx="1295.4" cy="354.7" rx="4.86" ry="6.35"/><ellipse cx="1405.3" cy="406.9" rx="4.86" ry="6.35"/><ellipse cx="1416.3" cy="404.2" rx="4.86" ry="6.35"/><ellipse cx="1124.7" cy="127.9" rx="4.86" ry="6.35"/><ellipse cx="1134.3" cy="129.8" rx="4.86" ry="6.35"/><ellipse cx="1117.0" cy="124.1" rx="4.86" ry="6.35"/><ellipse cx="1101.8" cy="126.0" rx="4.86" ry="6.35"/><ellipse cx="1094.1" cy="139.4" rx="4.86" ry="6.35"/><ellipse cx="1124.7" cy="143.2" rx="4.86" ry="6.35"/><ellipse cx="1109.4" cy="154.7" rx="4.86" ry="6.35"/><ellipse cx="1117.0" cy="156.6" rx="4.86" ry="6.35"/><ellipse cx="1096.0" cy="162.3" rx="4.86" ry="6.35"/><ellipse cx="1105.6" cy="173.8" rx="4.86" ry="6.35"/><ellipse cx="1117.0" cy="173.8" rx="4.86" ry="6.35"/><ellipse cx="1128.5" cy="162.3" rx="4.86" ry="6.35"/><ellipse cx="1143.8" cy="147.0" rx="4.86" ry="6.35"/><ellipse cx="1155.3" cy="139.4" rx="4.86" ry="6.35"/><ellipse cx="1168.7" cy="147.0" rx="4.86" ry="6.35"/><ellipse cx="1182.0" cy="154.7" rx="4.86" ry="6.35"/><ellipse cx="1185.9" cy="166.2" rx="4.86" ry="6.35"/><ellipse cx="1159.1" cy="162.3" rx="4.86" ry="6.35"/><ellipse cx="1124.7" cy="173.8" rx="4.86" ry="6.35"/><ellipse cx="1143.8" cy="158.5" rx="4.86" ry="6.35"/><ellipse cx="1109.4" cy="131.8" rx="4.86" ry="6.35"/><ellipse cx="1132.3" cy="139.4" rx="4.86" ry="6.35"/><ellipse cx="1490.2" cy="374.9" rx="4.86" ry="6.35"/><ellipse cx="1499.4" cy="372.7" rx="4.86" ry="6.35"/><ellipse cx="1508.6" cy="372.7" rx="4.86" ry="6.35"/><ellipse cx="1494.8" cy="379.3" rx="4.86" ry="6.35"/><ellipse cx="1506.3" cy="379.3" rx="4.86" ry="6.35"/><ellipse cx="1333.9" cy="386.0" rx="4.86" ry="6.35"/><ellipse cx="1345.4" cy="381.6" rx="4.86" ry="6.35"/><ellipse cx="1350.0" cy="394.8" rx="4.86" ry="6.35"/><ellipse cx="1340.8" cy="399.2" rx="4.86" ry="6.35"/><ellipse cx="1359.2" cy="388.2" rx="4.86" ry="6.35"/><ellipse cx="1368.4" cy="401.4" rx="4.86" ry="6.35"/><ellipse cx="1377.6" cy="394.8" rx="4.86" ry="6.35"/></g><ellipse cx="1049.2" cy="113.5" rx="4.86" ry="6.35" fill="#ff0000"/><ellipse cx="1108.9" cy="144.0" rx="4.86" ry="6.35" fill="#f2603e"/><ellipse cx="1118.4" cy="166.0" rx="4.86" ry="6.35" fill="#f2603e"/><ellipse cx="1136.6" cy="155.5" rx="4.86" ry="6.35" fill="#f2603e"/><ellipse cx="1149.0" cy="133.5" rx="4.86" ry="6.35" fill="#f43a22"/><ellipse cx="1153.8" cy="151.2" rx="4.86" ry="6.35" fill="#f2603e"/><ellipse cx="1162.9" cy="136.9" rx="4.86" ry="6.35" fill="#f2603e"/><ellipse cx="1123.2" cy="186.1" rx="4.86" ry="6.35" fill="#f2603e"/><ellipse cx="1227.3" cy="137.3" rx="4.86" ry="6.35" fill="#f2603e"/><ellipse cx="1195.8" cy="167.9" rx="4.86" ry="6.35" fill="#f2603e"/><ellipse cx="1288.5" cy="197.6" rx="4.86" ry="6.35" fill="#f2603e"/><ellipse cx="1349.0" cy="125.2" rx="4.86" ry="6.35" fill="#f2603e"/><ellipse cx="1347.4" cy="144.5" rx="4.86" ry="6.35" fill="#f07c62"/><ellipse cx="1372.9" cy="249.1" rx="4.86" ry="6.35" fill="#ff0000"/><path d="M1007.2,67.6 V457.6" fill="none" stroke="#585858" stroke-width="2"/><path d="M1006.2,457.6 H1652.0" fill="none" stroke="#3a3a3a" stroke-width="2.2"/><path d="M1001.7,143.8 H1007.2" stroke="#555" stroke-width="2"/><path d="M1001.7,242.3 H1007.2" stroke="#555" stroke-width="2"/><path d="M1001.7,340.8 H1007.2" stroke="#555" stroke-width="2"/><path d="M1001.7,439.2 H1007.2" stroke="#555" stroke-width="2"/><path d="M1012.1,457.6 V464.1" stroke="#555" stroke-width="2"/><path d="M1134.8,457.6 V464.1" stroke="#555" stroke-width="2"/><path d="M1257.4,457.6 V464.1" stroke="#555" stroke-width="2"/><path d="M1380.1,457.6 V464.1" stroke="#555" stroke-width="2"/><path d="M1502.8,457.6 V464.1" stroke="#555" stroke-width="2"/><path d="M1625.4,457.6 V464.1" stroke="#555" stroke-width="2"/><path d="M1032.9,60.1 L1217.4,127.9 L1156.2,237.9 L1037.7,239.8 L1019.6,129.8 Z" fill="none" stroke="#5a6079" stroke-width="1.5" stroke-dasharray="3.7 3.6"/><path d="M1279.5,121.2 L1345.0,320.5 L1442.0,322.0 L1503.4,335.1 L1436.0,387.0 L1431.0,421.0 L1404.4,447.9 L1310.0,444.8 L1160.7,251.3 Z" fill="none" stroke="#6a9e7a" stroke-width="1.5" stroke-dasharray="3.7 3.6"/><path d="M1327.9,88.2 L1585.5,60.0 L1649.7,441.8 L1437.9,439.6 L1428.8,400.6 L1506.5,374.7 L1505.9,303.1 L1409.0,319.9 L1321.8,228.8 Z" fill="none" stroke="#d47886" stroke-width="1.5" stroke-dasharray="3.7 3.6"/><g fill="#bebebe"><ellipse cx="145.7" cy="972.7" rx="4.67" ry="6.35"/><ellipse cx="164.6" cy="976.1" rx="4.67" ry="6.35"/><ellipse cx="171.9" cy="978.0" rx="4.67" ry="6.35"/><ellipse cx="175.6" cy="982.8" rx="4.67" ry="6.35"/><ellipse cx="168.2" cy="984.7" rx="4.67" ry="6.35"/><ellipse cx="189.8" cy="989.5" rx="4.67" ry="6.35"/><ellipse cx="167.3" cy="1002.9" rx="4.67" ry="6.35"/><ellipse cx="181.6" cy="1014.4" rx="4.67" ry="6.35"/><ellipse cx="219.7" cy="964.6" rx="4.67" ry="6.35"/><ellipse cx="210.5" cy="967.4" rx="4.67" ry="6.35"/><ellipse cx="204.1" cy="976.1" rx="4.67" ry="6.35"/><ellipse cx="215.1" cy="976.1" rx="4.67" ry="6.35"/><ellipse cx="222.4" cy="975.1" rx="4.67" ry="6.35"/><ellipse cx="205.0" cy="983.7" rx="4.67" ry="6.35"/><ellipse cx="216.0" cy="985.6" rx="4.67" ry="6.35"/><ellipse cx="226.1" cy="983.7" rx="4.67" ry="6.35"/><ellipse cx="236.2" cy="985.6" rx="4.67" ry="6.35"/><ellipse cx="242.6" cy="980.9" rx="4.67" ry="6.35"/><ellipse cx="242.6" cy="988.5" rx="4.67" ry="6.35"/><ellipse cx="205.0" cy="999.1" rx="4.67" ry="6.35"/><ellipse cx="212.3" cy="999.1" rx="4.67" ry="6.35"/><ellipse cx="220.6" cy="997.1" rx="4.67" ry="6.35"/><ellipse cx="195.8" cy="1006.7" rx="4.67" ry="6.35"/><ellipse cx="204.1" cy="1006.7" rx="4.67" ry="6.35"/><ellipse cx="223.4" cy="1008.6" rx="4.67" ry="6.35"/><ellipse cx="201.3" cy="1022.1" rx="4.67" ry="6.35"/><ellipse cx="207.7" cy="1020.1" rx="4.67" ry="6.35"/><ellipse cx="228.9" cy="1019.2" rx="4.67" ry="6.35"/><ellipse cx="235.3" cy="1004.8" rx="4.67" ry="6.35"/><ellipse cx="262.8" cy="988.5" rx="4.67" ry="6.35"/><ellipse cx="272.0" cy="997.1" rx="4.67" ry="6.35"/><ellipse cx="278.5" cy="1004.8" rx="4.67" ry="6.35"/><ellipse cx="251.8" cy="1033.5" rx="4.67" ry="6.35"/><ellipse cx="239.9" cy="1031.6" rx="4.67" ry="6.35"/><ellipse cx="206.8" cy="1034.5" rx="4.67" ry="6.35"/><ellipse cx="205.9" cy="1046.0" rx="4.67" ry="6.35"/><ellipse cx="216.0" cy="1046.0" rx="4.67" ry="6.35"/><ellipse cx="228.9" cy="1043.1" rx="4.67" ry="6.35"/><ellipse cx="235.3" cy="1063.2" rx="4.67" ry="6.35"/><ellipse cx="273.0" cy="1024.0" rx="4.67" ry="6.35"/><ellipse cx="278.5" cy="1030.7" rx="4.67" ry="6.35"/><ellipse cx="245.4" cy="1010.6" rx="4.67" ry="6.35"/><ellipse cx="155.8" cy="980.9" rx="4.67" ry="6.35"/><ellipse cx="213.2" cy="1011.5" rx="4.67" ry="6.35"/><ellipse cx="222.4" cy="1033.5" rx="4.67" ry="6.35"/><ellipse cx="239.9" cy="1023.0" rx="4.67" ry="6.35"/><ellipse cx="251.8" cy="1001.0" rx="4.67" ry="6.35"/><ellipse cx="256.4" cy="1018.7" rx="4.67" ry="6.35"/><ellipse cx="265.1" cy="1004.3" rx="4.67" ry="6.35"/><ellipse cx="227.0" cy="1053.7" rx="4.67" ry="6.35"/><ellipse cx="285.8" cy="998.1" rx="4.67" ry="6.35"/><ellipse cx="281.2" cy="1022.1" rx="4.67" ry="6.35"/><ellipse cx="283.9" cy="1038.3" rx="4.67" ry="6.35"/><ellipse cx="296.8" cy="999.5" rx="4.67" ry="6.35"/><ellipse cx="306.9" cy="1004.8" rx="4.67" ry="6.35"/><ellipse cx="311.5" cy="1017.3" rx="4.67" ry="6.35"/><ellipse cx="326.2" cy="994.3" rx="4.67" ry="6.35"/><ellipse cx="340.9" cy="1001.5" rx="4.67" ry="6.35"/><ellipse cx="338.6" cy="1016.3" rx="4.67" ry="6.35"/><ellipse cx="360.6" cy="1025.9" rx="4.67" ry="6.35"/><ellipse cx="402.9" cy="1001.5" rx="4.67" ry="6.35"/><ellipse cx="392.8" cy="1031.6" rx="4.67" ry="6.35"/><ellipse cx="396.4" cy="1044.1" rx="4.67" ry="6.35"/><ellipse cx="419.9" cy="1035.9" rx="4.67" ry="6.35"/><ellipse cx="362.0" cy="1057.5" rx="4.67" ry="6.35"/><ellipse cx="366.6" cy="1064.2" rx="4.67" ry="6.35"/><ellipse cx="390.5" cy="1061.3" rx="4.67" ry="6.35"/><ellipse cx="327.1" cy="1004.8" rx="4.67" ry="6.35"/><ellipse cx="296.8" cy="1035.5" rx="4.67" ry="6.35"/><ellipse cx="385.9" cy="1065.2" rx="4.67" ry="6.35"/><ellipse cx="428.5" cy="998.0" rx="4.67" ry="6.35"/><ellipse cx="430.6" cy="1012.0" rx="4.67" ry="6.35"/><ellipse cx="453.3" cy="986.1" rx="4.67" ry="6.35"/><ellipse cx="461.6" cy="982.9" rx="4.67" ry="6.35"/><ellipse cx="466.8" cy="988.3" rx="4.67" ry="6.35"/><ellipse cx="461.6" cy="999.1" rx="4.67" ry="6.35"/><ellipse cx="465.7" cy="1007.7" rx="4.67" ry="6.35"/><ellipse cx="467.8" cy="1017.4" rx="4.67" ry="6.35"/><ellipse cx="463.7" cy="1027.1" rx="4.67" ry="6.35"/><ellipse cx="469.9" cy="1032.5" rx="4.67" ry="6.35"/><ellipse cx="477.1" cy="1035.7" rx="4.67" ry="6.35"/><ellipse cx="478.1" cy="1044.3" rx="4.67" ry="6.35"/><ellipse cx="475.0" cy="978.6" rx="4.67" ry="6.35"/><ellipse cx="482.3" cy="980.7" rx="4.67" ry="6.35"/><ellipse cx="486.4" cy="979.7" rx="4.67" ry="6.35"/><ellipse cx="478.1" cy="992.6" rx="4.67" ry="6.35"/><ellipse cx="478.1" cy="996.9" rx="4.67" ry="6.35"/><ellipse cx="488.5" cy="987.2" rx="4.67" ry="6.35"/><ellipse cx="494.7" cy="993.7" rx="4.67" ry="6.35"/><ellipse cx="498.8" cy="1001.2" rx="4.67" ry="6.35"/><ellipse cx="504.0" cy="1007.7" rx="4.67" ry="6.35"/><ellipse cx="507.1" cy="1014.1" rx="4.67" ry="6.35"/><ellipse cx="509.1" cy="1021.7" rx="4.67" ry="6.35"/><ellipse cx="480.2" cy="1014.1" rx="4.67" ry="6.35"/><ellipse cx="486.4" cy="1012.0" rx="4.67" ry="6.35"/><ellipse cx="488.5" cy="1020.6" rx="4.67" ry="6.35"/><ellipse cx="488.5" cy="1027.1" rx="4.67" ry="6.35"/><ellipse cx="500.9" cy="1027.1" rx="4.67" ry="6.35"/><ellipse cx="505.0" cy="1035.7" rx="4.67" ry="6.35"/><ellipse cx="490.5" cy="1044.3" rx="4.67" ry="6.35"/><ellipse cx="495.7" cy="1040.0" rx="4.67" ry="6.35"/><ellipse cx="515.3" cy="962.4" rx="4.67" ry="6.35"/><ellipse cx="522.6" cy="959.2" rx="4.67" ry="6.35"/><ellipse cx="505.0" cy="988.3" rx="4.67" ry="6.35"/><ellipse cx="513.3" cy="981.8" rx="4.67" ry="6.35"/><ellipse cx="514.3" cy="990.4" rx="4.67" ry="6.35"/><ellipse cx="513.3" cy="1001.2" rx="4.67" ry="6.35"/><ellipse cx="521.5" cy="995.8" rx="4.67" ry="6.35"/><ellipse cx="524.6" cy="1006.6" rx="4.67" ry="6.35"/><ellipse cx="521.5" cy="1017.4" rx="4.67" ry="6.35"/><ellipse cx="517.4" cy="1024.9" rx="4.67" ry="6.35"/><ellipse cx="515.3" cy="1033.5" rx="4.67" ry="6.35"/><ellipse cx="523.6" cy="1035.7" rx="4.67" ry="6.35"/><ellipse cx="527.7" cy="979.7" rx="4.67" ry="6.35"/><ellipse cx="532.9" cy="977.5" rx="4.67" ry="6.35"/><ellipse cx="539.1" cy="967.8" rx="4.67" ry="6.35"/><ellipse cx="543.2" cy="961.3" rx="4.67" ry="6.35"/><ellipse cx="529.8" cy="992.6" rx="4.67" ry="6.35"/><ellipse cx="535.0" cy="999.1" rx="4.67" ry="6.35"/><ellipse cx="531.9" cy="1012.0" rx="4.67" ry="6.35"/><ellipse cx="533.9" cy="1031.4" rx="4.67" ry="6.35"/><ellipse cx="541.2" cy="1031.4" rx="4.67" ry="6.35"/><ellipse cx="530.8" cy="1043.2" rx="4.67" ry="6.35"/><ellipse cx="544.3" cy="987.2" rx="4.67" ry="6.35"/><ellipse cx="551.5" cy="1012.0" rx="4.67" ry="6.35"/><ellipse cx="551.5" cy="1047.6" rx="4.67" ry="6.35"/><ellipse cx="550.5" cy="973.2" rx="4.67" ry="6.35"/><ellipse cx="558.8" cy="964.6" rx="4.67" ry="6.35"/><ellipse cx="557.7" cy="981.8" rx="4.67" ry="6.35"/><ellipse cx="562.9" cy="978.6" rx="4.67" ry="6.35"/><ellipse cx="565.0" cy="992.6" rx="4.67" ry="6.35"/><ellipse cx="558.8" cy="999.1" rx="4.67" ry="6.35"/><ellipse cx="562.9" cy="1007.7" rx="4.67" ry="6.35"/><ellipse cx="560.8" cy="1020.6" rx="4.67" ry="6.35"/><ellipse cx="565.0" cy="1029.2" rx="4.67" ry="6.35"/><ellipse cx="567.0" cy="1040.0" rx="4.67" ry="6.35"/><ellipse cx="574.3" cy="973.2" rx="4.67" ry="6.35"/><ellipse cx="573.2" cy="981.8" rx="4.67" ry="6.35"/><ellipse cx="582.5" cy="986.1" rx="4.67" ry="6.35"/><ellipse cx="581.5" cy="996.9" rx="4.67" ry="6.35"/><ellipse cx="578.4" cy="1007.7" rx="4.67" ry="6.35"/><ellipse cx="572.2" cy="1002.3" rx="4.67" ry="6.35"/><ellipse cx="577.4" cy="1027.1" rx="4.67" ry="6.35"/><ellipse cx="585.6" cy="1020.6" rx="4.67" ry="6.35"/><ellipse cx="583.6" cy="1036.8" rx="4.67" ry="6.35"/><ellipse cx="575.3" cy="1050.8" rx="4.67" ry="6.35"/><ellipse cx="458.5" cy="1058.3" rx="4.67" ry="6.35"/><ellipse cx="509.1" cy="1049.7" rx="4.67" ry="6.35"/><ellipse cx="507.1" cy="1058.3" rx="4.67" ry="6.35"/><ellipse cx="519.5" cy="1055.1" rx="4.67" ry="6.35"/><ellipse cx="528.8" cy="1059.4" rx="4.67" ry="6.35"/><ellipse cx="558.8" cy="1057.3" rx="4.67" ry="6.35"/><ellipse cx="494.7" cy="1064.8" rx="4.67" ry="6.35"/><ellipse cx="444.0" cy="992.6" rx="4.67" ry="6.35"/><ellipse cx="442.5" cy="1012.0" rx="4.67" ry="6.35"/><ellipse cx="593.3" cy="977.9" rx="4.67" ry="6.35"/><ellipse cx="601.9" cy="980.6" rx="4.67" ry="6.35"/><ellipse cx="609.7" cy="981.5" rx="4.67" ry="6.35"/><ellipse cx="596.7" cy="990.4" rx="4.67" ry="6.35"/><ellipse cx="608.8" cy="990.4" rx="4.67" ry="6.35"/><ellipse cx="614.0" cy="997.6" rx="4.67" ry="6.35"/><ellipse cx="616.6" cy="1005.7" rx="4.67" ry="6.35"/><ellipse cx="626.0" cy="1001.2" rx="4.67" ry="6.35"/><ellipse cx="632.1" cy="1003.0" rx="4.67" ry="6.35"/><ellipse cx="627.7" cy="1012.0" rx="4.67" ry="6.35"/><ellipse cx="626.0" cy="1019.2" rx="4.67" ry="6.35"/><ellipse cx="589.9" cy="1001.2" rx="4.67" ry="6.35"/><ellipse cx="600.2" cy="1005.7" rx="4.67" ry="6.35"/><ellipse cx="595.0" cy="1013.8" rx="4.67" ry="6.35"/><ellipse cx="601.9" cy="1015.6" rx="4.67" ry="6.35"/><ellipse cx="589.0" cy="1021.0" rx="4.67" ry="6.35"/><ellipse cx="592.4" cy="1026.4" rx="4.67" ry="6.35"/><ellipse cx="601.1" cy="1030.0" rx="4.67" ry="6.35"/><ellipse cx="620.0" cy="1024.6" rx="4.67" ry="6.35"/><ellipse cx="616.6" cy="1033.5" rx="4.67" ry="6.35"/><ellipse cx="615.7" cy="1042.5" rx="4.67" ry="6.35"/><ellipse cx="626.0" cy="1028.2" rx="4.67" ry="6.35"/><ellipse cx="631.2" cy="1030.0" rx="4.67" ry="6.35"/><ellipse cx="637.2" cy="1037.1" rx="4.67" ry="6.35"/><ellipse cx="645.0" cy="1021.9" rx="4.67" ry="6.35"/><ellipse cx="646.7" cy="1030.0" rx="4.67" ry="6.35"/><ellipse cx="649.3" cy="1040.7" rx="4.67" ry="6.35"/><ellipse cx="612.2" cy="1051.5" rx="4.67" ry="6.35"/><ellipse cx="626.0" cy="1048.8" rx="4.67" ry="6.35"/><ellipse cx="600.2" cy="1047.0" rx="4.67" ry="6.35"/><ellipse cx="591.6" cy="1052.4" rx="4.67" ry="6.35"/><ellipse cx="592.4" cy="1063.2" rx="4.67" ry="6.35"/><ellipse cx="622.6" cy="1061.4" rx="4.67" ry="6.35"/><ellipse cx="627.7" cy="1055.1" rx="4.67" ry="6.35"/><ellipse cx="639.8" cy="1053.3" rx="4.67" ry="6.35"/><ellipse cx="646.7" cy="1052.4" rx="4.67" ry="6.35"/><ellipse cx="639.8" cy="1064.1" rx="4.67" ry="6.35"/><ellipse cx="283.9" cy="1076.6" rx="4.67" ry="6.35"/><ellipse cx="291.1" cy="1084.1" rx="4.67" ry="6.35"/><ellipse cx="297.3" cy="1091.7" rx="4.67" ry="6.35"/><ellipse cx="361.5" cy="1073.7" rx="4.67" ry="6.35"/><ellipse cx="363.5" cy="1079.1" rx="4.67" ry="6.35"/><ellipse cx="375.4" cy="1074.3" rx="4.67" ry="6.35"/><ellipse cx="352.7" cy="1098.0" rx="4.67" ry="6.35"/><ellipse cx="363.5" cy="1107.2" rx="4.67" ry="6.35"/><ellipse cx="369.7" cy="1102.8" rx="4.67" ry="6.35"/><ellipse cx="377.0" cy="1107.2" rx="4.67" ry="6.35"/><ellipse cx="378.0" cy="1091.0" rx="4.67" ry="6.35"/><ellipse cx="375.9" cy="1098.5" rx="4.67" ry="6.35"/><ellipse cx="382.1" cy="1102.8" rx="4.67" ry="6.35"/><ellipse cx="395.6" cy="1107.7" rx="4.67" ry="6.35"/><ellipse cx="457.6" cy="1102.8" rx="4.67" ry="6.35"/><ellipse cx="458.6" cy="1060.8" rx="4.67" ry="6.35"/><ellipse cx="322.2" cy="1128.7" rx="4.67" ry="6.35"/><ellipse cx="316.0" cy="1130.9" rx="4.67" ry="6.35"/><ellipse cx="330.5" cy="1136.3" rx="4.67" ry="6.35"/><ellipse cx="339.8" cy="1136.3" rx="4.67" ry="6.35"/><ellipse cx="348.6" cy="1126.6" rx="4.67" ry="6.35"/><ellipse cx="316.5" cy="1144.9" rx="4.67" ry="6.35"/><ellipse cx="331.0" cy="1150.3" rx="4.67" ry="6.35"/><ellipse cx="317.0" cy="1161.0" rx="4.67" ry="6.35"/><ellipse cx="346.0" cy="1147.0" rx="4.67" ry="6.35"/><ellipse cx="351.1" cy="1141.6" rx="4.67" ry="6.35"/><ellipse cx="358.4" cy="1135.2" rx="4.67" ry="6.35"/><ellipse cx="373.9" cy="1139.5" rx="4.67" ry="6.35"/><ellipse cx="361.5" cy="1152.4" rx="4.67" ry="6.35"/><ellipse cx="372.8" cy="1149.2" rx="4.67" ry="6.35"/><ellipse cx="358.4" cy="1160.0" rx="4.67" ry="6.35"/><ellipse cx="368.7" cy="1160.0" rx="4.67" ry="6.35"/><ellipse cx="357.3" cy="1169.7" rx="4.67" ry="6.35"/><ellipse cx="369.7" cy="1171.8" rx="4.67" ry="6.35"/><ellipse cx="388.3" cy="1168.6" rx="4.67" ry="6.35"/><ellipse cx="384.2" cy="1174.0" rx="4.67" ry="6.35"/><ellipse cx="412.1" cy="1139.5" rx="4.67" ry="6.35"/><ellipse cx="405.9" cy="1149.2" rx="4.67" ry="6.35"/><ellipse cx="415.2" cy="1147.0" rx="4.67" ry="6.35"/><ellipse cx="420.4" cy="1152.4" rx="4.67" ry="6.35"/><ellipse cx="410.0" cy="1162.1" rx="4.67" ry="6.35"/><ellipse cx="417.3" cy="1174.0" rx="4.67" ry="6.35"/><ellipse cx="425.5" cy="1135.2" rx="4.67" ry="6.35"/><ellipse cx="431.7" cy="1125.5" rx="4.67" ry="6.35"/><ellipse cx="435.9" cy="1131.9" rx="4.67" ry="6.35"/><ellipse cx="444.1" cy="1122.2" rx="4.67" ry="6.35"/><ellipse cx="451.4" cy="1134.1" rx="4.67" ry="6.35"/><ellipse cx="458.6" cy="1130.9" rx="4.67" ry="6.35"/><ellipse cx="488.7" cy="1073.7" rx="4.67" ry="6.35"/><ellipse cx="514.5" cy="1065.1" rx="4.67" ry="6.35"/><ellipse cx="536.2" cy="1066.2" rx="4.67" ry="6.35"/><ellipse cx="549.7" cy="1070.5" rx="4.67" ry="6.35"/><ellipse cx="540.4" cy="1081.3" rx="4.67" ry="6.35"/><ellipse cx="517.6" cy="1085.1" rx="4.67" ry="6.35"/><ellipse cx="559.0" cy="1060.8" rx="4.67" ry="6.35"/><ellipse cx="563.1" cy="1069.4" rx="4.67" ry="6.35"/><ellipse cx="560.0" cy="1082.4" rx="4.67" ry="6.35"/><ellipse cx="571.4" cy="1083.4" rx="4.67" ry="6.35"/><ellipse cx="578.6" cy="1075.9" rx="4.67" ry="6.35"/><ellipse cx="585.8" cy="1081.3" rx="4.67" ry="6.35"/><ellipse cx="584.8" cy="1091.0" rx="4.67" ry="6.35"/><ellipse cx="591.0" cy="1088.8" rx="4.67" ry="6.35"/><ellipse cx="592.0" cy="1066.2" rx="4.67" ry="6.35"/><ellipse cx="593.1" cy="1070.5" rx="4.67" ry="6.35"/><ellipse cx="603.4" cy="1071.6" rx="4.67" ry="6.35"/><ellipse cx="603.4" cy="1081.3" rx="4.67" ry="6.35"/><ellipse cx="622.0" cy="1063.0" rx="4.67" ry="6.35"/><ellipse cx="602.4" cy="1100.2" rx="4.67" ry="6.35"/><ellipse cx="616.8" cy="1108.2" rx="4.67" ry="6.35"/><ellipse cx="623.0" cy="1117.9" rx="4.67" ry="6.35"/><ellipse cx="457.7" cy="1102.8" rx="4.67" ry="6.35"/><ellipse cx="477.3" cy="1099.6" rx="4.67" ry="6.35"/><ellipse cx="488.7" cy="1087.8" rx="4.67" ry="6.35"/><ellipse cx="495.9" cy="1089.9" rx="4.67" ry="6.35"/><ellipse cx="490.8" cy="1095.3" rx="4.67" ry="6.35"/><ellipse cx="502.1" cy="1100.7" rx="4.67" ry="6.35"/><ellipse cx="498.0" cy="1103.9" rx="4.67" ry="6.35"/><ellipse cx="480.4" cy="1111.5" rx="4.67" ry="6.35"/><ellipse cx="480.4" cy="1122.2" rx="4.67" ry="6.35"/><ellipse cx="473.2" cy="1128.7" rx="4.67" ry="6.35"/><ellipse cx="460.8" cy="1130.9" rx="4.67" ry="6.35"/><ellipse cx="455.6" cy="1139.5" rx="4.67" ry="6.35"/><ellipse cx="485.6" cy="1133.0" rx="4.67" ry="6.35"/><ellipse cx="490.8" cy="1135.2" rx="4.67" ry="6.35"/><ellipse cx="500.1" cy="1131.9" rx="4.67" ry="6.35"/><ellipse cx="518.7" cy="1117.9" rx="4.67" ry="6.35"/><ellipse cx="516.1" cy="1129.8" rx="4.67" ry="6.35"/><ellipse cx="547.6" cy="1112.5" rx="4.67" ry="6.35"/><ellipse cx="553.8" cy="1139.5" rx="4.67" ry="6.35"/><ellipse cx="510.4" cy="1153.5" rx="4.67" ry="6.35"/><ellipse cx="518.7" cy="1160.0" rx="4.67" ry="6.35"/><ellipse cx="524.9" cy="1165.4" rx="4.67" ry="6.35"/><ellipse cx="533.1" cy="1166.4" rx="4.67" ry="6.35"/><ellipse cx="535.2" cy="1174.0" rx="4.67" ry="6.35"/><ellipse cx="545.5" cy="1176.1" rx="4.67" ry="6.35"/><ellipse cx="585.3" cy="1162.1" rx="4.67" ry="6.35"/><ellipse cx="583.8" cy="1171.8" rx="4.67" ry="6.35"/><ellipse cx="599.3" cy="1157.8" rx="4.67" ry="6.35"/><ellipse cx="615.8" cy="1147.0" rx="4.67" ry="6.35"/><ellipse cx="618.9" cy="1154.6" rx="4.67" ry="6.35"/><ellipse cx="612.7" cy="1160.0" rx="4.67" ry="6.35"/><ellipse cx="617.9" cy="1175.1" rx="4.67" ry="6.35"/><ellipse cx="599.3" cy="1175.1" rx="4.67" ry="6.35"/><ellipse cx="467.0" cy="1116.9" rx="4.67" ry="6.35"/><ellipse cx="630.0" cy="1068.5" rx="4.67" ry="6.35"/><ellipse cx="645.3" cy="1062.6" rx="4.67" ry="6.35"/><ellipse cx="639.7" cy="1073.5" rx="4.67" ry="6.35"/><ellipse cx="634.9" cy="1086.1" rx="4.67" ry="6.35"/><ellipse cx="628.4" cy="1097.1" rx="4.67" ry="6.35"/><ellipse cx="632.5" cy="1121.4" rx="4.67" ry="6.35"/><ellipse cx="630.0" cy="1129.8" rx="4.67" ry="6.35"/><ellipse cx="647.0" cy="1136.5" rx="4.67" ry="6.35"/><ellipse cx="628.4" cy="1144.1" rx="4.67" ry="6.35"/><ellipse cx="636.5" cy="1142.4" rx="4.67" ry="6.35"/><ellipse cx="639.7" cy="1150.0" rx="4.67" ry="6.35"/><ellipse cx="638.9" cy="1156.7" rx="4.67" ry="6.35"/><ellipse cx="650.2" cy="1155.8" rx="4.67" ry="6.35"/><ellipse cx="667.9" cy="1171.8" rx="4.67" ry="6.35"/><ellipse cx="659.8" cy="1175.2" rx="4.67" ry="6.35"/><ellipse cx="619.6" cy="1175.2" rx="4.67" ry="6.35"/><ellipse cx="370.5" cy="1181.8" rx="4.67" ry="6.35"/><ellipse cx="369.4" cy="1189.4" rx="4.67" ry="6.35"/><ellipse cx="396.3" cy="1182.9" rx="4.67" ry="6.35"/><ellipse cx="405.6" cy="1187.2" rx="4.67" ry="6.35"/><ellipse cx="411.8" cy="1193.7" rx="4.67" ry="6.35"/><ellipse cx="420.1" cy="1192.6" rx="4.67" ry="6.35"/><ellipse cx="412.8" cy="1180.8" rx="4.67" ry="6.35"/><ellipse cx="387.0" cy="1193.7" rx="4.67" ry="6.35"/><ellipse cx="384.9" cy="1202.3" rx="4.67" ry="6.35"/><ellipse cx="393.2" cy="1200.2" rx="4.67" ry="6.35"/><ellipse cx="380.8" cy="1214.2" rx="4.67" ry="6.35"/><ellipse cx="387.0" cy="1216.3" rx="4.67" ry="6.35"/><ellipse cx="388.0" cy="1228.2" rx="4.67" ry="6.35"/><ellipse cx="398.4" cy="1218.5" rx="4.67" ry="6.35"/><ellipse cx="397.3" cy="1227.1" rx="4.67" ry="6.35"/><ellipse cx="395.3" cy="1241.1" rx="4.67" ry="6.35"/><ellipse cx="410.8" cy="1237.9" rx="4.67" ry="6.35"/><ellipse cx="414.9" cy="1247.6" rx="4.67" ry="6.35"/><ellipse cx="405.6" cy="1264.8" rx="4.67" ry="6.35"/><ellipse cx="432.5" cy="1202.3" rx="4.67" ry="6.35"/><ellipse cx="437.6" cy="1205.6" rx="4.67" ry="6.35"/><ellipse cx="430.4" cy="1212.0" rx="4.67" ry="6.35"/><ellipse cx="426.3" cy="1218.5" rx="4.67" ry="6.35"/><ellipse cx="443.8" cy="1186.2" rx="4.67" ry="6.35"/><ellipse cx="443.8" cy="1218.5" rx="4.67" ry="6.35"/><ellipse cx="449.0" cy="1222.8" rx="4.67" ry="6.35"/><ellipse cx="443.8" cy="1232.5" rx="4.67" ry="6.35"/><ellipse cx="453.1" cy="1225.0" rx="4.67" ry="6.35"/><ellipse cx="426.3" cy="1249.7" rx="4.67" ry="6.35"/><ellipse cx="426.3" cy="1257.3" rx="4.67" ry="6.35"/><ellipse cx="433.5" cy="1261.6" rx="4.67" ry="6.35"/><ellipse cx="441.8" cy="1264.8" rx="4.67" ry="6.35"/><ellipse cx="442.8" cy="1247.6" rx="4.67" ry="6.35"/><ellipse cx="451.1" cy="1243.3" rx="4.67" ry="6.35"/><ellipse cx="449.0" cy="1254.0" rx="4.67" ry="6.35"/><ellipse cx="431.4" cy="1275.6" rx="4.67" ry="6.35"/><ellipse cx="433.5" cy="1282.1" rx="4.67" ry="6.35"/><ellipse cx="450.0" cy="1282.1" rx="4.67" ry="6.35"/><ellipse cx="504.9" cy="1182.9" rx="4.67" ry="6.35"/><ellipse cx="523.5" cy="1185.1" rx="4.67" ry="6.35"/><ellipse cx="530.7" cy="1186.2" rx="4.67" ry="6.35"/><ellipse cx="545.2" cy="1178.6" rx="4.67" ry="6.35"/><ellipse cx="542.1" cy="1182.9" rx="4.67" ry="6.35"/><ellipse cx="577.2" cy="1188.3" rx="4.67" ry="6.35"/><ellipse cx="615.5" cy="1178.6" rx="4.67" ry="6.35"/><ellipse cx="615.5" cy="1194.8" rx="4.67" ry="6.35"/><ellipse cx="500.8" cy="1208.8" rx="4.67" ry="6.35"/><ellipse cx="527.6" cy="1205.6" rx="4.67" ry="6.35"/><ellipse cx="544.7" cy="1205.6" rx="4.67" ry="6.35"/><ellipse cx="555.5" cy="1201.2" rx="4.67" ry="6.35"/><ellipse cx="470.8" cy="1212.0" rx="4.67" ry="6.35"/><ellipse cx="468.7" cy="1222.8" rx="4.67" ry="6.35"/><ellipse cx="458.4" cy="1228.2" rx="4.67" ry="6.35"/><ellipse cx="458.4" cy="1243.3" rx="4.67" ry="6.35"/><ellipse cx="496.6" cy="1230.3" rx="4.67" ry="6.35"/><ellipse cx="503.9" cy="1234.7" rx="4.67" ry="6.35"/><ellipse cx="511.1" cy="1225.0" rx="4.67" ry="6.35"/><ellipse cx="508.0" cy="1232.5" rx="4.67" ry="6.35"/><ellipse cx="482.2" cy="1239.0" rx="4.67" ry="6.35"/><ellipse cx="483.2" cy="1249.7" rx="4.67" ry="6.35"/><ellipse cx="494.6" cy="1245.4" rx="4.67" ry="6.35"/><ellipse cx="509.0" cy="1248.7" rx="4.67" ry="6.35"/><ellipse cx="544.2" cy="1226.0" rx="4.67" ry="6.35"/><ellipse cx="542.1" cy="1234.7" rx="4.67" ry="6.35"/><ellipse cx="540.0" cy="1243.3" rx="4.67" ry="6.35"/><ellipse cx="527.6" cy="1247.6" rx="4.67" ry="6.35"/><ellipse cx="540.0" cy="1251.9" rx="4.67" ry="6.35"/><ellipse cx="533.8" cy="1257.3" rx="4.67" ry="6.35"/><ellipse cx="554.5" cy="1253.0" rx="4.67" ry="6.35"/><ellipse cx="514.2" cy="1260.5" rx="4.67" ry="6.35"/><ellipse cx="515.2" cy="1270.2" rx="4.67" ry="6.35"/><ellipse cx="499.7" cy="1275.6" rx="4.67" ry="6.35"/><ellipse cx="507.0" cy="1273.4" rx="4.67" ry="6.35"/><ellipse cx="471.8" cy="1260.5" rx="4.67" ry="6.35"/><ellipse cx="486.3" cy="1262.7" rx="4.67" ry="6.35"/><ellipse cx="476.0" cy="1271.3" rx="4.67" ry="6.35"/><ellipse cx="484.2" cy="1275.6" rx="4.67" ry="6.35"/><ellipse cx="478.0" cy="1282.1" rx="4.67" ry="6.35"/><ellipse cx="463.6" cy="1269.1" rx="4.67" ry="6.35"/><ellipse cx="457.4" cy="1262.7" rx="4.67" ry="6.35"/><ellipse cx="450.1" cy="1281.0" rx="4.67" ry="6.35"/><ellipse cx="458.4" cy="1286.4" rx="4.67" ry="6.35"/><ellipse cx="454.3" cy="1275.6" rx="4.67" ry="6.35"/><ellipse cx="525.6" cy="1271.3" rx="4.67" ry="6.35"/><ellipse cx="521.4" cy="1274.5" rx="4.67" ry="6.35"/><ellipse cx="542.1" cy="1270.2" rx="4.67" ry="6.35"/><ellipse cx="548.3" cy="1264.8" rx="4.67" ry="6.35"/><ellipse cx="553.5" cy="1271.3" rx="4.67" ry="6.35"/><ellipse cx="541.1" cy="1281.0" rx="4.67" ry="6.35"/><ellipse cx="548.3" cy="1282.1" rx="4.67" ry="6.35"/><ellipse cx="563.8" cy="1264.8" rx="4.67" ry="6.35"/><ellipse cx="566.9" cy="1275.6" rx="4.67" ry="6.35"/><ellipse cx="572.1" cy="1268.1" rx="4.67" ry="6.35"/><ellipse cx="578.3" cy="1271.3" rx="4.67" ry="6.35"/><ellipse cx="577.2" cy="1243.3" rx="4.67" ry="6.35"/><ellipse cx="585.5" cy="1241.1" rx="4.67" ry="6.35"/><ellipse cx="594.8" cy="1240.0" rx="4.67" ry="6.35"/><ellipse cx="591.7" cy="1259.4" rx="4.67" ry="6.35"/><ellipse cx="590.7" cy="1271.3" rx="4.67" ry="6.35"/><ellipse cx="610.3" cy="1232.5" rx="4.67" ry="6.35"/><ellipse cx="607.2" cy="1254.0" rx="4.67" ry="6.35"/><ellipse cx="614.5" cy="1245.4" rx="4.67" ry="6.35"/><ellipse cx="615.5" cy="1270.2" rx="4.67" ry="6.35"/><ellipse cx="648.5" cy="1187.8" rx="4.67" ry="6.35"/><ellipse cx="660.7" cy="1186.0" rx="4.67" ry="6.35"/><ellipse cx="660.7" cy="1193.3" rx="4.67" ry="6.35"/><ellipse cx="669.4" cy="1184.2" rx="4.67" ry="6.35"/><ellipse cx="672.0" cy="1195.1" rx="4.67" ry="6.35"/><ellipse cx="669.4" cy="1204.2" rx="4.67" ry="6.35"/><ellipse cx="664.2" cy="1210.6" rx="4.67" ry="6.35"/><ellipse cx="657.2" cy="1211.5" rx="4.67" ry="6.35"/><ellipse cx="629.3" cy="1202.4" rx="4.67" ry="6.35"/><ellipse cx="640.6" cy="1202.4" rx="4.67" ry="6.35"/><ellipse cx="646.7" cy="1207.0" rx="4.67" ry="6.35"/><ellipse cx="637.1" cy="1213.3" rx="4.67" ry="6.35"/><ellipse cx="645.0" cy="1213.3" rx="4.67" ry="6.35"/><ellipse cx="652.0" cy="1215.1" rx="4.67" ry="6.35"/><ellipse cx="659.0" cy="1215.1" rx="4.67" ry="6.35"/><ellipse cx="667.7" cy="1213.3" rx="4.67" ry="6.35"/><ellipse cx="650.2" cy="1220.6" rx="4.67" ry="6.35"/><ellipse cx="641.5" cy="1226.1" rx="4.67" ry="6.35"/><ellipse cx="656.3" cy="1224.2" rx="4.67" ry="6.35"/><ellipse cx="680.8" cy="1210.6" rx="4.67" ry="6.35"/><ellipse cx="687.7" cy="1218.8" rx="4.67" ry="6.35"/><ellipse cx="681.6" cy="1220.6" rx="4.67" ry="6.35"/><ellipse cx="684.3" cy="1230.6" rx="4.67" ry="6.35"/><ellipse cx="672.0" cy="1231.5" rx="4.67" ry="6.35"/><ellipse cx="625.8" cy="1221.5" rx="4.67" ry="6.35"/><ellipse cx="620.6" cy="1230.6" rx="4.67" ry="6.35"/><ellipse cx="611.0" cy="1231.5" rx="4.67" ry="6.35"/><ellipse cx="614.5" cy="1240.6" rx="4.67" ry="6.35"/><ellipse cx="611.0" cy="1247.9" rx="4.67" ry="6.35"/><ellipse cx="613.6" cy="1255.2" rx="4.67" ry="6.35"/><ellipse cx="610.1" cy="1261.5" rx="4.67" ry="6.35"/><ellipse cx="627.5" cy="1242.4" rx="4.67" ry="6.35"/><ellipse cx="628.4" cy="1251.5" rx="4.67" ry="6.35"/><ellipse cx="635.4" cy="1247.9" rx="4.67" ry="6.35"/><ellipse cx="641.5" cy="1237.0" rx="4.67" ry="6.35"/><ellipse cx="649.4" cy="1233.3" rx="4.67" ry="6.35"/><ellipse cx="657.2" cy="1235.2" rx="4.67" ry="6.35"/><ellipse cx="653.7" cy="1240.6" rx="4.67" ry="6.35"/><ellipse cx="660.7" cy="1245.2" rx="4.67" ry="6.35"/><ellipse cx="645.0" cy="1247.9" rx="4.67" ry="6.35"/><ellipse cx="660.7" cy="1255.2" rx="4.67" ry="6.35"/><ellipse cx="641.5" cy="1257.0" rx="4.67" ry="6.35"/><ellipse cx="648.5" cy="1255.2" rx="4.67" ry="6.35"/><ellipse cx="645.0" cy="1263.4" rx="4.67" ry="6.35"/><ellipse cx="628.4" cy="1265.2" rx="4.67" ry="6.35"/><ellipse cx="627.5" cy="1274.3" rx="4.67" ry="6.35"/><ellipse cx="641.5" cy="1275.2" rx="4.67" ry="6.35"/><ellipse cx="649.4" cy="1271.5" rx="4.67" ry="6.35"/><ellipse cx="616.2" cy="1270.6" rx="4.67" ry="6.35"/><ellipse cx="151.7" cy="975.1" rx="4.67" ry="6.35"/><ellipse cx="210.5" cy="975.1" rx="4.67" ry="6.35"/><ellipse cx="220.6" cy="980.9" rx="4.67" ry="6.35"/><ellipse cx="210.5" cy="988.5" rx="4.67" ry="6.35"/><ellipse cx="230.7" cy="992.4" rx="4.67" ry="6.35"/><ellipse cx="216.0" cy="1004.8" rx="4.67" ry="6.35"/><ellipse cx="213.2" cy="1038.3" rx="4.67" ry="6.35"/><ellipse cx="219.7" cy="1052.7" rx="4.67" ry="6.35"/><ellipse cx="246.3" cy="1028.8" rx="4.67" ry="6.35"/><ellipse cx="268.4" cy="1019.2" rx="4.67" ry="6.35"/><ellipse cx="465.9" cy="988.8" rx="4.67" ry="6.35"/><ellipse cx="462.3" cy="1002.7" rx="4.67" ry="6.35"/><ellipse cx="468.3" cy="1007.7" rx="4.67" ry="6.35"/><ellipse cx="465.9" cy="1022.8" rx="4.67" ry="6.35"/><ellipse cx="471.9" cy="1029.1" rx="4.67" ry="6.35"/><ellipse cx="481.6" cy="1020.3" rx="4.67" ry="6.35"/><ellipse cx="486.4" cy="1025.3" rx="4.67" ry="6.35"/><ellipse cx="490.0" cy="1022.8" rx="4.67" ry="6.35"/><ellipse cx="480.3" cy="997.6" rx="4.67" ry="6.35"/><ellipse cx="485.2" cy="988.8" rx="4.67" ry="6.35"/><ellipse cx="492.4" cy="995.1" rx="4.67" ry="6.35"/><ellipse cx="498.4" cy="1005.2" rx="4.67" ry="6.35"/><ellipse cx="500.8" cy="1015.2" rx="4.67" ry="6.35"/><ellipse cx="505.7" cy="1020.3" rx="4.67" ry="6.35"/><ellipse cx="510.5" cy="1022.8" rx="4.67" ry="6.35"/><ellipse cx="515.3" cy="1027.8" rx="4.67" ry="6.35"/><ellipse cx="522.5" cy="1022.8" rx="4.67" ry="6.35"/><ellipse cx="525.0" cy="1010.2" rx="4.67" ry="6.35"/><ellipse cx="516.5" cy="1000.1" rx="4.67" ry="6.35"/><ellipse cx="529.8" cy="1000.1" rx="4.67" ry="6.35"/><ellipse cx="510.5" cy="1010.2" rx="4.67" ry="6.35"/><ellipse cx="504.5" cy="1035.3" rx="4.67" ry="6.35"/><ellipse cx="517.7" cy="1035.3" rx="4.67" ry="6.35"/><ellipse cx="527.4" cy="1035.3" rx="4.67" ry="6.35"/><ellipse cx="512.9" cy="1058.0" rx="4.67" ry="6.35"/><ellipse cx="522.5" cy="1063.0" rx="4.67" ry="6.35"/><ellipse cx="529.8" cy="1055.5" rx="4.67" ry="6.35"/><ellipse cx="492.4" cy="1068.0" rx="4.67" ry="6.35"/><ellipse cx="429.7" cy="1005.2" rx="4.67" ry="6.35"/><ellipse cx="533.9" cy="995.1" rx="4.67" ry="6.35"/><ellipse cx="531.5" cy="1005.2" rx="4.67" ry="6.35"/><ellipse cx="526.7" cy="1017.7" rx="4.67" ry="6.35"/><ellipse cx="536.3" cy="1012.7" rx="4.67" ry="6.35"/><ellipse cx="584.6" cy="1002.7" rx="4.67" ry="6.35"/><ellipse cx="594.2" cy="1000.1" rx="4.67" ry="6.35"/><ellipse cx="606.3" cy="1000.1" rx="4.67" ry="6.35"/><ellipse cx="612.3" cy="997.6" rx="4.67" ry="6.35"/><ellipse cx="596.6" cy="1017.7" rx="4.67" ry="6.35"/><ellipse cx="615.9" cy="1035.3" rx="4.67" ry="6.35"/><ellipse cx="618.3" cy="1047.9" rx="4.67" ry="6.35"/><ellipse cx="624.3" cy="1042.9" rx="4.67" ry="6.35"/><ellipse cx="628.0" cy="1029.1" rx="4.67" ry="6.35"/><ellipse cx="630.4" cy="1060.5" rx="4.67" ry="6.35"/><ellipse cx="636.4" cy="1060.5" rx="4.67" ry="6.35"/><ellipse cx="642.4" cy="1051.7" rx="4.67" ry="6.35"/><ellipse cx="647.2" cy="1055.5" rx="4.67" ry="6.35"/><ellipse cx="573.7" cy="1035.3" rx="4.67" ry="6.35"/><ellipse cx="587.0" cy="1040.4" rx="4.67" ry="6.35"/><ellipse cx="576.1" cy="1046.7" rx="4.67" ry="6.35"/><ellipse cx="353.9" cy="1144.2" rx="4.67" ry="6.35"/><ellipse cx="363.6" cy="1141.7" rx="4.67" ry="6.35"/><ellipse cx="364.8" cy="1153.0" rx="4.67" ry="6.35"/><ellipse cx="361.2" cy="1163.1" rx="4.67" ry="6.35"/><ellipse cx="366.0" cy="1175.7" rx="4.67" ry="6.35"/><ellipse cx="373.2" cy="1183.2" rx="4.67" ry="6.35"/><ellipse cx="358.8" cy="1173.1" rx="4.67" ry="6.35"/><ellipse cx="351.5" cy="1155.5" rx="4.67" ry="6.35"/><ellipse cx="411.8" cy="1146.7" rx="4.67" ry="6.35"/><ellipse cx="417.8" cy="1143.0" rx="4.67" ry="6.35"/><ellipse cx="464.8" cy="1129.1" rx="4.67" ry="6.35"/><ellipse cx="474.5" cy="1132.9" rx="4.67" ry="6.35"/><ellipse cx="460.0" cy="1137.9" rx="4.67" ry="6.35"/><ellipse cx="480.5" cy="1132.9" rx="4.67" ry="6.35"/><ellipse cx="429.5" cy="1253.0" rx="4.67" ry="6.35"/><ellipse cx="440.0" cy="1261.2" rx="4.67" ry="6.35"/><ellipse cx="450.6" cy="1253.0" rx="4.67" ry="6.35"/><ellipse cx="434.8" cy="1266.8" rx="4.67" ry="6.35"/><ellipse cx="445.3" cy="1272.3" rx="4.67" ry="6.35"/><ellipse cx="461.2" cy="1247.5" rx="4.67" ry="6.35"/><ellipse cx="453.3" cy="1233.7" rx="4.67" ry="6.35"/><ellipse cx="466.5" cy="1266.8" rx="4.67" ry="6.35"/><ellipse cx="479.7" cy="1275.0" rx="4.67" ry="6.35"/><ellipse cx="535.1" cy="1272.3" rx="4.67" ry="6.35"/><ellipse cx="545.7" cy="1277.8" rx="4.67" ry="6.35"/><ellipse cx="561.5" cy="1261.2" rx="4.67" ry="6.35"/><ellipse cx="572.1" cy="1269.5" rx="4.67" ry="6.35"/><ellipse cx="582.7" cy="1264.0" rx="4.67" ry="6.35"/><ellipse cx="585.3" cy="1242.0" rx="4.67" ry="6.35"/><ellipse cx="609.1" cy="1236.5" rx="4.67" ry="6.35"/><ellipse cx="614.3" cy="1253.0" rx="4.67" ry="6.35"/><ellipse cx="624.9" cy="1250.2" rx="4.67" ry="6.35"/><ellipse cx="635.5" cy="1239.2" rx="4.67" ry="6.35"/><ellipse cx="651.3" cy="1239.2" rx="4.67" ry="6.35"/><ellipse cx="656.6" cy="1258.5" rx="4.67" ry="6.35"/><ellipse cx="646.0" cy="1266.8" rx="4.67" ry="6.35"/><ellipse cx="632.8" cy="1269.5" rx="4.67" ry="6.35"/><ellipse cx="624.9" cy="1275.0" rx="4.67" ry="6.35"/><ellipse cx="640.8" cy="1214.4" rx="4.67" ry="6.35"/><ellipse cx="656.6" cy="1214.4" rx="4.67" ry="6.35"/><ellipse cx="664.5" cy="1225.4" rx="4.67" ry="6.35"/><ellipse cx="651.3" cy="1225.4" rx="4.67" ry="6.35"/><ellipse cx="387.2" cy="1208.9" rx="4.67" ry="6.35"/><ellipse cx="392.5" cy="1222.7" rx="4.67" ry="6.35"/><ellipse cx="498.1" cy="1275.0" rx="4.67" ry="6.35"/><ellipse cx="508.7" cy="1272.3" rx="4.67" ry="6.35"/><ellipse cx="228.4" cy="995.4" rx="4.67" ry="6.35"/><ellipse cx="237.6" cy="997.3" rx="4.67" ry="6.35"/><ellipse cx="221.1" cy="991.5" rx="4.67" ry="6.35"/><ellipse cx="206.4" cy="993.5" rx="4.67" ry="6.35"/><ellipse cx="199.0" cy="1006.9" rx="4.67" ry="6.35"/><ellipse cx="228.4" cy="1010.7" rx="4.67" ry="6.35"/><ellipse cx="213.7" cy="1022.2" rx="4.67" ry="6.35"/><ellipse cx="221.1" cy="1024.1" rx="4.67" ry="6.35"/><ellipse cx="200.9" cy="1029.9" rx="4.67" ry="6.35"/><ellipse cx="210.1" cy="1041.4" rx="4.67" ry="6.35"/><ellipse cx="221.1" cy="1041.4" rx="4.67" ry="6.35"/><ellipse cx="232.1" cy="1029.9" rx="4.67" ry="6.35"/><ellipse cx="246.8" cy="1014.5" rx="4.67" ry="6.35"/><ellipse cx="257.8" cy="1006.9" rx="4.67" ry="6.35"/><ellipse cx="270.7" cy="1014.5" rx="4.67" ry="6.35"/><ellipse cx="283.6" cy="1022.2" rx="4.67" ry="6.35"/><ellipse cx="287.2" cy="1033.7" rx="4.67" ry="6.35"/><ellipse cx="261.5" cy="1029.9" rx="4.67" ry="6.35"/><ellipse cx="228.4" cy="1041.4" rx="4.67" ry="6.35"/><ellipse cx="246.8" cy="1026.0" rx="4.67" ry="6.35"/><ellipse cx="213.7" cy="999.2" rx="4.67" ry="6.35"/><ellipse cx="235.8" cy="1006.9" rx="4.67" ry="6.35"/><ellipse cx="579.8" cy="1242.9" rx="4.67" ry="6.35"/><ellipse cx="588.6" cy="1240.7" rx="4.67" ry="6.35"/><ellipse cx="597.4" cy="1240.7" rx="4.67" ry="6.35"/><ellipse cx="584.2" cy="1247.4" rx="4.67" ry="6.35"/><ellipse cx="595.2" cy="1247.4" rx="4.67" ry="6.35"/><ellipse cx="429.5" cy="1254.0" rx="4.67" ry="6.35"/><ellipse cx="440.5" cy="1249.6" rx="4.67" ry="6.35"/><ellipse cx="444.9" cy="1262.8" rx="4.67" ry="6.35"/><ellipse cx="436.1" cy="1267.3" rx="4.67" ry="6.35"/><ellipse cx="453.8" cy="1256.2" rx="4.67" ry="6.35"/><ellipse cx="462.6" cy="1269.5" rx="4.67" ry="6.35"/><ellipse cx="471.5" cy="1262.8" rx="4.67" ry="6.35"/></g><ellipse cx="166.2" cy="976.9" rx="4.67" ry="6.35" fill="#f43a22"/><ellipse cx="263.0" cy="989.4" rx="4.67" ry="6.35" fill="#f2603e"/><ellipse cx="236.5" cy="997.5" rx="4.67" ry="6.35" fill="#f07c62"/><ellipse cx="204.2" cy="1008.2" rx="4.67" ry="6.35" fill="#f2603e"/><ellipse cx="243.7" cy="1010.0" rx="4.67" ry="6.35" fill="#f2603e"/><ellipse cx="228.4" cy="1020.8" rx="4.67" ry="6.35" fill="#f2603e"/><ellipse cx="266.1" cy="1019.0" rx="4.67" ry="6.35" fill="#f2603e"/><ellipse cx="268.7" cy="1025.3" rx="4.67" ry="6.35" fill="#f2603e"/><ellipse cx="280.4" cy="1005.6" rx="4.67" ry="6.35" fill="#f2603e"/><ellipse cx="208.7" cy="1036.9" rx="4.67" ry="6.35" fill="#f2603e"/><ellipse cx="224.8" cy="1035.1" rx="4.67" ry="6.35" fill="#f07c62"/><ellipse cx="327.0" cy="1004.7" rx="4.67" ry="6.35" fill="#f2603e"/><ellipse cx="341.3" cy="1002.0" rx="4.67" ry="6.35" fill="#f2603e"/><ellipse cx="338.6" cy="1016.3" rx="4.67" ry="6.35" fill="#f07c62"/><ellipse cx="403.2" cy="1002.0" rx="4.67" ry="6.35" fill="#f43a22"/><ellipse cx="386.1" cy="1068.3" rx="4.67" ry="6.35" fill="#f2603e"/><ellipse cx="375.4" cy="1074.6" rx="4.67" ry="6.35" fill="#f07c62"/><ellipse cx="378.1" cy="1092.5" rx="4.67" ry="6.35" fill="#f2603e"/><ellipse cx="418.4" cy="1036.0" rx="4.67" ry="6.35" fill="#f07c62"/><ellipse cx="430.5" cy="1012.6" rx="4.67" ry="6.35" fill="#f07c62"/><ellipse cx="442.1" cy="1012.6" rx="4.67" ry="6.35" fill="#f07c62"/><ellipse cx="454.7" cy="985.7" rx="4.67" ry="6.35" fill="#f2603e"/><ellipse cx="467.2" cy="989.3" rx="4.67" ry="6.35" fill="#f07c62"/><ellipse cx="461.8" cy="999.1" rx="4.67" ry="6.35" fill="#ef9079"/><ellipse cx="469.0" cy="1009.0" rx="4.67" ry="6.35" fill="#f07c62"/><ellipse cx="469.0" cy="1024.2" rx="4.67" ry="6.35" fill="#f07c62"/><ellipse cx="485.7" cy="982.1" rx="4.67" ry="6.35" fill="#f2603e"/><ellipse cx="486.0" cy="1020.6" rx="4.67" ry="6.35" fill="#ef9079"/><ellipse cx="478.0" cy="1044.8" rx="4.67" ry="6.35" fill="#f2603e"/><ellipse cx="503.0" cy="1009.9" rx="4.67" ry="6.35" fill="#f43a22"/><ellipse cx="507.5" cy="1020.6" rx="4.67" ry="6.35" fill="#f07c62"/><ellipse cx="513.8" cy="1001.8" rx="4.67" ry="6.35" fill="#ef9079"/><ellipse cx="526.3" cy="997.3" rx="4.67" ry="6.35" fill="#f2603e"/><ellipse cx="538.0" cy="997.3" rx="4.67" ry="6.35" fill="#f07c62"/><ellipse cx="543.4" cy="963.3" rx="4.67" ry="6.35" fill="#f07c62"/><ellipse cx="558.6" cy="966.9" rx="4.67" ry="6.35" fill="#f2603e"/><ellipse cx="560.4" cy="979.4" rx="4.67" ry="6.35" fill="#f43a22"/><ellipse cx="572.9" cy="981.2" rx="4.67" ry="6.35" fill="#ef9079"/><ellipse cx="582.8" cy="986.6" rx="4.67" ry="6.35" fill="#f2603e"/><ellipse cx="579.2" cy="993.8" rx="4.67" ry="6.35" fill="#f07c62"/><ellipse cx="572.0" cy="1001.8" rx="4.67" ry="6.35" fill="#f07c62"/><ellipse cx="580.1" cy="1009.0" rx="4.67" ry="6.35" fill="#f43a22"/><ellipse cx="602.5" cy="1015.3" rx="4.67" ry="6.35" fill="#f43a22"/><ellipse cx="615.9" cy="1003.6" rx="4.67" ry="6.35" fill="#f43a22"/><ellipse cx="645.5" cy="1024.2" rx="4.67" ry="6.35" fill="#f2603e"/><ellipse cx="566.7" cy="1036.8" rx="4.67" ry="6.35" fill="#f2603e"/><ellipse cx="613.3" cy="1049.3" rx="4.67" ry="6.35" fill="#f2603e"/><ellipse cx="520.1" cy="1057.4" rx="4.67" ry="6.35" fill="#f2603e"/><ellipse cx="495.0" cy="1068.1" rx="4.67" ry="6.35" fill="#f2603e"/><ellipse cx="579.2" cy="1077.1" rx="4.67" ry="6.35" fill="#f2603e"/><ellipse cx="572.0" cy="1083.4" rx="4.67" ry="6.35" fill="#ef9079"/><ellipse cx="492.3" cy="1088.7" rx="4.67" ry="6.35" fill="#ef9079"/><ellipse cx="495.0" cy="1092.3" rx="4.67" ry="6.35" fill="#ef9079"/><ellipse cx="547.8" cy="1112.9" rx="4.67" ry="6.35" fill="#f2603e"/><ellipse cx="452.0" cy="1133.5" rx="4.67" ry="6.35" fill="#f2603e"/><ellipse cx="460.9" cy="1130.0" rx="4.67" ry="6.35" fill="#f2603e"/><ellipse cx="473.5" cy="1128.2" rx="4.67" ry="6.35" fill="#f2603e"/><ellipse cx="410.0" cy="1161.8" rx="4.67" ry="6.35" fill="#f2603e"/><ellipse cx="367.0" cy="1179.7" rx="4.67" ry="6.35" fill="#f2603e"/><ellipse cx="369.4" cy="1186.9" rx="4.67" ry="6.35" fill="#f2603e"/><ellipse cx="542.7" cy="1180.9" rx="4.67" ry="6.35" fill="#f2603e"/><ellipse cx="547.4" cy="1178.5" rx="4.67" ry="6.35" fill="#f2603e"/><ellipse cx="585.7" cy="1163.0" rx="4.67" ry="6.35" fill="#f2603e"/><ellipse cx="629.9" cy="1143.9" rx="4.67" ry="6.35" fill="#f2603e"/><ellipse cx="645.4" cy="1214.4" rx="4.67" ry="6.35" fill="#ff0000"/><ellipse cx="653.8" cy="1241.9" rx="4.67" ry="6.35" fill="#f2603e"/><ellipse cx="579.7" cy="1269.3" rx="4.67" ry="6.35" fill="#ff0000"/><path d="M115.5,935.3 V1325.6" fill="none" stroke="#585858" stroke-width="2"/><path d="M114.5,1325.6 H737.8" fill="none" stroke="#3a3a3a" stroke-width="2.2"/><path d="M110.0,1011.3 H115.5" stroke="#555" stroke-width="2"/><path d="M110.0,1110.0 H115.5" stroke="#555" stroke-width="2"/><path d="M110.0,1208.7 H115.5" stroke="#555" stroke-width="2"/><path d="M110.0,1307.4 H115.5" stroke="#555" stroke-width="2"/><path d="M120.2,1325.6 V1332.1" stroke="#555" stroke-width="2"/><path d="M238.1,1325.6 V1332.1" stroke="#555" stroke-width="2"/><path d="M356.0,1325.6 V1332.1" stroke="#555" stroke-width="2"/><path d="M473.9,1325.6 V1332.1" stroke="#555" stroke-width="2"/><path d="M591.8,1325.6 V1332.1" stroke="#555" stroke-width="2"/><path d="M709.7,1325.6 V1332.1" stroke="#555" stroke-width="2"/><path d="M135.8,926.8 L319.3,991.8 L259.1,1103.6 L140.6,1106.5 L121.5,999.4 Z" fill="none" stroke="#5a6079" stroke-width="1.5" stroke-dasharray="3.7 3.6"/><path d="M381.5,987.9 L445.0,1187.4 L539.5,1188.4 L606.8,1201.5 L541.0,1252.0 L533.4,1289.0 L508.3,1314.1 L411.5,1311.8 L262.2,1116.8 Z" fill="none" stroke="#6a9e7a" stroke-width="1.5" stroke-dasharray="3.7 3.6"/><path d="M430.0,952.5 L687.5,926.5 L752.1,1308.7 L539.5,1305.7 L528.8,1266.0 L608.0,1240.2 L608.0,1169.5 L509.0,1185.3 L425.0,1105.0 Z" fill="none" stroke="#d47886" stroke-width="1.5" stroke-dasharray="3.7 3.6"/><g fill="#bebebe"><ellipse cx="1041.3" cy="976.0" rx="4.97" ry="6.35"/><ellipse cx="1061.4" cy="979.4" rx="4.97" ry="6.35"/><ellipse cx="1069.2" cy="981.3" rx="4.97" ry="6.35"/><ellipse cx="1073.1" cy="986.1" rx="4.97" ry="6.35"/><ellipse cx="1065.3" cy="988.0" rx="4.97" ry="6.35"/><ellipse cx="1088.2" cy="992.8" rx="4.97" ry="6.35"/><ellipse cx="1064.3" cy="1006.1" rx="4.97" ry="6.35"/><ellipse cx="1079.4" cy="1017.6" rx="4.97" ry="6.35"/><ellipse cx="1120.0" cy="967.9" rx="4.97" ry="6.35"/><ellipse cx="1110.2" cy="970.8" rx="4.97" ry="6.35"/><ellipse cx="1103.4" cy="979.4" rx="4.97" ry="6.35"/><ellipse cx="1115.1" cy="979.4" rx="4.97" ry="6.35"/><ellipse cx="1122.9" cy="978.4" rx="4.97" ry="6.35"/><ellipse cx="1104.4" cy="987.0" rx="4.97" ry="6.35"/><ellipse cx="1116.1" cy="988.9" rx="4.97" ry="6.35"/><ellipse cx="1126.8" cy="987.0" rx="4.97" ry="6.35"/><ellipse cx="1137.6" cy="988.9" rx="4.97" ry="6.35"/><ellipse cx="1144.4" cy="984.2" rx="4.97" ry="6.35"/><ellipse cx="1144.4" cy="991.8" rx="4.97" ry="6.35"/><ellipse cx="1104.4" cy="1002.3" rx="4.97" ry="6.35"/><ellipse cx="1112.2" cy="1002.3" rx="4.97" ry="6.35"/><ellipse cx="1121.0" cy="1000.4" rx="4.97" ry="6.35"/><ellipse cx="1094.6" cy="1010.0" rx="4.97" ry="6.35"/><ellipse cx="1103.4" cy="1010.0" rx="4.97" ry="6.35"/><ellipse cx="1123.9" cy="1011.9" rx="4.97" ry="6.35"/><ellipse cx="1100.4" cy="1025.3" rx="4.97" ry="6.35"/><ellipse cx="1107.3" cy="1023.3" rx="4.97" ry="6.35"/><ellipse cx="1129.8" cy="1022.4" rx="4.97" ry="6.35"/><ellipse cx="1136.6" cy="1008.0" rx="4.97" ry="6.35"/><ellipse cx="1165.9" cy="991.8" rx="4.97" ry="6.35"/><ellipse cx="1175.7" cy="1000.4" rx="4.97" ry="6.35"/><ellipse cx="1182.6" cy="1008.0" rx="4.97" ry="6.35"/><ellipse cx="1154.2" cy="1036.7" rx="4.97" ry="6.35"/><ellipse cx="1141.5" cy="1034.8" rx="4.97" ry="6.35"/><ellipse cx="1106.3" cy="1037.7" rx="4.97" ry="6.35"/><ellipse cx="1105.3" cy="1049.1" rx="4.97" ry="6.35"/><ellipse cx="1116.1" cy="1049.1" rx="4.97" ry="6.35"/><ellipse cx="1129.8" cy="1046.3" rx="4.97" ry="6.35"/><ellipse cx="1136.6" cy="1066.4" rx="4.97" ry="6.35"/><ellipse cx="1176.7" cy="1027.2" rx="4.97" ry="6.35"/><ellipse cx="1182.6" cy="1033.9" rx="4.97" ry="6.35"/><ellipse cx="1147.4" cy="1013.8" rx="4.97" ry="6.35"/><ellipse cx="1052.1" cy="984.2" rx="4.97" ry="6.35"/><ellipse cx="1113.2" cy="1014.7" rx="4.97" ry="6.35"/><ellipse cx="1122.9" cy="1036.7" rx="4.97" ry="6.35"/><ellipse cx="1141.5" cy="1026.2" rx="4.97" ry="6.35"/><ellipse cx="1154.2" cy="1004.2" rx="4.97" ry="6.35"/><ellipse cx="1159.1" cy="1021.9" rx="4.97" ry="6.35"/><ellipse cx="1168.4" cy="1007.6" rx="4.97" ry="6.35"/><ellipse cx="1127.8" cy="1056.8" rx="4.97" ry="6.35"/><ellipse cx="1190.3" cy="1001.4" rx="4.97" ry="6.35"/><ellipse cx="1185.4" cy="1025.3" rx="4.97" ry="6.35"/><ellipse cx="1188.4" cy="1041.5" rx="4.97" ry="6.35"/><ellipse cx="1202.0" cy="1002.8" rx="4.97" ry="6.35"/><ellipse cx="1212.8" cy="1008.0" rx="4.97" ry="6.35"/><ellipse cx="1217.7" cy="1020.5" rx="4.97" ry="6.35"/><ellipse cx="1233.3" cy="997.5" rx="4.97" ry="6.35"/><ellipse cx="1249.0" cy="1004.7" rx="4.97" ry="6.35"/><ellipse cx="1246.5" cy="1019.5" rx="4.97" ry="6.35"/><ellipse cx="1270.0" cy="1029.1" rx="4.97" ry="6.35"/><ellipse cx="1314.9" cy="1004.7" rx="4.97" ry="6.35"/><ellipse cx="1304.2" cy="1034.8" rx="4.97" ry="6.35"/><ellipse cx="1308.1" cy="1047.2" rx="4.97" ry="6.35"/><ellipse cx="1333.0" cy="1039.1" rx="4.97" ry="6.35"/><ellipse cx="1271.4" cy="1060.6" rx="4.97" ry="6.35"/><ellipse cx="1276.3" cy="1067.3" rx="4.97" ry="6.35"/><ellipse cx="1301.7" cy="1064.4" rx="4.97" ry="6.35"/><ellipse cx="1234.3" cy="1008.0" rx="4.97" ry="6.35"/><ellipse cx="1202.0" cy="1038.6" rx="4.97" ry="6.35"/><ellipse cx="1296.8" cy="1068.3" rx="4.97" ry="6.35"/><ellipse cx="1342.2" cy="1001.2" rx="4.97" ry="6.35"/><ellipse cx="1344.4" cy="1015.2" rx="4.97" ry="6.35"/><ellipse cx="1368.6" cy="989.4" rx="4.97" ry="6.35"/><ellipse cx="1377.4" cy="986.2" rx="4.97" ry="6.35"/><ellipse cx="1382.9" cy="991.6" rx="4.97" ry="6.35"/><ellipse cx="1377.4" cy="1002.3" rx="4.97" ry="6.35"/><ellipse cx="1381.8" cy="1010.9" rx="4.97" ry="6.35"/><ellipse cx="1384.0" cy="1020.6" rx="4.97" ry="6.35"/><ellipse cx="1379.6" cy="1030.3" rx="4.97" ry="6.35"/><ellipse cx="1386.2" cy="1035.6" rx="4.97" ry="6.35"/><ellipse cx="1393.9" cy="1038.9" rx="4.97" ry="6.35"/><ellipse cx="1395.0" cy="1047.5" rx="4.97" ry="6.35"/><ellipse cx="1391.7" cy="981.9" rx="4.97" ry="6.35"/><ellipse cx="1399.4" cy="984.0" rx="4.97" ry="6.35"/><ellipse cx="1403.8" cy="983.0" rx="4.97" ry="6.35"/><ellipse cx="1395.0" cy="995.9" rx="4.97" ry="6.35"/><ellipse cx="1395.0" cy="1000.2" rx="4.97" ry="6.35"/><ellipse cx="1406.0" cy="990.5" rx="4.97" ry="6.35"/><ellipse cx="1412.6" cy="996.9" rx="4.97" ry="6.35"/><ellipse cx="1417.0" cy="1004.5" rx="4.97" ry="6.35"/><ellipse cx="1422.5" cy="1010.9" rx="4.97" ry="6.35"/><ellipse cx="1425.8" cy="1017.4" rx="4.97" ry="6.35"/><ellipse cx="1428.0" cy="1024.9" rx="4.97" ry="6.35"/><ellipse cx="1397.2" cy="1017.4" rx="4.97" ry="6.35"/><ellipse cx="1403.8" cy="1015.2" rx="4.97" ry="6.35"/><ellipse cx="1406.0" cy="1023.8" rx="4.97" ry="6.35"/><ellipse cx="1406.0" cy="1030.3" rx="4.97" ry="6.35"/><ellipse cx="1419.2" cy="1030.3" rx="4.97" ry="6.35"/><ellipse cx="1423.6" cy="1038.9" rx="4.97" ry="6.35"/><ellipse cx="1408.2" cy="1047.5" rx="4.97" ry="6.35"/><ellipse cx="1413.7" cy="1043.2" rx="4.97" ry="6.35"/><ellipse cx="1434.6" cy="965.8" rx="4.97" ry="6.35"/><ellipse cx="1442.3" cy="962.5" rx="4.97" ry="6.35"/><ellipse cx="1423.6" cy="991.6" rx="4.97" ry="6.35"/><ellipse cx="1432.4" cy="985.1" rx="4.97" ry="6.35"/><ellipse cx="1433.5" cy="993.7" rx="4.97" ry="6.35"/><ellipse cx="1432.4" cy="1004.5" rx="4.97" ry="6.35"/><ellipse cx="1441.2" cy="999.1" rx="4.97" ry="6.35"/><ellipse cx="1444.5" cy="1009.8" rx="4.97" ry="6.35"/><ellipse cx="1441.2" cy="1020.6" rx="4.97" ry="6.35"/><ellipse cx="1436.8" cy="1028.1" rx="4.97" ry="6.35"/><ellipse cx="1434.6" cy="1036.7" rx="4.97" ry="6.35"/><ellipse cx="1443.4" cy="1038.9" rx="4.97" ry="6.35"/><ellipse cx="1447.8" cy="983.0" rx="4.97" ry="6.35"/><ellipse cx="1453.3" cy="980.8" rx="4.97" ry="6.35"/><ellipse cx="1459.9" cy="971.1" rx="4.97" ry="6.35"/><ellipse cx="1464.3" cy="964.7" rx="4.97" ry="6.35"/><ellipse cx="1450.0" cy="995.9" rx="4.97" ry="6.35"/><ellipse cx="1455.5" cy="1002.3" rx="4.97" ry="6.35"/><ellipse cx="1452.2" cy="1015.2" rx="4.97" ry="6.35"/><ellipse cx="1454.4" cy="1034.6" rx="4.97" ry="6.35"/><ellipse cx="1462.1" cy="1034.6" rx="4.97" ry="6.35"/><ellipse cx="1451.1" cy="1046.4" rx="4.97" ry="6.35"/><ellipse cx="1465.4" cy="990.5" rx="4.97" ry="6.35"/><ellipse cx="1473.1" cy="1015.2" rx="4.97" ry="6.35"/><ellipse cx="1473.1" cy="1050.7" rx="4.97" ry="6.35"/><ellipse cx="1472.0" cy="976.5" rx="4.97" ry="6.35"/><ellipse cx="1480.8" cy="967.9" rx="4.97" ry="6.35"/><ellipse cx="1479.7" cy="985.1" rx="4.97" ry="6.35"/><ellipse cx="1485.2" cy="981.9" rx="4.97" ry="6.35"/><ellipse cx="1487.4" cy="995.9" rx="4.97" ry="6.35"/><ellipse cx="1480.8" cy="1002.3" rx="4.97" ry="6.35"/><ellipse cx="1485.2" cy="1010.9" rx="4.97" ry="6.35"/><ellipse cx="1483.0" cy="1023.8" rx="4.97" ry="6.35"/><ellipse cx="1487.4" cy="1032.4" rx="4.97" ry="6.35"/><ellipse cx="1489.6" cy="1043.2" rx="4.97" ry="6.35"/><ellipse cx="1497.3" cy="976.5" rx="4.97" ry="6.35"/><ellipse cx="1496.2" cy="985.1" rx="4.97" ry="6.35"/><ellipse cx="1506.1" cy="989.4" rx="4.97" ry="6.35"/><ellipse cx="1505.0" cy="1000.2" rx="4.97" ry="6.35"/><ellipse cx="1501.7" cy="1010.9" rx="4.97" ry="6.35"/><ellipse cx="1495.1" cy="1005.5" rx="4.97" ry="6.35"/><ellipse cx="1500.6" cy="1030.3" rx="4.97" ry="6.35"/><ellipse cx="1509.4" cy="1023.8" rx="4.97" ry="6.35"/><ellipse cx="1507.2" cy="1039.9" rx="4.97" ry="6.35"/><ellipse cx="1498.4" cy="1053.9" rx="4.97" ry="6.35"/><ellipse cx="1374.1" cy="1061.5" rx="4.97" ry="6.35"/><ellipse cx="1428.0" cy="1052.9" rx="4.97" ry="6.35"/><ellipse cx="1425.8" cy="1061.5" rx="4.97" ry="6.35"/><ellipse cx="1439.0" cy="1058.2" rx="4.97" ry="6.35"/><ellipse cx="1448.9" cy="1062.5" rx="4.97" ry="6.35"/><ellipse cx="1480.8" cy="1060.4" rx="4.97" ry="6.35"/><ellipse cx="1412.6" cy="1067.9" rx="4.97" ry="6.35"/><ellipse cx="1358.7" cy="995.9" rx="4.97" ry="6.35"/><ellipse cx="1357.1" cy="1015.2" rx="4.97" ry="6.35"/><ellipse cx="1517.5" cy="981.2" rx="4.97" ry="6.35"/><ellipse cx="1526.7" cy="983.9" rx="4.97" ry="6.35"/><ellipse cx="1535.0" cy="984.8" rx="4.97" ry="6.35"/><ellipse cx="1521.2" cy="993.7" rx="4.97" ry="6.35"/><ellipse cx="1534.0" cy="993.7" rx="4.97" ry="6.35"/><ellipse cx="1539.5" cy="1000.9" rx="4.97" ry="6.35"/><ellipse cx="1542.3" cy="1008.9" rx="4.97" ry="6.35"/><ellipse cx="1552.4" cy="1004.5" rx="4.97" ry="6.35"/><ellipse cx="1558.8" cy="1006.3" rx="4.97" ry="6.35"/><ellipse cx="1554.2" cy="1015.2" rx="4.97" ry="6.35"/><ellipse cx="1552.4" cy="1022.4" rx="4.97" ry="6.35"/><ellipse cx="1513.9" cy="1004.5" rx="4.97" ry="6.35"/><ellipse cx="1524.9" cy="1008.9" rx="4.97" ry="6.35"/><ellipse cx="1519.4" cy="1017.0" rx="4.97" ry="6.35"/><ellipse cx="1526.7" cy="1018.8" rx="4.97" ry="6.35"/><ellipse cx="1513.0" cy="1024.2" rx="4.97" ry="6.35"/><ellipse cx="1516.6" cy="1029.6" rx="4.97" ry="6.35"/><ellipse cx="1525.8" cy="1033.1" rx="4.97" ry="6.35"/><ellipse cx="1546.0" cy="1027.8" rx="4.97" ry="6.35"/><ellipse cx="1542.3" cy="1036.7" rx="4.97" ry="6.35"/><ellipse cx="1541.4" cy="1045.7" rx="4.97" ry="6.35"/><ellipse cx="1552.4" cy="1031.3" rx="4.97" ry="6.35"/><ellipse cx="1557.9" cy="1033.1" rx="4.97" ry="6.35"/><ellipse cx="1564.3" cy="1040.3" rx="4.97" ry="6.35"/><ellipse cx="1572.5" cy="1025.1" rx="4.97" ry="6.35"/><ellipse cx="1574.4" cy="1033.1" rx="4.97" ry="6.35"/><ellipse cx="1577.1" cy="1043.9" rx="4.97" ry="6.35"/><ellipse cx="1537.7" cy="1054.6" rx="4.97" ry="6.35"/><ellipse cx="1552.4" cy="1052.0" rx="4.97" ry="6.35"/><ellipse cx="1524.9" cy="1050.2" rx="4.97" ry="6.35"/><ellipse cx="1515.7" cy="1055.5" rx="4.97" ry="6.35"/><ellipse cx="1516.6" cy="1066.3" rx="4.97" ry="6.35"/><ellipse cx="1548.7" cy="1064.5" rx="4.97" ry="6.35"/><ellipse cx="1554.2" cy="1058.2" rx="4.97" ry="6.35"/><ellipse cx="1567.0" cy="1056.4" rx="4.97" ry="6.35"/><ellipse cx="1574.4" cy="1055.5" rx="4.97" ry="6.35"/><ellipse cx="1567.0" cy="1067.2" rx="4.97" ry="6.35"/><ellipse cx="1188.3" cy="1079.7" rx="4.97" ry="6.35"/><ellipse cx="1196.0" cy="1087.2" rx="4.97" ry="6.35"/><ellipse cx="1202.6" cy="1094.7" rx="4.97" ry="6.35"/><ellipse cx="1270.9" cy="1076.8" rx="4.97" ry="6.35"/><ellipse cx="1273.1" cy="1082.2" rx="4.97" ry="6.35"/><ellipse cx="1285.7" cy="1077.4" rx="4.97" ry="6.35"/><ellipse cx="1261.5" cy="1101.0" rx="4.97" ry="6.35"/><ellipse cx="1273.1" cy="1110.2" rx="4.97" ry="6.35"/><ellipse cx="1279.7" cy="1105.9" rx="4.97" ry="6.35"/><ellipse cx="1287.4" cy="1110.2" rx="4.97" ry="6.35"/><ellipse cx="1288.5" cy="1094.0" rx="4.97" ry="6.35"/><ellipse cx="1286.3" cy="1101.6" rx="4.97" ry="6.35"/><ellipse cx="1292.9" cy="1105.9" rx="4.97" ry="6.35"/><ellipse cx="1307.2" cy="1110.7" rx="4.97" ry="6.35"/><ellipse cx="1373.1" cy="1105.9" rx="4.97" ry="6.35"/><ellipse cx="1374.2" cy="1063.9" rx="4.97" ry="6.35"/><ellipse cx="1229.1" cy="1131.7" rx="4.97" ry="6.35"/><ellipse cx="1222.5" cy="1133.8" rx="4.97" ry="6.35"/><ellipse cx="1237.9" cy="1139.2" rx="4.97" ry="6.35"/><ellipse cx="1247.8" cy="1139.2" rx="4.97" ry="6.35"/><ellipse cx="1257.1" cy="1129.5" rx="4.97" ry="6.35"/><ellipse cx="1223.0" cy="1147.8" rx="4.97" ry="6.35"/><ellipse cx="1238.4" cy="1153.2" rx="4.97" ry="6.35"/><ellipse cx="1223.6" cy="1163.9" rx="4.97" ry="6.35"/><ellipse cx="1254.4" cy="1149.9" rx="4.97" ry="6.35"/><ellipse cx="1259.9" cy="1144.6" rx="4.97" ry="6.35"/><ellipse cx="1267.6" cy="1138.1" rx="4.97" ry="6.35"/><ellipse cx="1284.1" cy="1142.4" rx="4.97" ry="6.35"/><ellipse cx="1270.9" cy="1155.3" rx="4.97" ry="6.35"/><ellipse cx="1283.0" cy="1152.1" rx="4.97" ry="6.35"/><ellipse cx="1267.6" cy="1162.9" rx="4.97" ry="6.35"/><ellipse cx="1278.6" cy="1162.9" rx="4.97" ry="6.35"/><ellipse cx="1266.5" cy="1172.5" rx="4.97" ry="6.35"/><ellipse cx="1279.7" cy="1174.7" rx="4.97" ry="6.35"/><ellipse cx="1299.5" cy="1171.5" rx="4.97" ry="6.35"/><ellipse cx="1295.1" cy="1176.8" rx="4.97" ry="6.35"/><ellipse cx="1324.8" cy="1142.4" rx="4.97" ry="6.35"/><ellipse cx="1318.2" cy="1152.1" rx="4.97" ry="6.35"/><ellipse cx="1328.1" cy="1149.9" rx="4.97" ry="6.35"/><ellipse cx="1333.5" cy="1155.3" rx="4.97" ry="6.35"/><ellipse cx="1322.6" cy="1165.0" rx="4.97" ry="6.35"/><ellipse cx="1330.3" cy="1176.8" rx="4.97" ry="6.35"/><ellipse cx="1339.0" cy="1138.1" rx="4.97" ry="6.35"/><ellipse cx="1345.6" cy="1128.4" rx="4.97" ry="6.35"/><ellipse cx="1350.0" cy="1134.9" rx="4.97" ry="6.35"/><ellipse cx="1358.8" cy="1125.2" rx="4.97" ry="6.35"/><ellipse cx="1366.5" cy="1137.0" rx="4.97" ry="6.35"/><ellipse cx="1374.2" cy="1133.8" rx="4.97" ry="6.35"/><ellipse cx="1406.2" cy="1076.8" rx="4.97" ry="6.35"/><ellipse cx="1433.7" cy="1068.2" rx="4.97" ry="6.35"/><ellipse cx="1456.8" cy="1069.3" rx="4.97" ry="6.35"/><ellipse cx="1471.1" cy="1073.6" rx="4.97" ry="6.35"/><ellipse cx="1461.2" cy="1084.4" rx="4.97" ry="6.35"/><ellipse cx="1437.0" cy="1088.1" rx="4.97" ry="6.35"/><ellipse cx="1481.0" cy="1063.9" rx="4.97" ry="6.35"/><ellipse cx="1485.4" cy="1072.5" rx="4.97" ry="6.35"/><ellipse cx="1482.1" cy="1085.4" rx="4.97" ry="6.35"/><ellipse cx="1494.2" cy="1086.5" rx="4.97" ry="6.35"/><ellipse cx="1501.9" cy="1079.0" rx="4.97" ry="6.35"/><ellipse cx="1509.6" cy="1084.4" rx="4.97" ry="6.35"/><ellipse cx="1508.5" cy="1094.0" rx="4.97" ry="6.35"/><ellipse cx="1515.1" cy="1091.9" rx="4.97" ry="6.35"/><ellipse cx="1516.2" cy="1069.3" rx="4.97" ry="6.35"/><ellipse cx="1517.3" cy="1073.6" rx="4.97" ry="6.35"/><ellipse cx="1528.3" cy="1074.7" rx="4.97" ry="6.35"/><ellipse cx="1528.3" cy="1084.4" rx="4.97" ry="6.35"/><ellipse cx="1548.1" cy="1066.1" rx="4.97" ry="6.35"/><ellipse cx="1527.2" cy="1103.2" rx="4.97" ry="6.35"/><ellipse cx="1542.6" cy="1111.2" rx="4.97" ry="6.35"/><ellipse cx="1549.2" cy="1120.9" rx="4.97" ry="6.35"/><ellipse cx="1373.2" cy="1105.9" rx="4.97" ry="6.35"/><ellipse cx="1394.1" cy="1102.6" rx="4.97" ry="6.35"/><ellipse cx="1406.2" cy="1090.8" rx="4.97" ry="6.35"/><ellipse cx="1413.9" cy="1093.0" rx="4.97" ry="6.35"/><ellipse cx="1408.4" cy="1098.3" rx="4.97" ry="6.35"/><ellipse cx="1420.5" cy="1103.7" rx="4.97" ry="6.35"/><ellipse cx="1416.1" cy="1106.9" rx="4.97" ry="6.35"/><ellipse cx="1397.4" cy="1114.5" rx="4.97" ry="6.35"/><ellipse cx="1397.4" cy="1125.2" rx="4.97" ry="6.35"/><ellipse cx="1389.7" cy="1131.7" rx="4.97" ry="6.35"/><ellipse cx="1376.5" cy="1133.8" rx="4.97" ry="6.35"/><ellipse cx="1371.0" cy="1142.4" rx="4.97" ry="6.35"/><ellipse cx="1402.9" cy="1136.0" rx="4.97" ry="6.35"/><ellipse cx="1408.4" cy="1138.1" rx="4.97" ry="6.35"/><ellipse cx="1418.3" cy="1134.9" rx="4.97" ry="6.35"/><ellipse cx="1438.1" cy="1120.9" rx="4.97" ry="6.35"/><ellipse cx="1435.4" cy="1132.7" rx="4.97" ry="6.35"/><ellipse cx="1468.9" cy="1115.5" rx="4.97" ry="6.35"/><ellipse cx="1475.5" cy="1142.4" rx="4.97" ry="6.35"/><ellipse cx="1429.3" cy="1156.4" rx="4.97" ry="6.35"/><ellipse cx="1438.1" cy="1162.9" rx="4.97" ry="6.35"/><ellipse cx="1444.7" cy="1168.2" rx="4.97" ry="6.35"/><ellipse cx="1453.5" cy="1169.3" rx="4.97" ry="6.35"/><ellipse cx="1455.7" cy="1176.8" rx="4.97" ry="6.35"/><ellipse cx="1466.7" cy="1179.0" rx="4.97" ry="6.35"/><ellipse cx="1509.0" cy="1165.0" rx="4.97" ry="6.35"/><ellipse cx="1507.4" cy="1174.7" rx="4.97" ry="6.35"/><ellipse cx="1523.9" cy="1160.7" rx="4.97" ry="6.35"/><ellipse cx="1541.5" cy="1149.9" rx="4.97" ry="6.35"/><ellipse cx="1544.8" cy="1157.5" rx="4.97" ry="6.35"/><ellipse cx="1538.2" cy="1162.9" rx="4.97" ry="6.35"/><ellipse cx="1543.7" cy="1177.9" rx="4.97" ry="6.35"/><ellipse cx="1523.9" cy="1177.9" rx="4.97" ry="6.35"/><ellipse cx="1383.1" cy="1119.8" rx="4.97" ry="6.35"/><ellipse cx="1556.6" cy="1071.6" rx="4.97" ry="6.35"/><ellipse cx="1572.9" cy="1065.7" rx="4.97" ry="6.35"/><ellipse cx="1566.9" cy="1076.6" rx="4.97" ry="6.35"/><ellipse cx="1561.8" cy="1089.2" rx="4.97" ry="6.35"/><ellipse cx="1554.9" cy="1100.1" rx="4.97" ry="6.35"/><ellipse cx="1559.2" cy="1124.4" rx="4.97" ry="6.35"/><ellipse cx="1556.6" cy="1132.8" rx="4.97" ry="6.35"/><ellipse cx="1574.6" cy="1139.5" rx="4.97" ry="6.35"/><ellipse cx="1554.9" cy="1147.0" rx="4.97" ry="6.35"/><ellipse cx="1563.5" cy="1145.3" rx="4.97" ry="6.35"/><ellipse cx="1566.9" cy="1152.9" rx="4.97" ry="6.35"/><ellipse cx="1566.1" cy="1159.6" rx="4.97" ry="6.35"/><ellipse cx="1578.1" cy="1158.7" rx="4.97" ry="6.35"/><ellipse cx="1596.9" cy="1174.7" rx="4.97" ry="6.35"/><ellipse cx="1588.4" cy="1178.0" rx="4.97" ry="6.35"/><ellipse cx="1545.5" cy="1178.0" rx="4.97" ry="6.35"/><ellipse cx="1280.4" cy="1184.7" rx="4.97" ry="6.35"/><ellipse cx="1279.3" cy="1192.2" rx="4.97" ry="6.35"/><ellipse cx="1307.9" cy="1185.8" rx="4.97" ry="6.35"/><ellipse cx="1317.8" cy="1190.1" rx="4.97" ry="6.35"/><ellipse cx="1324.4" cy="1196.5" rx="4.97" ry="6.35"/><ellipse cx="1333.2" cy="1195.4" rx="4.97" ry="6.35"/><ellipse cx="1325.5" cy="1183.6" rx="4.97" ry="6.35"/><ellipse cx="1298.0" cy="1196.5" rx="4.97" ry="6.35"/><ellipse cx="1295.8" cy="1205.1" rx="4.97" ry="6.35"/><ellipse cx="1304.6" cy="1203.0" rx="4.97" ry="6.35"/><ellipse cx="1291.4" cy="1216.9" rx="4.97" ry="6.35"/><ellipse cx="1298.0" cy="1219.1" rx="4.97" ry="6.35"/><ellipse cx="1299.1" cy="1230.9" rx="4.97" ry="6.35"/><ellipse cx="1310.1" cy="1221.2" rx="4.97" ry="6.35"/><ellipse cx="1309.0" cy="1229.8" rx="4.97" ry="6.35"/><ellipse cx="1306.8" cy="1243.8" rx="4.97" ry="6.35"/><ellipse cx="1323.3" cy="1240.6" rx="4.97" ry="6.35"/><ellipse cx="1327.7" cy="1250.3" rx="4.97" ry="6.35"/><ellipse cx="1317.8" cy="1267.5" rx="4.97" ry="6.35"/><ellipse cx="1346.4" cy="1205.1" rx="4.97" ry="6.35"/><ellipse cx="1351.9" cy="1208.3" rx="4.97" ry="6.35"/><ellipse cx="1344.2" cy="1214.8" rx="4.97" ry="6.35"/><ellipse cx="1339.8" cy="1221.2" rx="4.97" ry="6.35"/><ellipse cx="1358.5" cy="1189.0" rx="4.97" ry="6.35"/><ellipse cx="1358.5" cy="1221.2" rx="4.97" ry="6.35"/><ellipse cx="1364.0" cy="1225.5" rx="4.97" ry="6.35"/><ellipse cx="1358.5" cy="1235.2" rx="4.97" ry="6.35"/><ellipse cx="1368.4" cy="1227.7" rx="4.97" ry="6.35"/><ellipse cx="1339.8" cy="1252.4" rx="4.97" ry="6.35"/><ellipse cx="1339.8" cy="1259.9" rx="4.97" ry="6.35"/><ellipse cx="1347.5" cy="1264.2" rx="4.97" ry="6.35"/><ellipse cx="1356.3" cy="1267.5" rx="4.97" ry="6.35"/><ellipse cx="1357.4" cy="1250.3" rx="4.97" ry="6.35"/><ellipse cx="1366.2" cy="1246.0" rx="4.97" ry="6.35"/><ellipse cx="1364.0" cy="1256.7" rx="4.97" ry="6.35"/><ellipse cx="1345.3" cy="1278.2" rx="4.97" ry="6.35"/><ellipse cx="1347.5" cy="1284.7" rx="4.97" ry="6.35"/><ellipse cx="1365.1" cy="1284.7" rx="4.97" ry="6.35"/><ellipse cx="1423.5" cy="1185.8" rx="4.97" ry="6.35"/><ellipse cx="1443.3" cy="1187.9" rx="4.97" ry="6.35"/><ellipse cx="1451.0" cy="1189.0" rx="4.97" ry="6.35"/><ellipse cx="1466.4" cy="1181.5" rx="4.97" ry="6.35"/><ellipse cx="1463.1" cy="1185.8" rx="4.97" ry="6.35"/><ellipse cx="1500.5" cy="1191.1" rx="4.97" ry="6.35"/><ellipse cx="1541.2" cy="1181.5" rx="4.97" ry="6.35"/><ellipse cx="1541.2" cy="1197.6" rx="4.97" ry="6.35"/><ellipse cx="1419.1" cy="1211.6" rx="4.97" ry="6.35"/><ellipse cx="1447.7" cy="1208.3" rx="4.97" ry="6.35"/><ellipse cx="1465.8" cy="1208.3" rx="4.97" ry="6.35"/><ellipse cx="1477.4" cy="1204.0" rx="4.97" ry="6.35"/><ellipse cx="1387.2" cy="1214.8" rx="4.97" ry="6.35"/><ellipse cx="1385.0" cy="1225.5" rx="4.97" ry="6.35"/><ellipse cx="1374.0" cy="1230.9" rx="4.97" ry="6.35"/><ellipse cx="1374.0" cy="1246.0" rx="4.97" ry="6.35"/><ellipse cx="1414.7" cy="1233.1" rx="4.97" ry="6.35"/><ellipse cx="1422.4" cy="1237.4" rx="4.97" ry="6.35"/><ellipse cx="1430.1" cy="1227.7" rx="4.97" ry="6.35"/><ellipse cx="1426.8" cy="1235.2" rx="4.97" ry="6.35"/><ellipse cx="1399.3" cy="1241.7" rx="4.97" ry="6.35"/><ellipse cx="1400.4" cy="1252.4" rx="4.97" ry="6.35"/><ellipse cx="1412.5" cy="1248.1" rx="4.97" ry="6.35"/><ellipse cx="1427.9" cy="1251.3" rx="4.97" ry="6.35"/><ellipse cx="1465.3" cy="1228.8" rx="4.97" ry="6.35"/><ellipse cx="1463.1" cy="1237.4" rx="4.97" ry="6.35"/><ellipse cx="1460.9" cy="1246.0" rx="4.97" ry="6.35"/><ellipse cx="1447.7" cy="1250.3" rx="4.97" ry="6.35"/><ellipse cx="1460.9" cy="1254.6" rx="4.97" ry="6.35"/><ellipse cx="1454.3" cy="1259.9" rx="4.97" ry="6.35"/><ellipse cx="1476.3" cy="1255.6" rx="4.97" ry="6.35"/><ellipse cx="1433.4" cy="1263.2" rx="4.97" ry="6.35"/><ellipse cx="1434.5" cy="1272.9" rx="4.97" ry="6.35"/><ellipse cx="1418.0" cy="1278.2" rx="4.97" ry="6.35"/><ellipse cx="1425.7" cy="1276.1" rx="4.97" ry="6.35"/><ellipse cx="1388.3" cy="1263.2" rx="4.97" ry="6.35"/><ellipse cx="1403.7" cy="1265.3" rx="4.97" ry="6.35"/><ellipse cx="1392.7" cy="1273.9" rx="4.97" ry="6.35"/><ellipse cx="1401.5" cy="1278.2" rx="4.97" ry="6.35"/><ellipse cx="1394.9" cy="1284.7" rx="4.97" ry="6.35"/><ellipse cx="1379.5" cy="1271.8" rx="4.97" ry="6.35"/><ellipse cx="1372.9" cy="1265.3" rx="4.97" ry="6.35"/><ellipse cx="1365.2" cy="1283.6" rx="4.97" ry="6.35"/><ellipse cx="1374.0" cy="1289.0" rx="4.97" ry="6.35"/><ellipse cx="1369.6" cy="1278.2" rx="4.97" ry="6.35"/><ellipse cx="1445.5" cy="1273.9" rx="4.97" ry="6.35"/><ellipse cx="1441.1" cy="1277.2" rx="4.97" ry="6.35"/><ellipse cx="1463.1" cy="1272.9" rx="4.97" ry="6.35"/><ellipse cx="1469.7" cy="1267.5" rx="4.97" ry="6.35"/><ellipse cx="1475.2" cy="1273.9" rx="4.97" ry="6.35"/><ellipse cx="1462.0" cy="1283.6" rx="4.97" ry="6.35"/><ellipse cx="1469.7" cy="1284.7" rx="4.97" ry="6.35"/><ellipse cx="1486.2" cy="1267.5" rx="4.97" ry="6.35"/><ellipse cx="1489.5" cy="1278.2" rx="4.97" ry="6.35"/><ellipse cx="1495.0" cy="1270.7" rx="4.97" ry="6.35"/><ellipse cx="1501.6" cy="1273.9" rx="4.97" ry="6.35"/><ellipse cx="1500.5" cy="1246.0" rx="4.97" ry="6.35"/><ellipse cx="1509.3" cy="1243.8" rx="4.97" ry="6.35"/><ellipse cx="1519.2" cy="1242.7" rx="4.97" ry="6.35"/><ellipse cx="1515.9" cy="1262.1" rx="4.97" ry="6.35"/><ellipse cx="1514.8" cy="1273.9" rx="4.97" ry="6.35"/><ellipse cx="1535.7" cy="1235.2" rx="4.97" ry="6.35"/><ellipse cx="1532.4" cy="1256.7" rx="4.97" ry="6.35"/><ellipse cx="1540.1" cy="1248.1" rx="4.97" ry="6.35"/><ellipse cx="1541.2" cy="1272.9" rx="4.97" ry="6.35"/><ellipse cx="1576.3" cy="1190.7" rx="4.97" ry="6.35"/><ellipse cx="1589.3" cy="1188.9" rx="4.97" ry="6.35"/><ellipse cx="1589.3" cy="1196.1" rx="4.97" ry="6.35"/><ellipse cx="1598.5" cy="1187.0" rx="4.97" ry="6.35"/><ellipse cx="1601.3" cy="1197.9" rx="4.97" ry="6.35"/><ellipse cx="1598.5" cy="1207.0" rx="4.97" ry="6.35"/><ellipse cx="1593.0" cy="1213.4" rx="4.97" ry="6.35"/><ellipse cx="1585.5" cy="1214.3" rx="4.97" ry="6.35"/><ellipse cx="1555.8" cy="1205.2" rx="4.97" ry="6.35"/><ellipse cx="1567.9" cy="1205.2" rx="4.97" ry="6.35"/><ellipse cx="1574.4" cy="1209.7" rx="4.97" ry="6.35"/><ellipse cx="1564.2" cy="1216.1" rx="4.97" ry="6.35"/><ellipse cx="1572.6" cy="1216.1" rx="4.97" ry="6.35"/><ellipse cx="1580.0" cy="1217.9" rx="4.97" ry="6.35"/><ellipse cx="1587.4" cy="1217.9" rx="4.97" ry="6.35"/><ellipse cx="1596.7" cy="1216.1" rx="4.97" ry="6.35"/><ellipse cx="1578.1" cy="1223.3" rx="4.97" ry="6.35"/><ellipse cx="1568.8" cy="1228.8" rx="4.97" ry="6.35"/><ellipse cx="1584.6" cy="1227.0" rx="4.97" ry="6.35"/><ellipse cx="1610.6" cy="1213.4" rx="4.97" ry="6.35"/><ellipse cx="1618.0" cy="1221.5" rx="4.97" ry="6.35"/><ellipse cx="1611.5" cy="1223.3" rx="4.97" ry="6.35"/><ellipse cx="1614.3" cy="1233.3" rx="4.97" ry="6.35"/><ellipse cx="1601.3" cy="1234.2" rx="4.97" ry="6.35"/><ellipse cx="1552.1" cy="1224.3" rx="4.97" ry="6.35"/><ellipse cx="1546.6" cy="1233.3" rx="4.97" ry="6.35"/><ellipse cx="1536.3" cy="1234.2" rx="4.97" ry="6.35"/><ellipse cx="1540.1" cy="1243.3" rx="4.97" ry="6.35"/><ellipse cx="1536.3" cy="1250.6" rx="4.97" ry="6.35"/><ellipse cx="1539.1" cy="1257.8" rx="4.97" ry="6.35"/><ellipse cx="1535.4" cy="1264.2" rx="4.97" ry="6.35"/><ellipse cx="1554.0" cy="1245.1" rx="4.97" ry="6.35"/><ellipse cx="1554.9" cy="1254.2" rx="4.97" ry="6.35"/><ellipse cx="1562.3" cy="1250.6" rx="4.97" ry="6.35"/><ellipse cx="1568.8" cy="1239.7" rx="4.97" ry="6.35"/><ellipse cx="1577.2" cy="1236.1" rx="4.97" ry="6.35"/><ellipse cx="1585.5" cy="1237.9" rx="4.97" ry="6.35"/><ellipse cx="1581.8" cy="1243.3" rx="4.97" ry="6.35"/><ellipse cx="1589.3" cy="1247.9" rx="4.97" ry="6.35"/><ellipse cx="1572.6" cy="1250.6" rx="4.97" ry="6.35"/><ellipse cx="1589.3" cy="1257.8" rx="4.97" ry="6.35"/><ellipse cx="1568.8" cy="1259.7" rx="4.97" ry="6.35"/><ellipse cx="1576.3" cy="1257.8" rx="4.97" ry="6.35"/><ellipse cx="1572.6" cy="1266.0" rx="4.97" ry="6.35"/><ellipse cx="1554.9" cy="1267.8" rx="4.97" ry="6.35"/><ellipse cx="1554.0" cy="1276.9" rx="4.97" ry="6.35"/><ellipse cx="1568.8" cy="1277.8" rx="4.97" ry="6.35"/><ellipse cx="1577.2" cy="1274.2" rx="4.97" ry="6.35"/><ellipse cx="1541.9" cy="1273.3" rx="4.97" ry="6.35"/><ellipse cx="1047.7" cy="978.4" rx="4.97" ry="6.35"/><ellipse cx="1110.2" cy="978.4" rx="4.97" ry="6.35"/><ellipse cx="1121.0" cy="984.2" rx="4.97" ry="6.35"/><ellipse cx="1110.2" cy="991.8" rx="4.97" ry="6.35"/><ellipse cx="1131.7" cy="995.6" rx="4.97" ry="6.35"/><ellipse cx="1116.1" cy="1008.0" rx="4.97" ry="6.35"/><ellipse cx="1113.2" cy="1041.5" rx="4.97" ry="6.35"/><ellipse cx="1120.0" cy="1055.8" rx="4.97" ry="6.35"/><ellipse cx="1148.3" cy="1031.9" rx="4.97" ry="6.35"/><ellipse cx="1171.8" cy="1022.4" rx="4.97" ry="6.35"/><ellipse cx="1382.0" cy="992.1" rx="4.97" ry="6.35"/><ellipse cx="1378.1" cy="1005.9" rx="4.97" ry="6.35"/><ellipse cx="1384.5" cy="1010.9" rx="4.97" ry="6.35"/><ellipse cx="1382.0" cy="1026.0" rx="4.97" ry="6.35"/><ellipse cx="1388.4" cy="1032.2" rx="4.97" ry="6.35"/><ellipse cx="1398.6" cy="1023.5" rx="4.97" ry="6.35"/><ellipse cx="1403.8" cy="1028.5" rx="4.97" ry="6.35"/><ellipse cx="1407.6" cy="1026.0" rx="4.97" ry="6.35"/><ellipse cx="1397.4" cy="1000.9" rx="4.97" ry="6.35"/><ellipse cx="1402.5" cy="992.1" rx="4.97" ry="6.35"/><ellipse cx="1410.2" cy="998.4" rx="4.97" ry="6.35"/><ellipse cx="1416.6" cy="1008.4" rx="4.97" ry="6.35"/><ellipse cx="1419.2" cy="1018.4" rx="4.97" ry="6.35"/><ellipse cx="1424.3" cy="1023.5" rx="4.97" ry="6.35"/><ellipse cx="1429.4" cy="1026.0" rx="4.97" ry="6.35"/><ellipse cx="1434.6" cy="1031.0" rx="4.97" ry="6.35"/><ellipse cx="1442.3" cy="1026.0" rx="4.97" ry="6.35"/><ellipse cx="1444.8" cy="1013.4" rx="4.97" ry="6.35"/><ellipse cx="1435.8" cy="1003.4" rx="4.97" ry="6.35"/><ellipse cx="1450.0" cy="1003.4" rx="4.97" ry="6.35"/><ellipse cx="1429.4" cy="1013.4" rx="4.97" ry="6.35"/><ellipse cx="1423.0" cy="1038.5" rx="4.97" ry="6.35"/><ellipse cx="1437.1" cy="1038.5" rx="4.97" ry="6.35"/><ellipse cx="1447.4" cy="1038.5" rx="4.97" ry="6.35"/><ellipse cx="1432.0" cy="1061.1" rx="4.97" ry="6.35"/><ellipse cx="1442.3" cy="1066.1" rx="4.97" ry="6.35"/><ellipse cx="1450.0" cy="1058.6" rx="4.97" ry="6.35"/><ellipse cx="1410.2" cy="1071.1" rx="4.97" ry="6.35"/><ellipse cx="1343.5" cy="1008.4" rx="4.97" ry="6.35"/><ellipse cx="1454.4" cy="998.4" rx="4.97" ry="6.35"/><ellipse cx="1451.8" cy="1008.4" rx="4.97" ry="6.35"/><ellipse cx="1446.7" cy="1021.0" rx="4.97" ry="6.35"/><ellipse cx="1456.9" cy="1015.9" rx="4.97" ry="6.35"/><ellipse cx="1508.2" cy="1005.9" rx="4.97" ry="6.35"/><ellipse cx="1518.5" cy="1003.4" rx="4.97" ry="6.35"/><ellipse cx="1531.3" cy="1003.4" rx="4.97" ry="6.35"/><ellipse cx="1537.7" cy="1000.9" rx="4.97" ry="6.35"/><ellipse cx="1521.1" cy="1021.0" rx="4.97" ry="6.35"/><ellipse cx="1541.6" cy="1038.5" rx="4.97" ry="6.35"/><ellipse cx="1544.2" cy="1051.1" rx="4.97" ry="6.35"/><ellipse cx="1550.6" cy="1046.0" rx="4.97" ry="6.35"/><ellipse cx="1554.4" cy="1032.2" rx="4.97" ry="6.35"/><ellipse cx="1557.0" cy="1063.6" rx="4.97" ry="6.35"/><ellipse cx="1563.4" cy="1063.6" rx="4.97" ry="6.35"/><ellipse cx="1569.8" cy="1054.8" rx="4.97" ry="6.35"/><ellipse cx="1574.9" cy="1058.6" rx="4.97" ry="6.35"/><ellipse cx="1496.7" cy="1038.5" rx="4.97" ry="6.35"/><ellipse cx="1510.8" cy="1043.5" rx="4.97" ry="6.35"/><ellipse cx="1499.3" cy="1049.8" rx="4.97" ry="6.35"/><ellipse cx="1262.8" cy="1147.2" rx="4.97" ry="6.35"/><ellipse cx="1273.1" cy="1144.6" rx="4.97" ry="6.35"/><ellipse cx="1274.4" cy="1155.9" rx="4.97" ry="6.35"/><ellipse cx="1270.5" cy="1166.0" rx="4.97" ry="6.35"/><ellipse cx="1275.7" cy="1178.5" rx="4.97" ry="6.35"/><ellipse cx="1283.4" cy="1186.0" rx="4.97" ry="6.35"/><ellipse cx="1268.0" cy="1176.0" rx="4.97" ry="6.35"/><ellipse cx="1260.3" cy="1158.4" rx="4.97" ry="6.35"/><ellipse cx="1324.4" cy="1149.7" rx="4.97" ry="6.35"/><ellipse cx="1330.8" cy="1145.9" rx="4.97" ry="6.35"/><ellipse cx="1380.9" cy="1132.1" rx="4.97" ry="6.35"/><ellipse cx="1391.1" cy="1135.9" rx="4.97" ry="6.35"/><ellipse cx="1375.7" cy="1140.9" rx="4.97" ry="6.35"/><ellipse cx="1397.5" cy="1135.9" rx="4.97" ry="6.35"/><ellipse cx="1343.2" cy="1255.7" rx="4.97" ry="6.35"/><ellipse cx="1354.5" cy="1263.9" rx="4.97" ry="6.35"/><ellipse cx="1365.7" cy="1255.7" rx="4.97" ry="6.35"/><ellipse cx="1348.9" cy="1269.4" rx="4.97" ry="6.35"/><ellipse cx="1360.1" cy="1274.9" rx="4.97" ry="6.35"/><ellipse cx="1377.0" cy="1250.2" rx="4.97" ry="6.35"/><ellipse cx="1368.5" cy="1236.4" rx="4.97" ry="6.35"/><ellipse cx="1382.6" cy="1269.4" rx="4.97" ry="6.35"/><ellipse cx="1396.6" cy="1277.6" rx="4.97" ry="6.35"/><ellipse cx="1455.6" cy="1274.9" rx="4.97" ry="6.35"/><ellipse cx="1466.9" cy="1280.4" rx="4.97" ry="6.35"/><ellipse cx="1483.7" cy="1263.9" rx="4.97" ry="6.35"/><ellipse cx="1495.0" cy="1272.1" rx="4.97" ry="6.35"/><ellipse cx="1506.2" cy="1266.6" rx="4.97" ry="6.35"/><ellipse cx="1509.0" cy="1244.7" rx="4.97" ry="6.35"/><ellipse cx="1534.3" cy="1239.2" rx="4.97" ry="6.35"/><ellipse cx="1539.9" cy="1255.7" rx="4.97" ry="6.35"/><ellipse cx="1551.2" cy="1252.9" rx="4.97" ry="6.35"/><ellipse cx="1562.4" cy="1241.9" rx="4.97" ry="6.35"/><ellipse cx="1579.3" cy="1241.9" rx="4.97" ry="6.35"/><ellipse cx="1584.9" cy="1261.2" rx="4.97" ry="6.35"/><ellipse cx="1573.7" cy="1269.4" rx="4.97" ry="6.35"/><ellipse cx="1559.6" cy="1272.1" rx="4.97" ry="6.35"/><ellipse cx="1551.2" cy="1277.6" rx="4.97" ry="6.35"/><ellipse cx="1568.0" cy="1217.2" rx="4.97" ry="6.35"/><ellipse cx="1584.9" cy="1217.2" rx="4.97" ry="6.35"/><ellipse cx="1593.3" cy="1228.2" rx="4.97" ry="6.35"/><ellipse cx="1579.3" cy="1228.2" rx="4.97" ry="6.35"/><ellipse cx="1298.3" cy="1211.7" rx="4.97" ry="6.35"/><ellipse cx="1303.9" cy="1225.4" rx="4.97" ry="6.35"/><ellipse cx="1416.3" cy="1277.6" rx="4.97" ry="6.35"/><ellipse cx="1427.5" cy="1274.9" rx="4.97" ry="6.35"/><ellipse cx="1129.3" cy="998.6" rx="4.97" ry="6.35"/><ellipse cx="1139.1" cy="1000.5" rx="4.97" ry="6.35"/><ellipse cx="1121.5" cy="994.8" rx="4.97" ry="6.35"/><ellipse cx="1105.9" cy="996.7" rx="4.97" ry="6.35"/><ellipse cx="1098.0" cy="1010.1" rx="4.97" ry="6.35"/><ellipse cx="1129.3" cy="1013.9" rx="4.97" ry="6.35"/><ellipse cx="1113.7" cy="1025.4" rx="4.97" ry="6.35"/><ellipse cx="1121.5" cy="1027.3" rx="4.97" ry="6.35"/><ellipse cx="1100.0" cy="1033.0" rx="4.97" ry="6.35"/><ellipse cx="1109.8" cy="1044.5" rx="4.97" ry="6.35"/><ellipse cx="1121.5" cy="1044.5" rx="4.97" ry="6.35"/><ellipse cx="1133.2" cy="1033.0" rx="4.97" ry="6.35"/><ellipse cx="1148.9" cy="1017.7" rx="4.97" ry="6.35"/><ellipse cx="1160.6" cy="1010.1" rx="4.97" ry="6.35"/><ellipse cx="1174.3" cy="1017.7" rx="4.97" ry="6.35"/><ellipse cx="1188.0" cy="1025.4" rx="4.97" ry="6.35"/><ellipse cx="1191.9" cy="1036.9" rx="4.97" ry="6.35"/><ellipse cx="1164.5" cy="1033.0" rx="4.97" ry="6.35"/><ellipse cx="1129.3" cy="1044.5" rx="4.97" ry="6.35"/><ellipse cx="1148.9" cy="1029.2" rx="4.97" ry="6.35"/><ellipse cx="1113.7" cy="1002.5" rx="4.97" ry="6.35"/><ellipse cx="1137.1" cy="1010.1" rx="4.97" ry="6.35"/><ellipse cx="1503.1" cy="1245.6" rx="4.97" ry="6.35"/><ellipse cx="1512.5" cy="1243.4" rx="4.97" ry="6.35"/><ellipse cx="1522.0" cy="1243.4" rx="4.97" ry="6.35"/><ellipse cx="1507.8" cy="1250.0" rx="4.97" ry="6.35"/><ellipse cx="1519.6" cy="1250.0" rx="4.97" ry="6.35"/><ellipse cx="1343.2" cy="1256.7" rx="4.97" ry="6.35"/><ellipse cx="1355.0" cy="1252.3" rx="4.97" ry="6.35"/><ellipse cx="1359.7" cy="1265.5" rx="4.97" ry="6.35"/><ellipse cx="1350.3" cy="1269.9" rx="4.97" ry="6.35"/><ellipse cx="1369.1" cy="1258.9" rx="4.97" ry="6.35"/><ellipse cx="1378.5" cy="1272.1" rx="4.97" ry="6.35"/><ellipse cx="1387.9" cy="1265.5" rx="4.97" ry="6.35"/></g><ellipse cx="1247.6" cy="1018.9" rx="4.97" ry="6.35" fill="#f2603e"/><ellipse cx="1275.4" cy="1078.9" rx="4.97" ry="6.35" fill="#f07c62"/><ellipse cx="1273.6" cy="1109.4" rx="4.97" ry="6.35" fill="#f2603e"/><ellipse cx="1292.4" cy="1106.7" rx="4.97" ry="6.35" fill="#f2603e"/><ellipse cx="1345.7" cy="1012.6" rx="4.97" ry="6.35" fill="#ef9079"/><ellipse cx="1378.9" cy="987.5" rx="4.97" ry="6.35" fill="#f2603e"/><ellipse cx="1393.2" cy="983.0" rx="4.97" ry="6.35" fill="#f07c62"/><ellipse cx="1386.0" cy="1034.1" rx="4.97" ry="6.35" fill="#ef9079"/><ellipse cx="1395.0" cy="1039.5" rx="4.97" ry="6.35" fill="#f43a22"/><ellipse cx="1407.5" cy="1029.6" rx="4.97" ry="6.35" fill="#f07c62"/><ellipse cx="1408.4" cy="1050.2" rx="4.97" ry="6.35" fill="#f07c62"/><ellipse cx="1419.2" cy="1030.5" rx="4.97" ry="6.35" fill="#f2603e"/><ellipse cx="1423.7" cy="1042.2" rx="4.97" ry="6.35" fill="#f43a22"/><ellipse cx="1424.6" cy="1016.2" rx="4.97" ry="6.35" fill="#ef9079"/><ellipse cx="1433.5" cy="1004.5" rx="4.97" ry="6.35" fill="#f07c62"/><ellipse cx="1438.0" cy="1029.6" rx="4.97" ry="6.35" fill="#f07c62"/><ellipse cx="1442.5" cy="1037.7" rx="4.97" ry="6.35" fill="#f07c62"/><ellipse cx="1447.0" cy="1000.0" rx="4.97" ry="6.35" fill="#f43a22"/><ellipse cx="1448.7" cy="984.8" rx="4.97" ry="6.35" fill="#f07c62"/><ellipse cx="1459.5" cy="1000.9" rx="4.97" ry="6.35" fill="#ef9079"/><ellipse cx="1450.5" cy="1015.3" rx="4.97" ry="6.35" fill="#ef9079"/><ellipse cx="1455.0" cy="1035.0" rx="4.97" ry="6.35" fill="#f43a22"/><ellipse cx="1461.3" cy="972.3" rx="4.97" ry="6.35" fill="#f2603e"/><ellipse cx="1479.2" cy="987.5" rx="4.97" ry="6.35" fill="#ef9079"/><ellipse cx="1484.6" cy="1026.0" rx="4.97" ry="6.35" fill="#f43a22"/><ellipse cx="1489.1" cy="994.7" rx="4.97" ry="6.35" fill="#f07c62"/><ellipse cx="1495.3" cy="1005.4" rx="4.97" ry="6.35" fill="#f07c62"/><ellipse cx="1497.1" cy="984.8" rx="4.97" ry="6.35" fill="#f2603e"/><ellipse cx="1507.0" cy="990.2" rx="4.97" ry="6.35" fill="#f2603e"/><ellipse cx="1490.0" cy="1043.0" rx="4.97" ry="6.35" fill="#f2603e"/><ellipse cx="1504.3" cy="1044.8" rx="4.97" ry="6.35" fill="#f2603e"/><ellipse cx="1515.1" cy="1004.5" rx="4.97" ry="6.35" fill="#f07c62"/><ellipse cx="1516.8" cy="1027.8" rx="4.97" ry="6.35" fill="#f43a22"/><ellipse cx="1551.8" cy="1012.6" rx="4.97" ry="6.35" fill="#f2603e"/><ellipse cx="1551.8" cy="1030.5" rx="4.97" ry="6.35" fill="#f07c62"/><ellipse cx="1546.4" cy="1051.1" rx="4.97" ry="6.35" fill="#ef9079"/><ellipse cx="1517.7" cy="1056.5" rx="4.97" ry="6.35" fill="#f07c62"/><ellipse cx="1517.7" cy="1069.0" rx="4.97" ry="6.35" fill="#ef9079"/><ellipse cx="1529.4" cy="1074.4" rx="4.97" ry="6.35" fill="#f07c62"/><ellipse cx="1529.4" cy="1081.6" rx="4.97" ry="6.35" fill="#f07c62"/><ellipse cx="1570.6" cy="1056.5" rx="4.97" ry="6.35" fill="#ef9079"/><ellipse cx="1572.4" cy="1063.7" rx="4.97" ry="6.35" fill="#ef9079"/><ellipse cx="1567.9" cy="1077.1" rx="4.97" ry="6.35" fill="#f43a22"/><ellipse cx="1556.3" cy="1100.4" rx="4.97" ry="6.35" fill="#f07c62"/><ellipse cx="1543.7" cy="1112.0" rx="4.97" ry="6.35" fill="#f07c62"/><ellipse cx="1438.9" cy="1062.8" rx="4.97" ry="6.35" fill="#f07c62"/><ellipse cx="1407.5" cy="1076.2" rx="4.97" ry="6.35" fill="#f07c62"/><ellipse cx="1472.0" cy="1073.5" rx="4.97" ry="6.35" fill="#f07c62"/><ellipse cx="1484.6" cy="1084.3" rx="4.97" ry="6.35" fill="#ef9079"/><ellipse cx="1507.0" cy="1081.6" rx="4.97" ry="6.35" fill="#ef9079"/><ellipse cx="1509.7" cy="1093.2" rx="4.97" ry="6.35" fill="#f43a22"/><ellipse cx="1405.7" cy="1099.5" rx="4.97" ry="6.35" fill="#ef9079"/><ellipse cx="1403.0" cy="1108.5" rx="4.97" ry="6.35" fill="#ef9079"/><ellipse cx="1421.0" cy="1104.0" rx="4.97" ry="6.35" fill="#f43a22"/><ellipse cx="1438.9" cy="1121.0" rx="4.97" ry="6.35" fill="#f2603e"/><ellipse cx="1387.8" cy="1126.4" rx="4.97" ry="6.35" fill="#f2603e"/><ellipse cx="1395.9" cy="1122.8" rx="4.97" ry="6.35" fill="#f07c62"/><ellipse cx="1402.2" cy="1132.7" rx="4.97" ry="6.35" fill="#f07c62"/><ellipse cx="1451.1" cy="1189.9" rx="4.97" ry="6.35" fill="#f2603e"/><ellipse cx="1555.9" cy="1146.9" rx="4.97" ry="6.35" fill="#f2603e"/><ellipse cx="1564.0" cy="1146.9" rx="4.97" ry="6.35" fill="#ff0000"/><ellipse cx="1567.6" cy="1158.5" rx="4.97" ry="6.35" fill="#f07c62"/><ellipse cx="1579.2" cy="1158.5" rx="4.97" ry="6.35" fill="#f2603e"/><ellipse cx="1586.4" cy="1229.3" rx="4.97" ry="6.35" fill="#ff0000"/><ellipse cx="1578.4" cy="1240.1" rx="4.97" ry="6.35" fill="#ff0000"/><ellipse cx="1588.2" cy="1239.2" rx="4.97" ry="6.35" fill="#ff0000"/><path d="M1009.6,938.4 V1328.6" fill="none" stroke="#585858" stroke-width="2"/><path d="M1008.6,1328.6 H1671.5" fill="none" stroke="#3a3a3a" stroke-width="2.2"/><path d="M1004.1,1014.5 H1009.6" stroke="#555" stroke-width="2"/><path d="M1004.1,1113.0 H1009.6" stroke="#555" stroke-width="2"/><path d="M1004.1,1211.5 H1009.6" stroke="#555" stroke-width="2"/><path d="M1004.1,1310.0 H1009.6" stroke="#555" stroke-width="2"/><path d="M1014.1,1328.6 V1335.1" stroke="#555" stroke-width="2"/><path d="M1139.6,1328.6 V1335.1" stroke="#555" stroke-width="2"/><path d="M1265.0,1328.6 V1335.1" stroke="#555" stroke-width="2"/><path d="M1390.5,1328.6 V1335.1" stroke="#555" stroke-width="2"/><path d="M1516.0,1328.6 V1335.1" stroke="#555" stroke-width="2"/><path d="M1641.4,1328.6 V1335.1" stroke="#555" stroke-width="2"/><path d="M1044.4,930.6 L1227.9,995.6 L1168.7,1108.4 L1050.1,1111.2 L1031.0,1001.3 Z" fill="none" stroke="#5a6079" stroke-width="1.5" stroke-dasharray="3.7 3.6"/><path d="M1292.0,992.7 L1356.5,1191.2 L1458.0,1192.3 L1515.2,1206.7 L1447.0,1262.0 L1443.0,1291.0 L1416.2,1319.4 L1321.2,1316.5 L1170.7,1121.5 Z" fill="none" stroke="#6a9e7a" stroke-width="1.5" stroke-dasharray="3.7 3.6"/><path d="M1339.4,957.9 L1596.7,931.2 L1661.1,1311.9 L1448.6,1310.3 L1439.4,1270.4 L1517.7,1244.3 L1517.7,1173.7 L1422.5,1190.6 L1335.0,1102.0 Z" fill="none" stroke="#d47886" stroke-width="1.5" stroke-dasharray="3.7 3.6"/><g font-size="33"><text x="117.1" y="24.2" fill="#000" font-style="italic">Rorc</text><text x="601.0" y="27.0" fill="#d4141c">CD8 T</text><text x="163.4" y="272.9" fill="#0c1f5a">MAIT</text><text x="261.4" y="396.1" fill="#18963f">CD4 T</text><text x="56.6" y="156.2" fill="#000">2.5</text><text x="84.5" y="254.2" fill="#000">0</text><text x="46.2" y="353.6" fill="#000">-2.5</text><text x="87.8" y="501.4" fill="#000">-7.5</text><text x="216.4" y="501.4" fill="#000">-5</text><text x="332.9" y="501.4" fill="#000">-2.5</text><text x="479.3" y="501.4" fill="#000">0</text><text x="584.4" y="501.4" fill="#000">2.5</text><text x="722.0" y="501.4" fill="#000">5</text><text x="323.5" y="585.0" fill="#000">UMAP1</text><text x="0" y="0" transform="translate(24.9,338.4) rotate(-90)" fill="#000">UMAP2</text><text x="1019.2" y="30.4" fill="#000" font-style="italic">Zbtb16</text><text x="1498.7" y="27.0" fill="#d4141c">CD8 T</text><text x="1062.3" y="261.1" fill="#0c1f5a">MAIT</text><text x="1159.8" y="395.9" fill="#18963f">CD4 T</text><text x="949.8" y="159.1" fill="#000">2.5</text><text x="977.4" y="257.9" fill="#000">0</text><text x="939.0" y="360.2" fill="#000">-2.5</text><text x="980.8" y="508.8" fill="#000">-7.5</text><text x="1109.2" y="508.8" fill="#000">-5</text><text x="1223.7" y="508.8" fill="#000">-2.5</text><text x="1372.2" y="508.8" fill="#000">0</text><text x="1477.2" y="508.8" fill="#000">2.5</text><text x="1614.7" y="508.8" fill="#000">5</text><text x="1215.8" y="584.8" fill="#000">UMAP1</text><text x="0" y="0" transform="translate(919.8,348.2) rotate(-90)" fill="#000">UMAP2</text><text x="117.6" y="892.8" fill="#000" font-style="italic">Tbx21</text><text x="590.4" y="911.8" fill="#d4141c">CD8 T</text><text x="153.6" y="1146.0" fill="#0c1f5a">MAIT</text><text x="251.2" y="1280.7" fill="#18963f">CD4 T</text><text x="56.2" y="1020.4" fill="#000">2.5</text><text x="84.5" y="1118.8" fill="#000">0</text><text x="46.2" y="1219.8" fill="#000">-2.5</text><text x="87.8" y="1376.0" fill="#000">-7.5</text><text x="214.8" y="1376.0" fill="#000">-5</text><text x="331.1" y="1376.0" fill="#000">-2.5</text><text x="477.7" y="1376.0" fill="#000">0</text><text x="583.1" y="1376.0" fill="#000">2.5</text><text x="720.3" y="1376.0" fill="#000">5</text><text x="377.2" y="1429.2" fill="#000">UMAP1</text><text x="0" y="0" transform="translate(24.9,1191.2) rotate(-90)" fill="#000">UMAP2</text><text x="1019.0" y="892.5" fill="#000" font-style="italic">Eomes</text><text x="1500.3" y="908.9" fill="#d4141c">CD8 T</text><text x="1063.6" y="1143.2" fill="#0c1f5a">MAIT</text><text x="1161.2" y="1278.0" fill="#18963f">CD4 T</text><text x="952.9" y="1025.0" fill="#000">2.5</text><text x="981.5" y="1122.6" fill="#000">0</text><text x="942.9" y="1224.8" fill="#000">-2.5</text><text x="988.3" y="1376.0" fill="#000">-7.5</text><text x="1115.8" y="1376.0" fill="#000">-5</text><text x="1231.9" y="1376.0" fill="#000">-2.5</text><text x="1379.4" y="1376.0" fill="#000">0</text><text x="1484.6" y="1376.0" fill="#000">2.5</text><text x="1622.5" y="1376.0" fill="#000">5</text><text x="1278.1" y="1429.2" fill="#000">UMAP1</text><text x="0" y="0" transform="translate(920.4,1191.2) rotate(-90)" fill="#000">UMAP2</text></g>
</svg></body></html>
